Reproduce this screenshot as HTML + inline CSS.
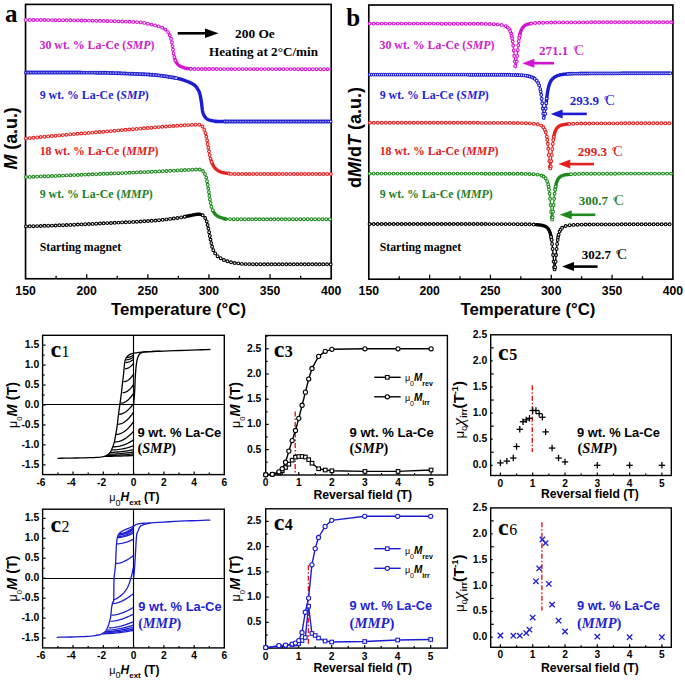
<!DOCTYPE html>
<html><head><meta charset="utf-8"><style>
html,body{margin:0;padding:0;background:#fff;}
svg{display:block;}
</style></head><body>
<svg width="685" height="681" viewBox="0 0 685 681">
<rect width="685" height="681" fill="#fff"/>
<rect x="25.55" y="4.4" width="305.65" height="274.35" fill="none" stroke="#000" stroke-width="1.65"/>
<line x1="56.11" y1="278.75" x2="56.11" y2="275.75" stroke="#000" stroke-width="1.3"/>
<line x1="86.68" y1="278.75" x2="86.68" y2="274.25" stroke="#000" stroke-width="1.3"/>
<line x1="117.24" y1="278.75" x2="117.24" y2="275.75" stroke="#000" stroke-width="1.3"/>
<line x1="147.81" y1="278.75" x2="147.81" y2="274.25" stroke="#000" stroke-width="1.3"/>
<line x1="178.38" y1="278.75" x2="178.38" y2="275.75" stroke="#000" stroke-width="1.3"/>
<line x1="208.94" y1="278.75" x2="208.94" y2="274.25" stroke="#000" stroke-width="1.3"/>
<line x1="239.5" y1="278.75" x2="239.5" y2="275.75" stroke="#000" stroke-width="1.3"/>
<line x1="270.07" y1="278.75" x2="270.07" y2="274.25" stroke="#000" stroke-width="1.3"/>
<line x1="300.63" y1="278.75" x2="300.63" y2="275.75" stroke="#000" stroke-width="1.3"/>
<text x="25.55" y="295.3" font-family="'Liberation Sans', sans-serif" font-size="12.2" font-weight="bold" font-style="normal" fill="#000" text-anchor="middle" textLength="20.4" lengthAdjust="spacingAndGlyphs">150</text>
<text x="86.68" y="295.3" font-family="'Liberation Sans', sans-serif" font-size="12.2" font-weight="bold" font-style="normal" fill="#000" text-anchor="middle" textLength="20.4" lengthAdjust="spacingAndGlyphs">200</text>
<text x="147.81" y="295.3" font-family="'Liberation Sans', sans-serif" font-size="12.2" font-weight="bold" font-style="normal" fill="#000" text-anchor="middle" textLength="20.4" lengthAdjust="spacingAndGlyphs">250</text>
<text x="208.94" y="295.3" font-family="'Liberation Sans', sans-serif" font-size="12.2" font-weight="bold" font-style="normal" fill="#000" text-anchor="middle" textLength="20.4" lengthAdjust="spacingAndGlyphs">300</text>
<text x="270.07" y="295.3" font-family="'Liberation Sans', sans-serif" font-size="12.2" font-weight="bold" font-style="normal" fill="#000" text-anchor="middle" textLength="20.4" lengthAdjust="spacingAndGlyphs">350</text>
<text x="331.2" y="295.3" font-family="'Liberation Sans', sans-serif" font-size="12.2" font-weight="bold" font-style="normal" fill="#000" text-anchor="middle" textLength="20.4" lengthAdjust="spacingAndGlyphs">400</text>
<text x="111" y="315.4" font-family="'Liberation Sans', sans-serif" font-size="16" font-weight="bold" font-style="normal" fill="#000" text-anchor="start" textLength="135" lengthAdjust="spacingAndGlyphs">Temperature (°C)</text>
<text transform="translate(17.1,169.5) rotate(-90)" font-family="'Liberation Sans', sans-serif" font-size="18" font-weight="bold" textLength="62.3" lengthAdjust="spacingAndGlyphs"><tspan font-style="italic">M</tspan> (a.u.)</text>
<text x="5" y="21.5" font-family="'Liberation Serif', serif" font-size="25" font-weight="bold" font-style="normal" fill="#000" text-anchor="start">a</text>
<path d="M26,19.9 L28.58,19.92 L31.97,19.95 L36,19.98 L40.5,20.01 L45.32,20.05 L50.28,20.1 L55.23,20.15 L60,20.2 L64.82,20.26 L69.93,20.32 L75.22,20.39 L80.56,20.47 L85.83,20.55 L90.91,20.63 L95.68,20.71 L100,20.8 L103.91,20.89 L107.54,20.99 L110.91,21.09 L114.06,21.19 L117.02,21.3 L119.8,21.4 L122.46,21.5 L125,21.6 L127.39,21.68 L129.57,21.75 L131.58,21.82 L133.44,21.88 L135.18,21.95 L136.84,22.04 L138.43,22.16 L140,22.3 L141.49,22.48 L142.85,22.67 L144.12,22.89 L145.31,23.13 L146.47,23.38 L147.62,23.65 L148.78,23.92 L150,24.2 L151.28,24.49 L152.62,24.8 L153.97,25.13 L155.31,25.46 L156.62,25.8 L157.85,26.14 L158.99,26.47 L160,26.8 L160.88,27.12 L161.65,27.43 L162.33,27.73 L162.94,28.04 L163.49,28.34 L164.01,28.66 L164.5,28.97 L165,29.3 L165.48,29.63 L165.91,29.96 L166.32,30.29 L166.69,30.63 L167.04,30.98 L167.37,31.34 L167.69,31.71 L168,32.1 L168.3,32.5 L168.58,32.91 L168.85,33.33 L169.09,33.76 L169.33,34.2 L169.56,34.68 L169.78,35.17 L170,35.7 L170.21,36.27 L170.42,36.87 L170.62,37.5 L170.81,38.15 L171,38.81 L171.17,39.48 L171.34,40.15 L171.5,40.8 L171.65,41.43 L171.78,42.05 L171.91,42.65 L172.03,43.27 L172.14,43.9 L172.25,44.56 L172.37,45.25 L172.5,46 L172.63,46.81 L172.76,47.69 L172.89,48.6 L173.02,49.54 L173.16,50.49 L173.3,51.43 L173.45,52.34 L173.6,53.2 L173.76,54.03 L173.91,54.85 L174.08,55.66 L174.24,56.44 L174.42,57.21 L174.6,57.94 L174.79,58.64 L175,59.3 L175.21,59.92 L175.43,60.5 L175.66,61.05 L175.9,61.57 L176.15,62.06 L176.42,62.53 L176.7,62.97 L177,63.4 L177.31,63.8 L177.63,64.17 L177.96,64.51 L178.31,64.83 L178.68,65.13 L179.09,65.43 L179.52,65.71 L180,66 L180.53,66.29 L181.11,66.57 L181.73,66.85 L182.38,67.12 L183.04,67.37 L183.7,67.61 L184.36,67.82 L185,68 L185.59,68.15 L186.13,68.28 L186.66,68.38 L187.19,68.46 L187.76,68.52 L188.4,68.58 L189.14,68.64 L190,68.7 L190.67,68.76 L190.98,68.81 L191.19,68.85 L191.56,68.89 L192.37,68.92 L193.87,68.95 L196.32,68.97 L200,69 L205.03,69.02 L211.23,69.04 L218.35,69.05 L226.19,69.06 L234.5,69.07 L243.05,69.08 L251.63,69.09 L260,69.1 L268.83,69.11 L278.64,69.13 L288.94,69.14 L299.25,69.16 L309.09,69.17 L317.98,69.18 L325.45,69.19 L331,69.2" fill="none" stroke="#d414d4" stroke-width="1.3" stroke-linejoin="round"/>
<path d="M175,59.3 L175.21,59.92 L175.43,60.5 L175.66,61.05 L175.9,61.57 L176.15,62.06 L176.42,62.53 L176.7,62.97 L177,63.4 L177.31,63.8 L177.63,64.17 L177.96,64.51 L178.31,64.83 L178.68,65.13 L179.09,65.43 L179.52,65.71 L180,66 L180.53,66.29 L181.11,66.57 L181.73,66.85 L182.38,67.12 L183.04,67.37 L183.7,67.61 L184.36,67.82 L185,68 L185.59,68.15 L186.13,68.28 L186.66,68.38 L187.19,68.46 L187.76,68.52 L188.4,68.58 L189.14,68.64 L190,68.7 L190.67,68.76 L190.98,68.81" fill="none" stroke="#d414d4" stroke-width="3.4" stroke-linejoin="round" stroke-linecap="round"/>
<g fill="#fff" stroke="#d414d4" stroke-width="1.1"><circle cx="26.0" cy="19.9" r="1.4"/><circle cx="29.7" cy="19.9" r="1.4"/><circle cx="33.4" cy="20.0" r="1.4"/><circle cx="37.1" cy="20.0" r="1.4"/><circle cx="40.8" cy="20.0" r="1.4"/><circle cx="44.5" cy="20.0" r="1.4"/><circle cx="48.2" cy="20.1" r="1.4"/><circle cx="51.9" cy="20.1" r="1.4"/><circle cx="55.6" cy="20.2" r="1.4"/><circle cx="59.3" cy="20.2" r="1.4"/><circle cx="63.0" cy="20.2" r="1.4"/><circle cx="66.7" cy="20.3" r="1.4"/><circle cx="70.4" cy="20.3" r="1.4"/><circle cx="74.1" cy="20.4" r="1.4"/><circle cx="77.8" cy="20.4" r="1.4"/><circle cx="81.5" cy="20.5" r="1.4"/><circle cx="85.2" cy="20.5" r="1.4"/><circle cx="88.9" cy="20.6" r="1.4"/><circle cx="92.6" cy="20.7" r="1.4"/><circle cx="96.3" cy="20.7" r="1.4"/><circle cx="100.0" cy="20.8" r="1.4"/><circle cx="103.7" cy="20.9" r="1.4"/><circle cx="107.4" cy="21.0" r="1.4"/><circle cx="111.1" cy="21.1" r="1.4"/><circle cx="114.8" cy="21.2" r="1.4"/><circle cx="118.5" cy="21.4" r="1.4"/><circle cx="122.2" cy="21.5" r="1.4"/><circle cx="125.9" cy="21.6" r="1.4"/><circle cx="129.6" cy="21.8" r="1.4"/><circle cx="133.3" cy="21.9" r="1.4"/><circle cx="137.0" cy="22.1" r="1.4"/><circle cx="140.7" cy="22.4" r="1.4"/><circle cx="144.3" cy="22.9" r="1.4"/><circle cx="147.9" cy="23.7" r="1.4"/><circle cx="151.5" cy="24.6" r="1.4"/><circle cx="155.1" cy="25.4" r="1.4"/><circle cx="158.7" cy="26.4" r="1.4"/><circle cx="162.2" cy="27.7" r="1.4"/><circle cx="165.4" cy="29.5" r="1.4"/><circle cx="168.0" cy="32.1" r="1.4"/><circle cx="169.8" cy="35.3" r="1.4"/><circle cx="171.0" cy="38.8" r="1.4"/><circle cx="171.9" cy="42.4" r="1.4"/><circle cx="172.5" cy="46.1" r="1.4"/><circle cx="173.0" cy="49.7" r="1.4"/><circle cx="173.6" cy="53.4" r="1.4"/><circle cx="174.4" cy="57.0" r="1.4"/><circle cx="175.4" cy="60.5" r="1.4"/><circle cx="190.8" cy="68.8" r="1.4"/><circle cx="194.5" cy="69.0" r="1.4"/><circle cx="198.2" cy="69.0" r="1.4"/><circle cx="201.9" cy="69.0" r="1.4"/><circle cx="205.6" cy="69.0" r="1.4"/><circle cx="209.3" cy="69.0" r="1.4"/><circle cx="213.0" cy="69.0" r="1.4"/><circle cx="216.7" cy="69.0" r="1.4"/><circle cx="220.4" cy="69.1" r="1.4"/><circle cx="224.1" cy="69.1" r="1.4"/><circle cx="227.8" cy="69.1" r="1.4"/><circle cx="231.5" cy="69.1" r="1.4"/><circle cx="235.2" cy="69.1" r="1.4"/><circle cx="238.9" cy="69.1" r="1.4"/><circle cx="242.6" cy="69.1" r="1.4"/><circle cx="246.3" cy="69.1" r="1.4"/><circle cx="250.0" cy="69.1" r="1.4"/><circle cx="253.7" cy="69.1" r="1.4"/><circle cx="257.4" cy="69.1" r="1.4"/><circle cx="261.1" cy="69.1" r="1.4"/><circle cx="264.8" cy="69.1" r="1.4"/><circle cx="268.5" cy="69.1" r="1.4"/><circle cx="272.2" cy="69.1" r="1.4"/><circle cx="275.9" cy="69.1" r="1.4"/><circle cx="279.6" cy="69.1" r="1.4"/><circle cx="283.3" cy="69.1" r="1.4"/><circle cx="287.0" cy="69.1" r="1.4"/><circle cx="290.7" cy="69.1" r="1.4"/><circle cx="294.4" cy="69.1" r="1.4"/><circle cx="298.1" cy="69.2" r="1.4"/><circle cx="301.8" cy="69.2" r="1.4"/><circle cx="305.5" cy="69.2" r="1.4"/><circle cx="309.2" cy="69.2" r="1.4"/><circle cx="312.9" cy="69.2" r="1.4"/><circle cx="316.6" cy="69.2" r="1.4"/><circle cx="320.3" cy="69.2" r="1.4"/><circle cx="324.0" cy="69.2" r="1.4"/><circle cx="327.7" cy="69.2" r="1.4"/></g>
<path d="M26,72.5 L28.58,72.5 L31.97,72.5 L36,72.49 L40.5,72.49 L45.32,72.49 L50.28,72.49 L55.23,72.49 L60,72.5 L64.82,72.51 L69.93,72.52 L75.22,72.53 L80.56,72.55 L85.83,72.57 L90.91,72.6 L95.68,72.64 L100,72.7 L103.84,72.77 L107.3,72.85 L110.47,72.94 L113.44,73.04 L116.28,73.15 L119.1,73.26 L121.98,73.38 L125,73.5 L128.19,73.62 L131.48,73.74 L134.81,73.87 L138.12,74 L141.36,74.14 L144.45,74.28 L147.35,74.44 L150,74.6 L152.35,74.77 L154.45,74.94 L156.36,75.11 L158.12,75.29 L159.81,75.49 L161.48,75.7 L163.19,75.94 L165,76.2 L166.91,76.49 L168.87,76.8 L170.84,77.13 L172.81,77.48 L174.74,77.84 L176.6,78.22 L178.36,78.6 L180,79 L181.52,79.42 L182.97,79.86 L184.34,80.32 L185.62,80.79 L186.84,81.26 L187.97,81.72 L189.02,82.17 L190,82.6 L190.88,83 L191.66,83.38 L192.34,83.74 L192.96,84.1 L193.51,84.46 L194.03,84.82 L194.52,85.2 L195,85.6 L195.45,86.02 L195.86,86.45 L196.22,86.9 L196.54,87.35 L196.85,87.81 L197.14,88.27 L197.42,88.74 L197.7,89.2 L197.98,89.65 L198.25,90.08 L198.5,90.51 L198.74,90.95 L198.97,91.41 L199.19,91.89 L199.4,92.42 L199.6,93 L199.79,93.64 L199.98,94.34 L200.15,95.08 L200.31,95.85 L200.47,96.64 L200.62,97.43 L200.76,98.23 L200.9,99 L201.03,99.77 L201.16,100.54 L201.27,101.32 L201.38,102.1 L201.49,102.88 L201.59,103.66 L201.7,104.43 L201.8,105.2 L201.9,105.97 L201.99,106.76 L202.08,107.54 L202.16,108.33 L202.25,109.09 L202.35,109.83 L202.47,110.54 L202.6,111.2 L202.75,111.82 L202.9,112.4 L203.07,112.96 L203.25,113.48 L203.44,113.98 L203.65,114.47 L203.86,114.94 L204.1,115.4 L204.35,115.85 L204.61,116.29 L204.89,116.7 L205.17,117.11 L205.48,117.49 L205.8,117.85 L206.14,118.19 L206.5,118.5 L206.87,118.78 L207.24,119.04 L207.62,119.27 L208.03,119.48 L208.46,119.68 L208.92,119.86 L209.44,120.03 L210,120.2 L210.6,120.36 L211.23,120.52 L211.89,120.66 L212.59,120.79 L213.35,120.91 L214.16,121.02 L215.04,121.11 L216,121.2 L216.41,121.27 L215.99,121.33 L215.28,121.38 L214.81,121.41 L215.12,121.44 L216.73,121.46 L220.18,121.48 L226,121.5 L235.3,121.51 L248.03,121.52 L263.03,121.52 L279.12,121.52 L295.14,121.51 L309.91,121.51 L322.25,121.5 L331,121.5" fill="none" stroke="#1c1cd0" stroke-width="1.3" stroke-linejoin="round"/>
<path d="M176.6,78.22 L178.36,78.6 L180,79 L181.52,79.42 L182.97,79.86 L184.34,80.32 L185.62,80.79 L186.84,81.26 L187.97,81.72 L189.02,82.17 L190,82.6 L190.88,83 L191.66,83.38 L192.34,83.74 L192.96,84.1 L193.51,84.46 L194.03,84.82 L194.52,85.2 L195,85.6 L195.45,86.02 L195.86,86.45 L196.22,86.9 L196.54,87.35 L196.85,87.81 L197.14,88.27 L197.42,88.74 L197.7,89.2 L197.98,89.65 L198.25,90.08 L198.5,90.51 L198.74,90.95 L198.97,91.41 L199.19,91.89 L199.4,92.42 L199.6,93 L199.79,93.64 L199.98,94.34 L200.15,95.08 L200.31,95.85 L200.47,96.64 L200.62,97.43 L200.76,98.23 L200.9,99 L201.03,99.77 L201.16,100.54 L201.27,101.32 L201.38,102.1 L201.49,102.88 L201.59,103.66 L201.7,104.43 L201.8,105.2 L201.9,105.97 L201.99,106.76 L202.08,107.54 L202.16,108.33 L202.25,109.09 L202.35,109.83 L202.47,110.54 L202.6,111.2 L202.75,111.82 L202.9,112.4 L203.07,112.96 L203.25,113.48 L203.44,113.98 L203.65,114.47 L203.86,114.94 L204.1,115.4 L204.35,115.85 L204.61,116.29 L204.89,116.7 L205.17,117.11 L205.48,117.49 L205.8,117.85 L206.14,118.19 L206.5,118.5 L206.87,118.78 L207.24,119.04 L207.62,119.27 L208.03,119.48 L208.46,119.68 L208.92,119.86 L209.44,120.03 L210,120.2 L210.6,120.36 L211.23,120.52 L211.89,120.66 L212.59,120.79 L213.35,120.91 L214.16,121.02 L215.04,121.11 L216,121.2 L216.41,121.27 L215.99,121.33 L215.28,121.38 L214.81,121.41 L215.12,121.44 L216.73,121.46 L220.18,121.48 L226,121.5" fill="none" stroke="#1c1cd0" stroke-width="3.4" stroke-linejoin="round" stroke-linecap="round"/>
<g fill="#fff" stroke="#1c1cd0" stroke-width="1.1"><circle cx="26.0" cy="72.5" r="1.4"/><circle cx="27.6" cy="72.5" r="1.4"/><circle cx="29.2" cy="72.5" r="1.4"/><circle cx="30.8" cy="72.5" r="1.4"/><circle cx="32.4" cy="72.5" r="1.4"/><circle cx="34.0" cy="72.5" r="1.4"/><circle cx="35.6" cy="72.5" r="1.4"/><circle cx="37.2" cy="72.5" r="1.4"/><circle cx="38.8" cy="72.5" r="1.4"/><circle cx="40.4" cy="72.5" r="1.4"/><circle cx="42.0" cy="72.5" r="1.4"/><circle cx="43.6" cy="72.5" r="1.4"/><circle cx="45.2" cy="72.5" r="1.4"/><circle cx="46.8" cy="72.5" r="1.4"/><circle cx="48.4" cy="72.5" r="1.4"/><circle cx="50.0" cy="72.5" r="1.4"/><circle cx="51.6" cy="72.5" r="1.4"/><circle cx="53.2" cy="72.5" r="1.4"/><circle cx="54.8" cy="72.5" r="1.4"/><circle cx="56.4" cy="72.5" r="1.4"/><circle cx="58.0" cy="72.5" r="1.4"/><circle cx="59.6" cy="72.5" r="1.4"/><circle cx="61.2" cy="72.5" r="1.4"/><circle cx="62.8" cy="72.5" r="1.4"/><circle cx="64.4" cy="72.5" r="1.4"/><circle cx="66.0" cy="72.5" r="1.4"/><circle cx="67.6" cy="72.5" r="1.4"/><circle cx="69.2" cy="72.5" r="1.4"/><circle cx="70.8" cy="72.5" r="1.4"/><circle cx="72.4" cy="72.5" r="1.4"/><circle cx="74.0" cy="72.5" r="1.4"/><circle cx="75.6" cy="72.5" r="1.4"/><circle cx="77.2" cy="72.5" r="1.4"/><circle cx="78.8" cy="72.5" r="1.4"/><circle cx="80.4" cy="72.5" r="1.4"/><circle cx="82.0" cy="72.6" r="1.4"/><circle cx="83.6" cy="72.6" r="1.4"/><circle cx="85.2" cy="72.6" r="1.4"/><circle cx="86.8" cy="72.6" r="1.4"/><circle cx="88.4" cy="72.6" r="1.4"/><circle cx="90.0" cy="72.6" r="1.4"/><circle cx="91.6" cy="72.6" r="1.4"/><circle cx="93.2" cy="72.6" r="1.4"/><circle cx="94.8" cy="72.6" r="1.4"/><circle cx="96.4" cy="72.7" r="1.4"/><circle cx="98.0" cy="72.7" r="1.4"/><circle cx="99.6" cy="72.7" r="1.4"/><circle cx="101.2" cy="72.7" r="1.4"/><circle cx="102.8" cy="72.8" r="1.4"/><circle cx="104.4" cy="72.8" r="1.4"/><circle cx="106.0" cy="72.8" r="1.4"/><circle cx="107.6" cy="72.9" r="1.4"/><circle cx="109.2" cy="72.9" r="1.4"/><circle cx="110.8" cy="73.0" r="1.4"/><circle cx="112.4" cy="73.0" r="1.4"/><circle cx="114.0" cy="73.1" r="1.4"/><circle cx="115.6" cy="73.1" r="1.4"/><circle cx="117.2" cy="73.2" r="1.4"/><circle cx="118.8" cy="73.3" r="1.4"/><circle cx="120.4" cy="73.3" r="1.4"/><circle cx="122.0" cy="73.4" r="1.4"/><circle cx="123.6" cy="73.4" r="1.4"/><circle cx="125.2" cy="73.5" r="1.4"/><circle cx="126.8" cy="73.6" r="1.4"/><circle cx="128.4" cy="73.6" r="1.4"/><circle cx="130.0" cy="73.7" r="1.4"/><circle cx="131.6" cy="73.7" r="1.4"/><circle cx="133.2" cy="73.8" r="1.4"/><circle cx="134.8" cy="73.9" r="1.4"/><circle cx="136.4" cy="73.9" r="1.4"/><circle cx="138.0" cy="74.0" r="1.4"/><circle cx="139.6" cy="74.1" r="1.4"/><circle cx="141.2" cy="74.1" r="1.4"/><circle cx="142.8" cy="74.2" r="1.4"/><circle cx="144.4" cy="74.3" r="1.4"/><circle cx="146.0" cy="74.4" r="1.4"/><circle cx="147.6" cy="74.4" r="1.4"/><circle cx="149.2" cy="74.5" r="1.4"/><circle cx="150.8" cy="74.7" r="1.4"/><circle cx="152.4" cy="74.8" r="1.4"/><circle cx="153.9" cy="74.9" r="1.4"/><circle cx="155.5" cy="75.0" r="1.4"/><circle cx="157.1" cy="75.2" r="1.4"/><circle cx="158.7" cy="75.4" r="1.4"/><circle cx="160.3" cy="75.6" r="1.4"/><circle cx="161.9" cy="75.8" r="1.4"/><circle cx="163.5" cy="76.0" r="1.4"/><circle cx="165.1" cy="76.2" r="1.4"/><circle cx="166.7" cy="76.4" r="1.4"/><circle cx="168.2" cy="76.7" r="1.4"/><circle cx="169.8" cy="77.0" r="1.4"/><circle cx="171.4" cy="77.2" r="1.4"/><circle cx="173.0" cy="77.5" r="1.4"/><circle cx="174.5" cy="77.8" r="1.4"/><circle cx="176.1" cy="78.1" r="1.4"/><circle cx="225.0" cy="121.5" r="1.4"/><circle cx="226.6" cy="121.5" r="1.4"/><circle cx="228.2" cy="121.5" r="1.4"/><circle cx="229.8" cy="121.5" r="1.4"/><circle cx="231.4" cy="121.5" r="1.4"/><circle cx="233.0" cy="121.5" r="1.4"/><circle cx="234.6" cy="121.5" r="1.4"/><circle cx="236.2" cy="121.5" r="1.4"/><circle cx="237.8" cy="121.5" r="1.4"/><circle cx="239.4" cy="121.5" r="1.4"/><circle cx="241.0" cy="121.5" r="1.4"/><circle cx="242.6" cy="121.5" r="1.4"/><circle cx="244.2" cy="121.5" r="1.4"/><circle cx="245.8" cy="121.5" r="1.4"/><circle cx="247.4" cy="121.5" r="1.4"/><circle cx="249.0" cy="121.5" r="1.4"/><circle cx="250.6" cy="121.5" r="1.4"/><circle cx="252.2" cy="121.5" r="1.4"/><circle cx="253.8" cy="121.5" r="1.4"/><circle cx="255.4" cy="121.5" r="1.4"/><circle cx="257.0" cy="121.5" r="1.4"/><circle cx="258.6" cy="121.5" r="1.4"/><circle cx="260.2" cy="121.5" r="1.4"/><circle cx="261.8" cy="121.5" r="1.4"/><circle cx="263.4" cy="121.5" r="1.4"/><circle cx="265.0" cy="121.5" r="1.4"/><circle cx="266.6" cy="121.5" r="1.4"/><circle cx="268.2" cy="121.5" r="1.4"/><circle cx="269.8" cy="121.5" r="1.4"/><circle cx="271.4" cy="121.5" r="1.4"/><circle cx="273.0" cy="121.5" r="1.4"/><circle cx="274.6" cy="121.5" r="1.4"/><circle cx="276.2" cy="121.5" r="1.4"/><circle cx="277.8" cy="121.5" r="1.4"/><circle cx="279.4" cy="121.5" r="1.4"/><circle cx="281.0" cy="121.5" r="1.4"/><circle cx="282.6" cy="121.5" r="1.4"/><circle cx="284.2" cy="121.5" r="1.4"/><circle cx="285.8" cy="121.5" r="1.4"/><circle cx="287.4" cy="121.5" r="1.4"/><circle cx="289.0" cy="121.5" r="1.4"/><circle cx="290.6" cy="121.5" r="1.4"/><circle cx="292.2" cy="121.5" r="1.4"/><circle cx="293.8" cy="121.5" r="1.4"/><circle cx="295.4" cy="121.5" r="1.4"/><circle cx="297.0" cy="121.5" r="1.4"/><circle cx="298.6" cy="121.5" r="1.4"/><circle cx="300.2" cy="121.5" r="1.4"/><circle cx="301.8" cy="121.5" r="1.4"/><circle cx="303.4" cy="121.5" r="1.4"/><circle cx="305.0" cy="121.5" r="1.4"/><circle cx="306.6" cy="121.5" r="1.4"/><circle cx="308.2" cy="121.5" r="1.4"/><circle cx="309.8" cy="121.5" r="1.4"/><circle cx="311.4" cy="121.5" r="1.4"/><circle cx="313.0" cy="121.5" r="1.4"/><circle cx="314.6" cy="121.5" r="1.4"/><circle cx="316.2" cy="121.5" r="1.4"/><circle cx="317.8" cy="121.5" r="1.4"/><circle cx="319.4" cy="121.5" r="1.4"/><circle cx="321.0" cy="121.5" r="1.4"/><circle cx="322.6" cy="121.5" r="1.4"/><circle cx="324.2" cy="121.5" r="1.4"/><circle cx="325.8" cy="121.5" r="1.4"/><circle cx="327.4" cy="121.5" r="1.4"/><circle cx="329.0" cy="121.5" r="1.4"/><circle cx="330.6" cy="121.5" r="1.4"/></g>
<path d="M26,138.4 L28.58,138.16 L31.97,137.85 L36,137.47 L40.5,137.06 L45.32,136.61 L50.28,136.16 L55.23,135.72 L60,135.3 L64.78,134.89 L69.81,134.47 L75,134.05 L80.25,133.62 L85.47,133.2 L90.56,132.78 L95.44,132.38 L100,132 L104.23,131.64 L108.2,131.3 L111.98,130.96 L115.62,130.64 L119.19,130.33 L122.73,130.02 L126.32,129.71 L130,129.4 L133.82,129.08 L137.73,128.76 L141.69,128.44 L145.62,128.13 L149.48,127.82 L153.2,127.53 L156.73,127.25 L160,127 L163.01,126.77 L165.82,126.57 L168.45,126.38 L170.94,126.21 L173.31,126.04 L175.59,125.89 L177.81,125.74 L180,125.6 L182.19,125.46 L184.35,125.32 L186.45,125.19 L188.47,125.06 L190.36,124.95 L192.11,124.85 L193.66,124.77 L195,124.7 L196.08,124.64 L196.9,124.59 L197.52,124.55 L198,124.53 L198.38,124.53 L198.73,124.55 L199.08,124.61 L199.5,124.7 L199.95,124.82 L200.37,124.95 L200.76,125.1 L201.12,125.29 L201.48,125.51 L201.82,125.78 L202.16,126.11 L202.5,126.5 L202.84,126.95 L203.17,127.44 L203.5,127.99 L203.81,128.58 L204.12,129.23 L204.42,129.93 L204.71,130.69 L205,131.5 L205.28,132.38 L205.54,133.34 L205.8,134.37 L206.04,135.44 L206.29,136.55 L206.53,137.69 L206.76,138.84 L207,140 L207.24,141.19 L207.47,142.43 L207.69,143.71 L207.92,145 L208.14,146.29 L208.36,147.57 L208.58,148.81 L208.8,150 L209.01,151.15 L209.21,152.28 L209.41,153.39 L209.61,154.47 L209.81,155.52 L210.02,156.55 L210.25,157.54 L210.5,158.5 L210.77,159.42 L211.05,160.31 L211.33,161.17 L211.64,162 L211.95,162.8 L212.29,163.56 L212.63,164.3 L213,165 L213.38,165.67 L213.76,166.31 L214.15,166.91 L214.56,167.48 L215,168.02 L215.46,168.54 L215.96,169.03 L216.5,169.5 L217.07,169.94 L217.68,170.35 L218.31,170.74 L218.97,171.1 L219.67,171.43 L220.4,171.75 L221.18,172.03 L222,172.3 L222.87,172.54 L223.78,172.75 L224.73,172.94 L225.72,173.1 L226.74,173.24 L227.8,173.37 L228.89,173.49 L230,173.6 L230.6,173.7 L230.46,173.77 L230.04,173.83 L229.81,173.88 L230.23,173.92 L231.76,173.95 L234.86,173.98 L240,174 L248.12,174.02 L259.19,174.03 L272.19,174.03 L286.12,174.03 L299.98,174.02 L312.75,174.01 L323.43,174 L331,174" fill="none" stroke="#e42222" stroke-width="1.3" stroke-linejoin="round"/>
<path d="M211.05,160.31 L211.33,161.17 L211.64,162 L211.95,162.8 L212.29,163.56 L212.63,164.3 L213,165 L213.38,165.67 L213.76,166.31 L214.15,166.91 L214.56,167.48 L215,168.02 L215.46,168.54 L215.96,169.03 L216.5,169.5 L217.07,169.94 L217.68,170.35 L218.31,170.74 L218.97,171.1 L219.67,171.43 L220.4,171.75 L221.18,172.03 L222,172.3 L222.87,172.54 L223.78,172.75 L224.73,172.94 L225.72,173.1 L226.74,173.24 L227.8,173.37" fill="none" stroke="#e42222" stroke-width="3.4" stroke-linejoin="round" stroke-linecap="round"/>
<g fill="#fff" stroke="#e42222" stroke-width="1.1"><circle cx="26.0" cy="138.4" r="1.4"/><circle cx="29.7" cy="138.1" r="1.4"/><circle cx="33.4" cy="137.7" r="1.4"/><circle cx="37.1" cy="137.4" r="1.4"/><circle cx="40.7" cy="137.0" r="1.4"/><circle cx="44.4" cy="136.7" r="1.4"/><circle cx="48.1" cy="136.4" r="1.4"/><circle cx="51.8" cy="136.0" r="1.4"/><circle cx="55.5" cy="135.7" r="1.4"/><circle cx="59.2" cy="135.4" r="1.4"/><circle cx="62.8" cy="135.1" r="1.4"/><circle cx="66.5" cy="134.7" r="1.4"/><circle cx="70.2" cy="134.4" r="1.4"/><circle cx="73.9" cy="134.1" r="1.4"/><circle cx="77.6" cy="133.8" r="1.4"/><circle cx="81.3" cy="133.5" r="1.4"/><circle cx="85.0" cy="133.2" r="1.4"/><circle cx="88.7" cy="132.9" r="1.4"/><circle cx="92.3" cy="132.6" r="1.4"/><circle cx="96.0" cy="132.3" r="1.4"/><circle cx="99.7" cy="132.0" r="1.4"/><circle cx="103.4" cy="131.7" r="1.4"/><circle cx="107.1" cy="131.4" r="1.4"/><circle cx="110.8" cy="131.1" r="1.4"/><circle cx="114.5" cy="130.7" r="1.4"/><circle cx="118.2" cy="130.4" r="1.4"/><circle cx="121.8" cy="130.1" r="1.4"/><circle cx="125.5" cy="129.8" r="1.4"/><circle cx="129.2" cy="129.5" r="1.4"/><circle cx="132.9" cy="129.2" r="1.4"/><circle cx="136.6" cy="128.9" r="1.4"/><circle cx="140.3" cy="128.6" r="1.4"/><circle cx="144.0" cy="128.3" r="1.4"/><circle cx="147.7" cy="128.0" r="1.4"/><circle cx="151.3" cy="127.7" r="1.4"/><circle cx="155.0" cy="127.4" r="1.4"/><circle cx="158.7" cy="127.1" r="1.4"/><circle cx="162.4" cy="126.8" r="1.4"/><circle cx="166.1" cy="126.5" r="1.4"/><circle cx="169.8" cy="126.3" r="1.4"/><circle cx="173.5" cy="126.0" r="1.4"/><circle cx="177.2" cy="125.8" r="1.4"/><circle cx="180.9" cy="125.5" r="1.4"/><circle cx="184.6" cy="125.3" r="1.4"/><circle cx="188.2" cy="125.1" r="1.4"/><circle cx="191.9" cy="124.9" r="1.4"/><circle cx="195.6" cy="124.7" r="1.4"/><circle cx="199.3" cy="124.7" r="1.4"/><circle cx="202.5" cy="126.5" r="1.4"/><circle cx="204.3" cy="129.7" r="1.4"/><circle cx="205.5" cy="133.2" r="1.4"/><circle cx="206.3" cy="136.8" r="1.4"/><circle cx="207.1" cy="140.4" r="1.4"/><circle cx="207.7" cy="144.0" r="1.4"/><circle cx="208.4" cy="147.7" r="1.4"/><circle cx="209.0" cy="151.3" r="1.4"/><circle cx="209.7" cy="154.9" r="1.4"/><circle cx="210.5" cy="158.6" r="1.4"/><circle cx="211.7" cy="162.1" r="1.4"/><circle cx="228.9" cy="173.5" r="1.4"/><circle cx="231.0" cy="173.9" r="1.4"/><circle cx="234.7" cy="174.0" r="1.4"/><circle cx="238.4" cy="174.0" r="1.4"/><circle cx="242.1" cy="174.0" r="1.4"/><circle cx="245.8" cy="174.0" r="1.4"/><circle cx="249.5" cy="174.0" r="1.4"/><circle cx="253.2" cy="174.0" r="1.4"/><circle cx="256.9" cy="174.0" r="1.4"/><circle cx="260.6" cy="174.0" r="1.4"/><circle cx="264.3" cy="174.0" r="1.4"/><circle cx="268.0" cy="174.0" r="1.4"/><circle cx="271.7" cy="174.0" r="1.4"/><circle cx="275.4" cy="174.0" r="1.4"/><circle cx="279.1" cy="174.0" r="1.4"/><circle cx="282.8" cy="174.0" r="1.4"/><circle cx="286.5" cy="174.0" r="1.4"/><circle cx="290.2" cy="174.0" r="1.4"/><circle cx="293.9" cy="174.0" r="1.4"/><circle cx="297.6" cy="174.0" r="1.4"/><circle cx="301.3" cy="174.0" r="1.4"/><circle cx="305.0" cy="174.0" r="1.4"/><circle cx="308.7" cy="174.0" r="1.4"/><circle cx="312.4" cy="174.0" r="1.4"/><circle cx="316.1" cy="174.0" r="1.4"/><circle cx="319.8" cy="174.0" r="1.4"/><circle cx="323.5" cy="174.0" r="1.4"/><circle cx="327.2" cy="174.0" r="1.4"/><circle cx="330.9" cy="174.0" r="1.4"/></g>
<path d="M26,177 L28.58,176.9 L31.97,176.78 L36,176.63 L40.5,176.46 L45.32,176.27 L50.28,176.08 L55.23,175.89 L60,175.7 L64.71,175.51 L69.58,175.3 L74.56,175.09 L79.62,174.88 L84.74,174.66 L89.86,174.43 L94.96,174.22 L100,174 L105.07,173.79 L110.23,173.57 L115.44,173.35 L120.62,173.14 L125.73,172.92 L130.7,172.71 L135.48,172.5 L140,172.3 L144.3,172.1 L148.44,171.9 L152.42,171.7 L156.25,171.51 L159.92,171.32 L163.44,171.14 L166.8,170.96 L170,170.8 L173.05,170.65 L175.96,170.5 L178.72,170.36 L181.31,170.23 L183.75,170.1 L186.01,169.99 L188.09,169.89 L190,169.8 L191.69,169.72 L193.15,169.65 L194.42,169.58 L195.53,169.53 L196.51,169.49 L197.39,169.47 L198.21,169.47 L199,169.5 L199.71,169.55 L200.29,169.6 L200.76,169.67 L201.16,169.76 L201.5,169.88 L201.82,170.04 L202.15,170.25 L202.5,170.5 L202.86,170.79 L203.21,171.12 L203.53,171.48 L203.84,171.88 L204.14,172.32 L204.43,172.82 L204.72,173.38 L205,174 L205.28,174.69 L205.54,175.43 L205.8,176.24 L206.05,177.09 L206.29,178 L206.53,178.96 L206.77,179.96 L207,181 L207.23,182.11 L207.45,183.29 L207.67,184.53 L207.88,185.81 L208.09,187.12 L208.3,188.43 L208.5,189.73 L208.7,191 L208.9,192.27 L209.08,193.56 L209.26,194.86 L209.44,196.16 L209.62,197.43 L209.81,198.68 L210,199.87 L210.2,201 L210.41,202.08 L210.61,203.12 L210.82,204.12 L211.04,205.08 L211.26,206 L211.49,206.88 L211.74,207.71 L212,208.5 L212.27,209.23 L212.55,209.91 L212.84,210.54 L213.14,211.13 L213.46,211.68 L213.79,212.2 L214.13,212.71 L214.5,213.2 L214.87,213.67 L215.25,214.11 L215.63,214.53 L216.03,214.92 L216.46,215.29 L216.93,215.64 L217.44,215.98 L218,216.3 L218.6,216.61 L219.21,216.9 L219.85,217.18 L220.53,217.44 L221.27,217.68 L222.09,217.9 L222.99,218.11 L224,218.3 L224.55,218.47 L224.41,218.62 L224.02,218.76 L223.88,218.88 L224.43,218.98 L226.16,219.06 L229.52,219.14 L235,219.2 L243.59,219.24 L255.27,219.26 L268.99,219.27 L283.69,219.26 L298.3,219.24 L311.76,219.22 L323.01,219.21 L331,219.2" fill="none" stroke="#1e8a1e" stroke-width="1.3" stroke-linejoin="round"/>
<path d="M213.14,211.13 L213.46,211.68 L213.79,212.2 L214.13,212.71 L214.5,213.2 L214.87,213.67 L215.25,214.11 L215.63,214.53 L216.03,214.92 L216.46,215.29 L216.93,215.64 L217.44,215.98 L218,216.3 L218.6,216.61 L219.21,216.9 L219.85,217.18 L220.53,217.44 L221.27,217.68 L222.09,217.9 L222.99,218.11 L224,218.3 L224.55,218.47 L224.41,218.62 L224.02,218.76 L223.88,218.88 L224.43,218.98 L226.16,219.06" fill="none" stroke="#1e8a1e" stroke-width="3.4" stroke-linejoin="round" stroke-linecap="round"/>
<g fill="#fff" stroke="#1e8a1e" stroke-width="1.1"><circle cx="26.0" cy="177.0" r="1.4"/><circle cx="29.7" cy="176.9" r="1.4"/><circle cx="33.4" cy="176.7" r="1.4"/><circle cx="37.1" cy="176.6" r="1.4"/><circle cx="40.8" cy="176.4" r="1.4"/><circle cx="44.5" cy="176.3" r="1.4"/><circle cx="48.2" cy="176.2" r="1.4"/><circle cx="51.9" cy="176.0" r="1.4"/><circle cx="55.6" cy="175.9" r="1.4"/><circle cx="59.3" cy="175.7" r="1.4"/><circle cx="63.0" cy="175.6" r="1.4"/><circle cx="66.7" cy="175.4" r="1.4"/><circle cx="70.4" cy="175.3" r="1.4"/><circle cx="74.1" cy="175.1" r="1.4"/><circle cx="77.8" cy="175.0" r="1.4"/><circle cx="81.5" cy="174.8" r="1.4"/><circle cx="85.2" cy="174.6" r="1.4"/><circle cx="88.8" cy="174.5" r="1.4"/><circle cx="92.5" cy="174.3" r="1.4"/><circle cx="96.2" cy="174.2" r="1.4"/><circle cx="99.9" cy="174.0" r="1.4"/><circle cx="103.6" cy="173.8" r="1.4"/><circle cx="107.3" cy="173.7" r="1.4"/><circle cx="111.0" cy="173.5" r="1.4"/><circle cx="114.7" cy="173.4" r="1.4"/><circle cx="118.4" cy="173.2" r="1.4"/><circle cx="122.1" cy="173.1" r="1.4"/><circle cx="125.8" cy="172.9" r="1.4"/><circle cx="129.5" cy="172.8" r="1.4"/><circle cx="133.2" cy="172.6" r="1.4"/><circle cx="136.9" cy="172.4" r="1.4"/><circle cx="140.6" cy="172.3" r="1.4"/><circle cx="144.3" cy="172.1" r="1.4"/><circle cx="148.0" cy="171.9" r="1.4"/><circle cx="151.7" cy="171.7" r="1.4"/><circle cx="155.4" cy="171.6" r="1.4"/><circle cx="159.1" cy="171.4" r="1.4"/><circle cx="162.8" cy="171.2" r="1.4"/><circle cx="166.5" cy="171.0" r="1.4"/><circle cx="170.2" cy="170.8" r="1.4"/><circle cx="173.9" cy="170.6" r="1.4"/><circle cx="177.6" cy="170.4" r="1.4"/><circle cx="181.3" cy="170.2" r="1.4"/><circle cx="184.9" cy="170.0" r="1.4"/><circle cx="188.6" cy="169.9" r="1.4"/><circle cx="192.3" cy="169.7" r="1.4"/><circle cx="196.0" cy="169.5" r="1.4"/><circle cx="199.7" cy="169.5" r="1.4"/><circle cx="203.0" cy="171.0" r="1.4"/><circle cx="205.0" cy="174.1" r="1.4"/><circle cx="206.2" cy="177.6" r="1.4"/><circle cx="207.0" cy="181.2" r="1.4"/><circle cx="207.7" cy="184.8" r="1.4"/><circle cx="208.3" cy="188.5" r="1.4"/><circle cx="208.9" cy="192.1" r="1.4"/><circle cx="209.4" cy="195.8" r="1.4"/><circle cx="209.9" cy="199.4" r="1.4"/><circle cx="210.6" cy="203.1" r="1.4"/><circle cx="211.4" cy="206.7" r="1.4"/><circle cx="212.7" cy="210.2" r="1.4"/><circle cx="230.0" cy="219.1" r="1.4"/><circle cx="233.7" cy="219.2" r="1.4"/><circle cx="237.4" cy="219.2" r="1.4"/><circle cx="241.1" cy="219.2" r="1.4"/><circle cx="244.8" cy="219.2" r="1.4"/><circle cx="248.5" cy="219.3" r="1.4"/><circle cx="252.2" cy="219.3" r="1.4"/><circle cx="255.9" cy="219.3" r="1.4"/><circle cx="259.6" cy="219.3" r="1.4"/><circle cx="263.3" cy="219.3" r="1.4"/><circle cx="267.0" cy="219.3" r="1.4"/><circle cx="270.7" cy="219.3" r="1.4"/><circle cx="274.4" cy="219.3" r="1.4"/><circle cx="278.1" cy="219.3" r="1.4"/><circle cx="281.8" cy="219.3" r="1.4"/><circle cx="285.5" cy="219.3" r="1.4"/><circle cx="289.2" cy="219.2" r="1.4"/><circle cx="292.9" cy="219.2" r="1.4"/><circle cx="296.6" cy="219.2" r="1.4"/><circle cx="300.3" cy="219.2" r="1.4"/><circle cx="304.0" cy="219.2" r="1.4"/><circle cx="307.7" cy="219.2" r="1.4"/><circle cx="311.4" cy="219.2" r="1.4"/><circle cx="315.1" cy="219.2" r="1.4"/><circle cx="318.8" cy="219.2" r="1.4"/><circle cx="322.5" cy="219.2" r="1.4"/><circle cx="326.2" cy="219.2" r="1.4"/><circle cx="329.9" cy="219.2" r="1.4"/></g>
<path d="M26,226.4 L28.58,226.32 L31.97,226.22 L36,226.1 L40.5,225.96 L45.32,225.81 L50.28,225.65 L55.23,225.48 L60,225.3 L64.64,225.11 L69.34,224.92 L74.12,224.71 L79,224.49 L84,224.26 L89.16,224.02 L94.48,223.77 L100,223.5 L105.94,223.21 L112.38,222.91 L119.12,222.58 L125.94,222.25 L132.64,221.91 L139.02,221.57 L144.88,221.23 L150,220.9 L154.41,220.57 L158.31,220.24 L161.78,219.9 L164.88,219.57 L167.68,219.24 L170.25,218.91 L172.67,218.6 L175,218.3 L177.15,218.01 L179.01,217.73 L180.63,217.45 L182.06,217.19 L183.36,216.93 L184.59,216.68 L185.78,216.44 L187,216.2 L188.22,215.97 L189.36,215.74 L190.45,215.51 L191.47,215.29 L192.43,215.09 L193.34,214.9 L194.19,214.74 L195,214.6 L195.74,214.48 L196.41,214.38 L197.01,214.3 L197.56,214.24 L198.08,214.19 L198.56,214.17 L199.03,214.17 L199.5,214.2 L199.95,214.24 L200.36,214.3 L200.73,214.37 L201.09,214.47 L201.44,214.6 L201.79,214.76 L202.14,214.96 L202.5,215.2 L202.88,215.48 L203.27,215.8 L203.67,216.15 L204.06,216.54 L204.45,216.96 L204.82,217.43 L205.17,217.94 L205.5,218.5 L205.8,219.1 L206.07,219.75 L206.33,220.44 L206.58,221.18 L206.81,221.95 L207.04,222.76 L207.27,223.61 L207.5,224.5 L207.74,225.44 L207.97,226.44 L208.19,227.48 L208.42,228.56 L208.64,229.67 L208.86,230.78 L209.08,231.9 L209.3,233 L209.52,234.11 L209.73,235.25 L209.93,236.4 L210.14,237.56 L210.34,238.71 L210.56,239.84 L210.77,240.94 L211,242 L211.23,243.03 L211.46,244.04 L211.68,245.03 L211.92,246 L212.16,246.94 L212.42,247.84 L212.7,248.69 L213,249.5 L213.32,250.26 L213.66,250.97 L214.01,251.63 L214.38,252.26 L214.76,252.86 L215.16,253.43 L215.57,253.97 L216,254.5 L216.43,254.99 L216.86,255.44 L217.29,255.86 L217.75,256.25 L218.24,256.63 L218.77,257.01 L219.35,257.39 L220,257.8 L220.7,258.23 L221.45,258.67 L222.23,259.12 L223.06,259.57 L223.95,260.01 L224.9,260.43 L225.91,260.83 L227,261.2 L228.14,261.54 L229.33,261.87 L230.57,262.17 L231.88,262.46 L233.26,262.73 L234.73,262.98 L236.31,263.2 L238,263.4 L239.43,263.57 L240.45,263.71 L241.34,263.83 L242.44,263.93 L244.04,264.01 L246.46,264.08 L250.01,264.14 L255,264.2 L262.2,264.25 L271.63,264.28 L282.52,264.29 L294.06,264.3 L305.47,264.3 L315.96,264.3 L324.73,264.3 L331,264.3" fill="none" stroke="#000" stroke-width="1.3" stroke-linejoin="round"/>
<path d="M184.59,216.68 L185.78,216.44 L187,216.2 L188.22,215.97 L189.36,215.74 L190.45,215.51 L191.47,215.29 L192.43,215.09 L193.34,214.9 L194.19,214.74 L195,214.6 L195.74,214.48 L196.41,214.38 L197.01,214.3 L197.56,214.24 L198.08,214.19 L198.56,214.17 L199.03,214.17 L199.5,214.2 L199.95,214.24 L200.36,214.3 L200.73,214.37" fill="none" stroke="#000" stroke-width="3.4" stroke-linejoin="round" stroke-linecap="round"/>
<g fill="#fff" stroke="#000" stroke-width="1.1"><circle cx="26.0" cy="226.4" r="1.4"/><circle cx="29.7" cy="226.3" r="1.4"/><circle cx="33.4" cy="226.2" r="1.4"/><circle cx="37.1" cy="226.1" r="1.4"/><circle cx="40.8" cy="226.0" r="1.4"/><circle cx="44.5" cy="225.8" r="1.4"/><circle cx="48.2" cy="225.7" r="1.4"/><circle cx="51.9" cy="225.6" r="1.4"/><circle cx="55.6" cy="225.5" r="1.4"/><circle cx="59.3" cy="225.3" r="1.4"/><circle cx="63.0" cy="225.2" r="1.4"/><circle cx="66.7" cy="225.0" r="1.4"/><circle cx="70.4" cy="224.9" r="1.4"/><circle cx="74.1" cy="224.7" r="1.4"/><circle cx="77.8" cy="224.5" r="1.4"/><circle cx="81.5" cy="224.4" r="1.4"/><circle cx="85.2" cy="224.2" r="1.4"/><circle cx="88.9" cy="224.0" r="1.4"/><circle cx="92.6" cy="223.9" r="1.4"/><circle cx="96.2" cy="223.7" r="1.4"/><circle cx="99.9" cy="223.5" r="1.4"/><circle cx="103.6" cy="223.3" r="1.4"/><circle cx="107.3" cy="223.1" r="1.4"/><circle cx="111.0" cy="223.0" r="1.4"/><circle cx="114.7" cy="222.8" r="1.4"/><circle cx="118.4" cy="222.6" r="1.4"/><circle cx="122.1" cy="222.4" r="1.4"/><circle cx="125.8" cy="222.3" r="1.4"/><circle cx="129.5" cy="222.1" r="1.4"/><circle cx="133.2" cy="221.9" r="1.4"/><circle cx="136.9" cy="221.7" r="1.4"/><circle cx="140.6" cy="221.5" r="1.4"/><circle cx="144.3" cy="221.3" r="1.4"/><circle cx="148.0" cy="221.0" r="1.4"/><circle cx="151.7" cy="220.8" r="1.4"/><circle cx="155.4" cy="220.5" r="1.4"/><circle cx="159.0" cy="220.2" r="1.4"/><circle cx="162.7" cy="219.8" r="1.4"/><circle cx="166.4" cy="219.4" r="1.4"/><circle cx="170.1" cy="218.9" r="1.4"/><circle cx="173.7" cy="218.5" r="1.4"/><circle cx="177.4" cy="218.0" r="1.4"/><circle cx="181.1" cy="217.4" r="1.4"/><circle cx="184.7" cy="216.7" r="1.4"/><circle cx="202.7" cy="215.3" r="1.4"/><circle cx="205.2" cy="218.0" r="1.4"/><circle cx="206.7" cy="221.4" r="1.4"/><circle cx="207.6" cy="225.0" r="1.4"/><circle cx="208.4" cy="228.6" r="1.4"/><circle cx="209.1" cy="232.2" r="1.4"/><circle cx="209.8" cy="235.9" r="1.4"/><circle cx="210.5" cy="239.5" r="1.4"/><circle cx="211.3" cy="243.1" r="1.4"/><circle cx="212.1" cy="246.7" r="1.4"/><circle cx="213.3" cy="250.2" r="1.4"/><circle cx="215.2" cy="253.4" r="1.4"/><circle cx="217.6" cy="256.2" r="1.4"/><circle cx="220.7" cy="258.2" r="1.4"/><circle cx="223.9" cy="260.0" r="1.4"/><circle cx="227.4" cy="261.3" r="1.4"/><circle cx="231.0" cy="262.3" r="1.4"/><circle cx="234.6" cy="263.0" r="1.4"/><circle cx="238.3" cy="263.4" r="1.4"/><circle cx="241.9" cy="263.9" r="1.4"/><circle cx="245.6" cy="264.1" r="1.4"/><circle cx="249.3" cy="264.1" r="1.4"/><circle cx="253.0" cy="264.2" r="1.4"/><circle cx="256.7" cy="264.2" r="1.4"/><circle cx="260.4" cy="264.2" r="1.4"/><circle cx="264.1" cy="264.3" r="1.4"/><circle cx="267.8" cy="264.3" r="1.4"/><circle cx="271.5" cy="264.3" r="1.4"/><circle cx="275.2" cy="264.3" r="1.4"/><circle cx="278.9" cy="264.3" r="1.4"/><circle cx="282.6" cy="264.3" r="1.4"/><circle cx="286.3" cy="264.3" r="1.4"/><circle cx="290.0" cy="264.3" r="1.4"/><circle cx="293.7" cy="264.3" r="1.4"/><circle cx="297.4" cy="264.3" r="1.4"/><circle cx="301.1" cy="264.3" r="1.4"/><circle cx="304.8" cy="264.3" r="1.4"/><circle cx="308.5" cy="264.3" r="1.4"/><circle cx="312.2" cy="264.3" r="1.4"/><circle cx="315.9" cy="264.3" r="1.4"/><circle cx="319.6" cy="264.3" r="1.4"/><circle cx="323.3" cy="264.3" r="1.4"/><circle cx="327.0" cy="264.3" r="1.4"/><circle cx="330.7" cy="264.3" r="1.4"/></g>
<text x="39.5" y="48.5" font-family="'Liberation Serif', serif" font-size="12" font-weight="bold" fill="#cc22cc" textLength="115" lengthAdjust="spacingAndGlyphs">30 wt. % La-Ce (<tspan font-style="italic">SMP</tspan>)</text>
<text x="39.7" y="99.3" font-family="'Liberation Serif', serif" font-size="12" font-weight="bold" fill="#2424d2" textLength="109" lengthAdjust="spacingAndGlyphs">9 wt. % La-Ce (<tspan font-style="italic">SMP</tspan>)</text>
<text x="39.7" y="154.7" font-family="'Liberation Serif', serif" font-size="12" font-weight="bold" fill="#dd2222" textLength="118.8" lengthAdjust="spacingAndGlyphs">18 wt. % La-Ce (<tspan font-style="italic">MMP</tspan>)</text>
<text x="39.7" y="198" font-family="'Liberation Serif', serif" font-size="12" font-weight="bold" fill="#1f801f" textLength="113" lengthAdjust="spacingAndGlyphs">9 wt. % La-Ce (<tspan font-style="italic">MMP</tspan>)</text>
<text x="39.7" y="250.8" font-family="'Liberation Serif', serif" font-size="12" font-weight="bold" font-style="normal" fill="#000" text-anchor="start" textLength="81.5" lengthAdjust="spacingAndGlyphs">Starting magnet</text>
<line x1="177.7" y1="33.3" x2="206" y2="33.3" stroke="#000" stroke-width="2.6"/>
<polygon points="218.5,33.3 205,28.6 205,38" fill="#000"/>
<text x="235" y="38" font-family="'Liberation Serif', serif" font-size="13.4" font-weight="bold" font-style="normal" fill="#000" text-anchor="start" textLength="39.8" lengthAdjust="spacingAndGlyphs">200 Oe</text>
<text x="209" y="55.5" font-family="'Liberation Serif', serif" font-size="13" font-weight="bold" font-style="normal" fill="#000" text-anchor="start" textLength="109" lengthAdjust="spacingAndGlyphs">Heating at 2°C/min</text>
<rect x="368.8" y="5" width="304.1" height="274.2" fill="none" stroke="#000" stroke-width="1.65"/>
<line x1="399.21" y1="279.2" x2="399.21" y2="276.2" stroke="#000" stroke-width="1.3"/>
<line x1="429.62" y1="279.2" x2="429.62" y2="274.7" stroke="#000" stroke-width="1.3"/>
<line x1="460.03" y1="279.2" x2="460.03" y2="276.2" stroke="#000" stroke-width="1.3"/>
<line x1="490.44" y1="279.2" x2="490.44" y2="274.7" stroke="#000" stroke-width="1.3"/>
<line x1="520.85" y1="279.2" x2="520.85" y2="276.2" stroke="#000" stroke-width="1.3"/>
<line x1="551.26" y1="279.2" x2="551.26" y2="274.7" stroke="#000" stroke-width="1.3"/>
<line x1="581.67" y1="279.2" x2="581.67" y2="276.2" stroke="#000" stroke-width="1.3"/>
<line x1="612.08" y1="279.2" x2="612.08" y2="274.7" stroke="#000" stroke-width="1.3"/>
<line x1="642.49" y1="279.2" x2="642.49" y2="276.2" stroke="#000" stroke-width="1.3"/>
<text x="368.8" y="295.3" font-family="'Liberation Sans', sans-serif" font-size="12.2" font-weight="bold" font-style="normal" fill="#000" text-anchor="middle" textLength="20.4" lengthAdjust="spacingAndGlyphs">150</text>
<text x="429.62" y="295.3" font-family="'Liberation Sans', sans-serif" font-size="12.2" font-weight="bold" font-style="normal" fill="#000" text-anchor="middle" textLength="20.4" lengthAdjust="spacingAndGlyphs">200</text>
<text x="490.44" y="295.3" font-family="'Liberation Sans', sans-serif" font-size="12.2" font-weight="bold" font-style="normal" fill="#000" text-anchor="middle" textLength="20.4" lengthAdjust="spacingAndGlyphs">250</text>
<text x="551.26" y="295.3" font-family="'Liberation Sans', sans-serif" font-size="12.2" font-weight="bold" font-style="normal" fill="#000" text-anchor="middle" textLength="20.4" lengthAdjust="spacingAndGlyphs">300</text>
<text x="612.08" y="295.3" font-family="'Liberation Sans', sans-serif" font-size="12.2" font-weight="bold" font-style="normal" fill="#000" text-anchor="middle" textLength="20.4" lengthAdjust="spacingAndGlyphs">350</text>
<text x="672.9" y="295.3" font-family="'Liberation Sans', sans-serif" font-size="12.2" font-weight="bold" font-style="normal" fill="#000" text-anchor="middle" textLength="20.4" lengthAdjust="spacingAndGlyphs">400</text>
<text x="460.4" y="315.4" font-family="'Liberation Sans', sans-serif" font-size="16" font-weight="bold" font-style="normal" fill="#000" text-anchor="start" textLength="135" lengthAdjust="spacingAndGlyphs">Temperature (°C)</text>
<text transform="translate(361.3,188.1) rotate(-90)" font-family="'Liberation Sans', sans-serif" font-size="18" font-weight="bold" textLength="101" lengthAdjust="spacingAndGlyphs">d<tspan font-style="italic">M</tspan>/d<tspan font-style="italic">T</tspan> (a.u.)</text>
<text x="346.3" y="25.5" font-family="'Liberation Serif', serif" font-size="25" font-weight="bold" font-style="normal" fill="#000" text-anchor="start">b</text>
<path d="M369.7,23.61 L370.2,23.61 L370.7,23.61 L371.2,23.61 L371.7,23.61 L372.2,23.61 L372.7,23.61 L373.2,23.61 L373.7,23.61 L374.2,23.61 L374.7,23.61 L375.2,23.61 L375.7,23.61 L376.2,23.61 L376.7,23.61 L377.2,23.61 L377.7,23.61 L378.2,23.61 L378.7,23.61 L379.2,23.61 L379.7,23.61 L380.2,23.62 L380.7,23.62 L381.2,23.62 L381.7,23.62 L382.2,23.62 L382.7,23.62 L383.2,23.62 L383.7,23.62 L384.2,23.62 L384.7,23.62 L385.2,23.62 L385.7,23.62 L386.2,23.62 L386.7,23.62 L387.2,23.62 L387.7,23.62 L388.2,23.62 L388.7,23.62 L389.2,23.62 L389.7,23.62 L390.2,23.62 L390.7,23.62 L391.2,23.62 L391.7,23.62 L392.2,23.62 L392.7,23.62 L393.2,23.62 L393.7,23.62 L394.2,23.62 L394.7,23.62 L395.2,23.62 L395.7,23.62 L396.2,23.62 L396.7,23.62 L397.2,23.62 L397.7,23.62 L398.2,23.62 L398.7,23.62 L399.2,23.62 L399.7,23.62 L400.2,23.62 L400.7,23.62 L401.2,23.62 L401.7,23.62 L402.2,23.62 L402.7,23.62 L403.2,23.62 L403.7,23.62 L404.2,23.62 L404.7,23.62 L405.2,23.62 L405.7,23.62 L406.2,23.62 L406.7,23.62 L407.2,23.62 L407.7,23.62 L408.2,23.62 L408.7,23.62 L409.2,23.62 L409.7,23.62 L410.2,23.62 L410.7,23.63 L411.2,23.63 L411.7,23.63 L412.2,23.63 L412.7,23.63 L413.2,23.63 L413.7,23.63 L414.2,23.63 L414.7,23.63 L415.2,23.63 L415.7,23.63 L416.2,23.63 L416.7,23.63 L417.2,23.63 L417.7,23.63 L418.2,23.63 L418.7,23.63 L419.2,23.63 L419.7,23.63 L420.2,23.63 L420.7,23.63 L421.2,23.63 L421.7,23.63 L422.2,23.63 L422.7,23.63 L423.2,23.63 L423.7,23.63 L424.2,23.63 L424.7,23.63 L425.2,23.63 L425.7,23.63 L426.2,23.63 L426.7,23.63 L427.2,23.64 L427.7,23.64 L428.2,23.64 L428.7,23.64 L429.2,23.64 L429.7,23.64 L430.2,23.64 L430.7,23.64 L431.2,23.64 L431.7,23.64 L432.2,23.64 L432.7,23.64 L433.2,23.64 L433.7,23.64 L434.2,23.64 L434.7,23.64 L435.2,23.64 L435.7,23.64 L436.2,23.64 L436.7,23.64 L437.2,23.64 L437.7,23.65 L438.2,23.65 L438.7,23.65 L439.2,23.65 L439.7,23.65 L440.2,23.65 L440.7,23.65 L441.2,23.65 L441.7,23.65 L442.2,23.65 L442.7,23.65 L443.2,23.65 L443.7,23.65 L444.2,23.65 L444.7,23.65 L445.2,23.66 L445.7,23.66 L446.2,23.66 L446.7,23.66 L447.2,23.66 L447.7,23.66 L448.2,23.66 L448.7,23.66 L449.2,23.66 L449.7,23.66 L450.2,23.66 L450.7,23.67 L451.2,23.67 L451.7,23.67 L452.2,23.67 L452.7,23.67 L453.2,23.67 L453.7,23.67 L454.2,23.67 L454.7,23.67 L455.2,23.68 L455.7,23.68 L456.2,23.68 L456.7,23.68 L457.2,23.68 L457.7,23.68 L458.2,23.68 L458.7,23.68 L459.2,23.69 L459.7,23.69 L460.2,23.69 L460.7,23.69 L461.2,23.69 L461.7,23.69 L462.2,23.7 L462.7,23.7 L463.2,23.7 L463.7,23.7 L464.2,23.7 L464.7,23.71 L465.2,23.71 L465.7,23.71 L466.2,23.71 L466.7,23.71 L467.2,23.72 L467.7,23.72 L468.2,23.72 L468.7,23.72 L469.2,23.73 L469.7,23.73 L470.2,23.73 L470.7,23.74 L471.2,23.74 L471.7,23.74 L472.2,23.75 L472.7,23.75 L473.2,23.75 L473.7,23.76 L474.2,23.76 L474.7,23.76 L475.2,23.77 L475.7,23.77 L476.2,23.78 L476.7,23.78 L477.2,23.79 L477.7,23.79 L478.2,23.8 L478.7,23.8 L479.2,23.81 L479.7,23.81 L480.2,23.82 L480.7,23.82 L481.2,23.83 L481.7,23.84 L482.2,23.84 L482.7,23.85 L483.2,23.86 L483.7,23.87 L484.2,23.88 L484.7,23.89 L485.2,23.89 L485.7,23.9 L486.2,23.91 L486.7,23.93 L487.2,23.94 L487.7,23.95 L488.2,23.96 L488.7,23.97 L489.2,23.99 L489.7,24 L490.2,24.02 L490.7,24.04 L491.2,24.05 L491.7,24.07 L492.2,24.09 L492.7,24.11 L493.2,24.13 L493.7,24.16 L494.2,24.18 L494.7,24.21 L495.2,24.24 L495.7,24.27 L496.2,24.31 L496.7,24.34 L497.2,24.38 L497.7,24.42 L498.2,24.47 L498.7,24.52 L499.2,24.57 L499.7,24.63 L500.2,24.69 L500.7,24.77 L501.2,24.84 L501.7,24.93 L502.2,25.02 L502.7,25.13 L503.2,25.25 L503.7,25.38 L504.2,25.53 L504.7,25.7 L505.2,25.89 L505.7,26.11 L506.2,26.36 L506.7,26.65 L507.2,26.99 L507.7,27.39 L508.2,27.86 L508.7,28.43 L509.2,29.11 L509.7,29.94 L510.2,30.95 L510.7,32.21 L511.2,33.78 L511.7,35.76 L512.2,38.28 L512.7,41.47 L513.2,45.47 L513.7,50.36 L514.2,55.96 L514.7,61.62 L515.2,66.08 L515.7,67.8 L516.2,66.07 L516.7,61.6 L517.2,55.9 L517.7,50.24 L518.2,45.28 L518.7,41.19 L519.2,37.92 L519.7,35.33 L520.2,33.27 L520.7,31.63 L521.2,30.31 L521.7,29.23 L522.2,28.35 L522.7,27.62 L523.2,27.01 L523.7,26.49 L524.2,26.05 L524.7,25.67 L525.2,25.35 L525.7,25.07 L526.2,24.82 L526.7,24.61 L527.2,24.42 L527.7,24.25 L528.2,24.1 L528.7,23.97 L529.2,23.85 L529.7,23.74 L530.2,23.65 L530.7,23.56 L531.2,23.48 L531.7,23.41 L532.2,23.34 L532.7,23.28 L533.2,23.23 L533.7,23.18 L534.2,23.13 L534.7,23.09 L535.2,23.05 L535.7,23.01 L536.2,22.97 L536.7,22.94 L537.2,22.91 L537.7,22.89 L538.2,22.86 L538.7,22.84 L539.2,22.81 L539.7,22.79 L540.2,22.77 L540.7,22.75 L541.2,22.74 L541.7,22.72 L542.2,22.7 L542.7,22.69 L543.2,22.67 L543.7,22.66 L544.2,22.65 L544.7,22.64 L545.2,22.63 L545.7,22.61 L546.2,22.6 L546.7,22.59 L547.2,22.59 L547.7,22.58 L548.2,22.57 L548.7,22.56 L549.2,22.55 L549.7,22.54 L550.2,22.54 L550.7,22.53 L551.2,22.52 L551.7,22.52 L552.2,22.51 L552.7,22.51 L553.2,22.5 L553.7,22.5 L554.2,22.49 L554.7,22.49 L555.2,22.48 L555.7,22.48 L556.2,22.47 L556.7,22.47 L557.2,22.46 L557.7,22.46 L558.2,22.46 L558.7,22.45 L559.2,22.45 L559.7,22.45 L560.2,22.44 L560.7,22.44 L561.2,22.44 L561.7,22.43 L562.2,22.43 L562.7,22.43 L563.2,22.43 L563.7,22.42 L564.2,22.42 L564.7,22.42 L565.2,22.42 L565.7,22.41 L566.2,22.41 L566.7,22.41 L567.2,22.41 L567.7,22.4 L568.2,22.4 L568.7,22.4 L569.2,22.4 L569.7,22.4 L570.2,22.4 L570.7,22.39 L571.2,22.39 L571.7,22.39 L572.2,22.39 L572.7,22.39 L573.2,22.39 L573.7,22.38 L574.2,22.38 L574.7,22.38 L575.2,22.38 L575.7,22.38 L576.2,22.38 L576.7,22.38 L577.2,22.38 L577.7,22.37 L578.2,22.37 L578.7,22.37 L579.2,22.37 L579.7,22.37 L580.2,22.37 L580.7,22.37 L581.2,22.37 L581.7,22.37 L582.2,22.36 L582.7,22.36 L583.2,22.36 L583.7,22.36 L584.2,22.36 L584.7,22.36 L585.2,22.36 L585.7,22.36 L586.2,22.36 L586.7,22.36 L587.2,22.36 L587.7,22.35 L588.2,22.35 L588.7,22.35 L589.2,22.35 L589.7,22.35 L590.2,22.35 L590.7,22.35 L591.2,22.35 L591.7,22.35 L592.2,22.35 L592.7,22.35 L593.2,22.35 L593.7,22.35 L594.2,22.35 L594.7,22.35 L595.2,22.34 L595.7,22.34 L596.2,22.34 L596.7,22.34 L597.2,22.34 L597.7,22.34 L598.2,22.34 L598.7,22.34 L599.2,22.34 L599.7,22.34 L600.2,22.34 L600.7,22.34 L601.2,22.34 L601.7,22.34 L602.2,22.34 L602.7,22.34 L603.2,22.34 L603.7,22.34 L604.2,22.34 L604.7,22.34 L605.2,22.34 L605.7,22.34 L606.2,22.33 L606.7,22.33 L607.2,22.33 L607.7,22.33 L608.2,22.33 L608.7,22.33 L609.2,22.33 L609.7,22.33 L610.2,22.33 L610.7,22.33 L611.2,22.33 L611.7,22.33 L612.2,22.33 L612.7,22.33 L613.2,22.33 L613.7,22.33 L614.2,22.33 L614.7,22.33 L615.2,22.33 L615.7,22.33 L616.2,22.33 L616.7,22.33 L617.2,22.33 L617.7,22.33 L618.2,22.33 L618.7,22.33 L619.2,22.33 L619.7,22.33 L620.2,22.33 L620.7,22.33 L621.2,22.33 L621.7,22.33 L622.2,22.33 L622.7,22.32 L623.2,22.32 L623.7,22.32 L624.2,22.32 L624.7,22.32 L625.2,22.32 L625.7,22.32 L626.2,22.32 L626.7,22.32 L627.2,22.32 L627.7,22.32 L628.2,22.32 L628.7,22.32 L629.2,22.32 L629.7,22.32 L630.2,22.32 L630.7,22.32 L631.2,22.32 L631.7,22.32 L632.2,22.32 L632.7,22.32 L633.2,22.32 L633.7,22.32 L634.2,22.32 L634.7,22.32 L635.2,22.32 L635.7,22.32 L636.2,22.32 L636.7,22.32 L637.2,22.32 L637.7,22.32 L638.2,22.32 L638.7,22.32 L639.2,22.32 L639.7,22.32 L640.2,22.32 L640.7,22.32 L641.2,22.32 L641.7,22.32 L642.2,22.32 L642.7,22.32 L643.2,22.32 L643.7,22.32 L644.2,22.32 L644.7,22.32 L645.2,22.32 L645.7,22.32 L646.2,22.32 L646.7,22.32 L647.2,22.32 L647.7,22.32 L648.2,22.32 L648.7,22.32 L649.2,22.32 L649.7,22.32 L650.2,22.32 L650.7,22.32 L651.2,22.32 L651.7,22.32 L652.2,22.32 L652.7,22.32 L653.2,22.32 L653.7,22.31 L654.2,22.31 L654.7,22.31 L655.2,22.31 L655.7,22.31 L656.2,22.31 L656.7,22.31 L657.2,22.31 L657.7,22.31 L658.2,22.31 L658.7,22.31 L659.2,22.31 L659.7,22.31 L660.2,22.31 L660.7,22.31 L661.2,22.31 L661.7,22.31 L662.2,22.31 L662.7,22.31 L663.2,22.31 L663.7,22.31 L664.2,22.31 L664.7,22.31 L665.2,22.31 L665.7,22.31 L666.2,22.31 L666.7,22.31 L667.2,22.31 L667.7,22.31 L668.2,22.31 L668.7,22.31 L669.2,22.31 L669.7,22.31 L670.2,22.31 L670.7,22.31 L671.2,22.31" fill="none" stroke="#d414d4" stroke-width="1.3" stroke-linejoin="round"/>
<path d="M519.2,37.92 L519.7,35.33 L520.2,33.27 L520.7,31.63 L521.2,30.31 L521.7,29.23 L522.2,28.35 L522.7,27.62 L523.2,27.01 L523.7,26.49 L524.2,26.05 L524.7,25.67 L525.2,25.35 L525.7,25.07 L526.2,24.82 L526.7,24.61 L527.2,24.42 L527.7,24.25 L528.2,24.1 L528.7,23.97 L529.2,23.85 L529.7,23.74" fill="none" stroke="#d414d4" stroke-width="3.4" stroke-linejoin="round" stroke-linecap="round"/>
<g fill="#fff" stroke="#d414d4" stroke-width="1.1"><circle cx="369.7" cy="23.6" r="1.4"/><circle cx="373.7" cy="23.6" r="1.4"/><circle cx="377.7" cy="23.6" r="1.4"/><circle cx="381.7" cy="23.6" r="1.4"/><circle cx="385.7" cy="23.6" r="1.4"/><circle cx="389.7" cy="23.6" r="1.4"/><circle cx="393.7" cy="23.6" r="1.4"/><circle cx="397.7" cy="23.6" r="1.4"/><circle cx="401.7" cy="23.6" r="1.4"/><circle cx="405.7" cy="23.6" r="1.4"/><circle cx="409.7" cy="23.6" r="1.4"/><circle cx="413.7" cy="23.6" r="1.4"/><circle cx="417.7" cy="23.6" r="1.4"/><circle cx="421.7" cy="23.6" r="1.4"/><circle cx="425.7" cy="23.6" r="1.4"/><circle cx="429.7" cy="23.6" r="1.4"/><circle cx="433.7" cy="23.6" r="1.4"/><circle cx="437.7" cy="23.6" r="1.4"/><circle cx="441.7" cy="23.7" r="1.4"/><circle cx="445.7" cy="23.7" r="1.4"/><circle cx="449.7" cy="23.7" r="1.4"/><circle cx="453.7" cy="23.7" r="1.4"/><circle cx="457.7" cy="23.7" r="1.4"/><circle cx="461.7" cy="23.7" r="1.4"/><circle cx="465.7" cy="23.7" r="1.4"/><circle cx="469.7" cy="23.7" r="1.4"/><circle cx="473.7" cy="23.8" r="1.4"/><circle cx="477.7" cy="23.8" r="1.4"/><circle cx="481.7" cy="23.8" r="1.4"/><circle cx="485.7" cy="23.9" r="1.4"/><circle cx="489.7" cy="24.0" r="1.4"/><circle cx="493.7" cy="24.2" r="1.4"/><circle cx="497.7" cy="24.4" r="1.4"/><circle cx="501.7" cy="24.9" r="1.4"/><circle cx="505.7" cy="26.1" r="1.4"/><circle cx="507.7" cy="27.4" r="1.4"/><circle cx="509.2" cy="29.1" r="1.4"/><circle cx="510.2" cy="31.0" r="1.4"/><circle cx="511.2" cy="33.8" r="1.4"/><circle cx="511.7" cy="35.8" r="1.4"/><circle cx="512.2" cy="38.3" r="1.4"/><circle cx="512.7" cy="41.5" r="1.4"/><circle cx="513.2" cy="45.5" r="1.4"/><circle cx="513.7" cy="50.4" r="1.4"/><circle cx="514.2" cy="56.0" r="1.4"/><circle cx="514.7" cy="61.6" r="1.4"/><circle cx="515.2" cy="66.1" r="1.4"/><circle cx="516.7" cy="61.6" r="1.4"/><circle cx="517.2" cy="55.9" r="1.4"/><circle cx="517.7" cy="50.2" r="1.4"/><circle cx="518.2" cy="45.3" r="1.4"/><circle cx="518.7" cy="41.2" r="1.4"/><circle cx="519.2" cy="37.9" r="1.4"/><circle cx="519.7" cy="35.3" r="1.4"/><circle cx="531.2" cy="23.5" r="1.4"/><circle cx="535.2" cy="23.0" r="1.4"/><circle cx="539.2" cy="22.8" r="1.4"/><circle cx="543.2" cy="22.7" r="1.4"/><circle cx="547.2" cy="22.6" r="1.4"/><circle cx="551.2" cy="22.5" r="1.4"/><circle cx="555.2" cy="22.5" r="1.4"/><circle cx="559.2" cy="22.4" r="1.4"/><circle cx="563.2" cy="22.4" r="1.4"/><circle cx="567.2" cy="22.4" r="1.4"/><circle cx="571.2" cy="22.4" r="1.4"/><circle cx="575.2" cy="22.4" r="1.4"/><circle cx="579.2" cy="22.4" r="1.4"/><circle cx="583.2" cy="22.4" r="1.4"/><circle cx="587.2" cy="22.4" r="1.4"/><circle cx="591.2" cy="22.3" r="1.4"/><circle cx="595.2" cy="22.3" r="1.4"/><circle cx="599.2" cy="22.3" r="1.4"/><circle cx="603.2" cy="22.3" r="1.4"/><circle cx="607.2" cy="22.3" r="1.4"/><circle cx="611.2" cy="22.3" r="1.4"/><circle cx="615.2" cy="22.3" r="1.4"/><circle cx="619.2" cy="22.3" r="1.4"/><circle cx="623.2" cy="22.3" r="1.4"/><circle cx="627.2" cy="22.3" r="1.4"/><circle cx="631.2" cy="22.3" r="1.4"/><circle cx="635.2" cy="22.3" r="1.4"/><circle cx="639.2" cy="22.3" r="1.4"/><circle cx="643.2" cy="22.3" r="1.4"/><circle cx="647.2" cy="22.3" r="1.4"/><circle cx="651.2" cy="22.3" r="1.4"/><circle cx="655.2" cy="22.3" r="1.4"/><circle cx="659.2" cy="22.3" r="1.4"/><circle cx="663.2" cy="22.3" r="1.4"/><circle cx="667.2" cy="22.3" r="1.4"/><circle cx="671.2" cy="22.3" r="1.4"/></g>
<path d="M369.7,74.61 L370.2,74.61 L370.7,74.61 L371.2,74.61 L371.7,74.61 L372.2,74.61 L372.7,74.61 L373.2,74.61 L373.7,74.61 L374.2,74.61 L374.7,74.61 L375.2,74.61 L375.7,74.61 L376.2,74.61 L376.7,74.61 L377.2,74.61 L377.7,74.61 L378.2,74.61 L378.7,74.61 L379.2,74.61 L379.7,74.61 L380.2,74.61 L380.7,74.61 L381.2,74.61 L381.7,74.61 L382.2,74.61 L382.7,74.61 L383.2,74.61 L383.7,74.61 L384.2,74.61 L384.7,74.61 L385.2,74.61 L385.7,74.61 L386.2,74.61 L386.7,74.61 L387.2,74.61 L387.7,74.61 L388.2,74.61 L388.7,74.61 L389.2,74.61 L389.7,74.61 L390.2,74.61 L390.7,74.61 L391.2,74.61 L391.7,74.61 L392.2,74.61 L392.7,74.61 L393.2,74.61 L393.7,74.61 L394.2,74.61 L394.7,74.61 L395.2,74.61 L395.7,74.61 L396.2,74.61 L396.7,74.61 L397.2,74.61 L397.7,74.61 L398.2,74.61 L398.7,74.61 L399.2,74.61 L399.7,74.61 L400.2,74.61 L400.7,74.61 L401.2,74.61 L401.7,74.61 L402.2,74.61 L402.7,74.61 L403.2,74.61 L403.7,74.61 L404.2,74.61 L404.7,74.61 L405.2,74.61 L405.7,74.61 L406.2,74.61 L406.7,74.62 L407.2,74.62 L407.7,74.62 L408.2,74.62 L408.7,74.62 L409.2,74.62 L409.7,74.62 L410.2,74.62 L410.7,74.62 L411.2,74.62 L411.7,74.62 L412.2,74.62 L412.7,74.62 L413.2,74.62 L413.7,74.62 L414.2,74.62 L414.7,74.62 L415.2,74.62 L415.7,74.62 L416.2,74.62 L416.7,74.62 L417.2,74.62 L417.7,74.62 L418.2,74.62 L418.7,74.62 L419.2,74.62 L419.7,74.62 L420.2,74.62 L420.7,74.62 L421.2,74.62 L421.7,74.62 L422.2,74.62 L422.7,74.62 L423.2,74.62 L423.7,74.62 L424.2,74.62 L424.7,74.62 L425.2,74.62 L425.7,74.62 L426.2,74.62 L426.7,74.62 L427.2,74.62 L427.7,74.62 L428.2,74.62 L428.7,74.62 L429.2,74.62 L429.7,74.62 L430.2,74.62 L430.7,74.62 L431.2,74.62 L431.7,74.62 L432.2,74.62 L432.7,74.62 L433.2,74.62 L433.7,74.62 L434.2,74.62 L434.7,74.62 L435.2,74.62 L435.7,74.62 L436.2,74.62 L436.7,74.62 L437.2,74.62 L437.7,74.63 L438.2,74.63 L438.7,74.63 L439.2,74.63 L439.7,74.63 L440.2,74.63 L440.7,74.63 L441.2,74.63 L441.7,74.63 L442.2,74.63 L442.7,74.63 L443.2,74.63 L443.7,74.63 L444.2,74.63 L444.7,74.63 L445.2,74.63 L445.7,74.63 L446.2,74.63 L446.7,74.63 L447.2,74.63 L447.7,74.63 L448.2,74.63 L448.7,74.63 L449.2,74.63 L449.7,74.63 L450.2,74.63 L450.7,74.63 L451.2,74.63 L451.7,74.63 L452.2,74.63 L452.7,74.63 L453.2,74.63 L453.7,74.63 L454.2,74.64 L454.7,74.64 L455.2,74.64 L455.7,74.64 L456.2,74.64 L456.7,74.64 L457.2,74.64 L457.7,74.64 L458.2,74.64 L458.7,74.64 L459.2,74.64 L459.7,74.64 L460.2,74.64 L460.7,74.64 L461.2,74.64 L461.7,74.64 L462.2,74.64 L462.7,74.64 L463.2,74.64 L463.7,74.64 L464.2,74.64 L464.7,74.64 L465.2,74.65 L465.7,74.65 L466.2,74.65 L466.7,74.65 L467.2,74.65 L467.7,74.65 L468.2,74.65 L468.7,74.65 L469.2,74.65 L469.7,74.65 L470.2,74.65 L470.7,74.65 L471.2,74.65 L471.7,74.65 L472.2,74.65 L472.7,74.66 L473.2,74.66 L473.7,74.66 L474.2,74.66 L474.7,74.66 L475.2,74.66 L475.7,74.66 L476.2,74.66 L476.7,74.66 L477.2,74.66 L477.7,74.66 L478.2,74.67 L478.7,74.67 L479.2,74.67 L479.7,74.67 L480.2,74.67 L480.7,74.67 L481.2,74.67 L481.7,74.67 L482.2,74.67 L482.7,74.68 L483.2,74.68 L483.7,74.68 L484.2,74.68 L484.7,74.68 L485.2,74.68 L485.7,74.68 L486.2,74.68 L486.7,74.69 L487.2,74.69 L487.7,74.69 L488.2,74.69 L488.7,74.69 L489.2,74.69 L489.7,74.7 L490.2,74.7 L490.7,74.7 L491.2,74.7 L491.7,74.7 L492.2,74.7 L492.7,74.71 L493.2,74.71 L493.7,74.71 L494.2,74.71 L494.7,74.72 L495.2,74.72 L495.7,74.72 L496.2,74.72 L496.7,74.73 L497.2,74.73 L497.7,74.73 L498.2,74.73 L498.7,74.74 L499.2,74.74 L499.7,74.74 L500.2,74.75 L500.7,74.75 L501.2,74.75 L501.7,74.76 L502.2,74.76 L502.7,74.76 L503.2,74.77 L503.7,74.77 L504.2,74.78 L504.7,74.78 L505.2,74.79 L505.7,74.79 L506.2,74.8 L506.7,74.8 L507.2,74.81 L507.7,74.81 L508.2,74.82 L508.7,74.82 L509.2,74.83 L509.7,74.84 L510.2,74.85 L510.7,74.85 L511.2,74.86 L511.7,74.87 L512.2,74.88 L512.7,74.89 L513.2,74.9 L513.7,74.91 L514.2,74.92 L514.7,74.93 L515.2,74.94 L515.7,74.96 L516.2,74.97 L516.7,74.98 L517.2,75 L517.7,75.02 L518.2,75.04 L518.7,75.06 L519.2,75.08 L519.7,75.1 L520.2,75.13 L520.7,75.16 L521.2,75.19 L521.7,75.22 L522.2,75.26 L522.7,75.3 L523.2,75.35 L523.7,75.39 L524.2,75.45 L524.7,75.5 L525.2,75.57 L525.7,75.64 L526.2,75.71 L526.7,75.79 L527.2,75.88 L527.7,75.98 L528.2,76.08 L528.7,76.2 L529.2,76.32 L529.7,76.46 L530.2,76.61 L530.7,76.77 L531.2,76.95 L531.7,77.14 L532.2,77.35 L532.7,77.58 L533.2,77.83 L533.7,78.11 L534.2,78.42 L534.7,78.77 L535.2,79.15 L535.7,79.59 L536.2,80.08 L536.7,80.65 L537.2,81.31 L537.7,82.09 L538.2,83 L538.7,84.1 L539.2,85.43 L539.7,87.07 L540.2,89.1 L540.7,91.62 L541.2,94.77 L541.7,98.65 L542.2,103.3 L542.7,108.52 L543.2,113.68 L543.7,117.67 L544.2,119.2 L544.7,117.67 L545.2,113.66 L545.7,108.46 L546.2,103.18 L546.7,98.46 L547.2,94.5 L547.7,91.28 L548.2,88.67 L548.7,86.57 L549.2,84.87 L549.7,83.47 L550.2,82.31 L550.7,81.33 L551.2,80.51 L551.7,79.8 L552.2,79.19 L552.7,78.65 L553.2,78.18 L553.7,77.76 L554.2,77.39 L554.7,77.05 L555.2,76.75 L555.7,76.47 L556.2,76.22 L556.7,76 L557.2,75.79 L557.7,75.6 L558.2,75.42 L558.7,75.27 L559.2,75.12 L559.7,74.98 L560.2,74.86 L560.7,74.75 L561.2,74.65 L561.7,74.55 L562.2,74.46 L562.7,74.39 L563.2,74.31 L563.7,74.25 L564.2,74.19 L564.7,74.13 L565.2,74.08 L565.7,74.03 L566.2,73.99 L566.7,73.95 L567.2,73.92 L567.7,73.88 L568.2,73.85 L568.7,73.82 L569.2,73.8 L569.7,73.78 L570.2,73.75 L570.7,73.73 L571.2,73.72 L571.7,73.7 L572.2,73.68 L572.7,73.67 L573.2,73.65 L573.7,73.64 L574.2,73.63 L574.7,73.62 L575.2,73.61 L575.7,73.6 L576.2,73.59 L576.7,73.58 L577.2,73.57 L577.7,73.56 L578.2,73.55 L578.7,73.55 L579.2,73.54 L579.7,73.53 L580.2,73.53 L580.7,73.52 L581.2,73.51 L581.7,73.51 L582.2,73.5 L582.7,73.5 L583.2,73.49 L583.7,73.49 L584.2,73.48 L584.7,73.48 L585.2,73.47 L585.7,73.47 L586.2,73.47 L586.7,73.46 L587.2,73.46 L587.7,73.45 L588.2,73.45 L588.7,73.45 L589.2,73.44 L589.7,73.44 L590.2,73.44 L590.7,73.44 L591.2,73.43 L591.7,73.43 L592.2,73.43 L592.7,73.42 L593.2,73.42 L593.7,73.42 L594.2,73.42 L594.7,73.41 L595.2,73.41 L595.7,73.41 L596.2,73.41 L596.7,73.41 L597.2,73.4 L597.7,73.4 L598.2,73.4 L598.7,73.4 L599.2,73.4 L599.7,73.4 L600.2,73.39 L600.7,73.39 L601.2,73.39 L601.7,73.39 L602.2,73.39 L602.7,73.39 L603.2,73.38 L603.7,73.38 L604.2,73.38 L604.7,73.38 L605.2,73.38 L605.7,73.38 L606.2,73.38 L606.7,73.37 L607.2,73.37 L607.7,73.37 L608.2,73.37 L608.7,73.37 L609.2,73.37 L609.7,73.37 L610.2,73.37 L610.7,73.37 L611.2,73.37 L611.7,73.36 L612.2,73.36 L612.7,73.36 L613.2,73.36 L613.7,73.36 L614.2,73.36 L614.7,73.36 L615.2,73.36 L615.7,73.36 L616.2,73.36 L616.7,73.36 L617.2,73.35 L617.7,73.35 L618.2,73.35 L618.7,73.35 L619.2,73.35 L619.7,73.35 L620.2,73.35 L620.7,73.35 L621.2,73.35 L621.7,73.35 L622.2,73.35 L622.7,73.35 L623.2,73.35 L623.7,73.35 L624.2,73.35 L624.7,73.35 L625.2,73.34 L625.7,73.34 L626.2,73.34 L626.7,73.34 L627.2,73.34 L627.7,73.34 L628.2,73.34 L628.7,73.34 L629.2,73.34 L629.7,73.34 L630.2,73.34 L630.7,73.34 L631.2,73.34 L631.7,73.34 L632.2,73.34 L632.7,73.34 L633.2,73.34 L633.7,73.34 L634.2,73.34 L634.7,73.34 L635.2,73.34 L635.7,73.34 L636.2,73.33 L636.7,73.33 L637.2,73.33 L637.7,73.33 L638.2,73.33 L638.7,73.33 L639.2,73.33 L639.7,73.33 L640.2,73.33 L640.7,73.33 L641.2,73.33 L641.7,73.33 L642.2,73.33 L642.7,73.33 L643.2,73.33 L643.7,73.33 L644.2,73.33 L644.7,73.33 L645.2,73.33 L645.7,73.33 L646.2,73.33 L646.7,73.33 L647.2,73.33 L647.7,73.33 L648.2,73.33 L648.7,73.33 L649.2,73.33 L649.7,73.33 L650.2,73.33 L650.7,73.33 L651.2,73.33 L651.7,73.33 L652.2,73.33 L652.7,73.32 L653.2,73.32 L653.7,73.32 L654.2,73.32 L654.7,73.32 L655.2,73.32 L655.7,73.32 L656.2,73.32 L656.7,73.32 L657.2,73.32 L657.7,73.32 L658.2,73.32 L658.7,73.32 L659.2,73.32 L659.7,73.32 L660.2,73.32 L660.7,73.32 L661.2,73.32 L661.7,73.32 L662.2,73.32 L662.7,73.32 L663.2,73.32 L663.7,73.32 L664.2,73.32 L664.7,73.32 L665.2,73.32 L665.7,73.32 L666.2,73.32 L666.7,73.32 L667.2,73.32 L667.7,73.32 L668.2,73.32 L668.7,73.32 L669.2,73.32 L669.7,73.32 L670.2,73.32 L670.7,73.32 L671.2,73.32" fill="none" stroke="#1c1cd0" stroke-width="1.3" stroke-linejoin="round"/>
<path d="M546.2,103.18 L546.7,98.46 L547.2,94.5 L547.7,91.28 L548.2,88.67 L548.7,86.57 L549.2,84.87 L549.7,83.47 L550.2,82.31 L550.7,81.33 L551.2,80.51 L551.7,79.8 L552.2,79.19 L552.7,78.65 L553.2,78.18 L553.7,77.76 L554.2,77.39 L554.7,77.05 L555.2,76.75 L555.7,76.47 L556.2,76.22 L556.7,76 L557.2,75.79 L557.7,75.6 L558.2,75.42 L558.7,75.27 L559.2,75.12 L559.7,74.98 L560.2,74.86 L560.7,74.75 L561.2,74.65 L561.7,74.55 L562.2,74.46 L562.7,74.39 L563.2,74.31 L563.7,74.25 L564.2,74.19 L564.7,74.13 L565.2,74.08 L565.7,74.03 L566.2,73.99 L566.7,73.95 L567.2,73.92 L567.7,73.88" fill="none" stroke="#1c1cd0" stroke-width="3.4" stroke-linejoin="round" stroke-linecap="round"/>
<g fill="#fff" stroke="#1c1cd0" stroke-width="1.1"><circle cx="369.7" cy="74.6" r="1.4"/><circle cx="371.7" cy="74.6" r="1.4"/><circle cx="373.7" cy="74.6" r="1.4"/><circle cx="375.7" cy="74.6" r="1.4"/><circle cx="377.7" cy="74.6" r="1.4"/><circle cx="379.7" cy="74.6" r="1.4"/><circle cx="381.7" cy="74.6" r="1.4"/><circle cx="383.7" cy="74.6" r="1.4"/><circle cx="385.7" cy="74.6" r="1.4"/><circle cx="387.7" cy="74.6" r="1.4"/><circle cx="389.7" cy="74.6" r="1.4"/><circle cx="391.7" cy="74.6" r="1.4"/><circle cx="393.7" cy="74.6" r="1.4"/><circle cx="395.7" cy="74.6" r="1.4"/><circle cx="397.7" cy="74.6" r="1.4"/><circle cx="399.7" cy="74.6" r="1.4"/><circle cx="401.7" cy="74.6" r="1.4"/><circle cx="403.7" cy="74.6" r="1.4"/><circle cx="405.7" cy="74.6" r="1.4"/><circle cx="407.7" cy="74.6" r="1.4"/><circle cx="409.7" cy="74.6" r="1.4"/><circle cx="411.7" cy="74.6" r="1.4"/><circle cx="413.7" cy="74.6" r="1.4"/><circle cx="415.7" cy="74.6" r="1.4"/><circle cx="417.7" cy="74.6" r="1.4"/><circle cx="419.7" cy="74.6" r="1.4"/><circle cx="421.7" cy="74.6" r="1.4"/><circle cx="423.7" cy="74.6" r="1.4"/><circle cx="425.7" cy="74.6" r="1.4"/><circle cx="427.7" cy="74.6" r="1.4"/><circle cx="429.7" cy="74.6" r="1.4"/><circle cx="431.7" cy="74.6" r="1.4"/><circle cx="433.7" cy="74.6" r="1.4"/><circle cx="435.7" cy="74.6" r="1.4"/><circle cx="437.7" cy="74.6" r="1.4"/><circle cx="439.7" cy="74.6" r="1.4"/><circle cx="441.7" cy="74.6" r="1.4"/><circle cx="443.7" cy="74.6" r="1.4"/><circle cx="445.7" cy="74.6" r="1.4"/><circle cx="447.7" cy="74.6" r="1.4"/><circle cx="449.7" cy="74.6" r="1.4"/><circle cx="451.7" cy="74.6" r="1.4"/><circle cx="453.7" cy="74.6" r="1.4"/><circle cx="455.7" cy="74.6" r="1.4"/><circle cx="457.7" cy="74.6" r="1.4"/><circle cx="459.7" cy="74.6" r="1.4"/><circle cx="461.7" cy="74.6" r="1.4"/><circle cx="463.7" cy="74.6" r="1.4"/><circle cx="465.7" cy="74.6" r="1.4"/><circle cx="467.7" cy="74.6" r="1.4"/><circle cx="469.7" cy="74.7" r="1.4"/><circle cx="471.7" cy="74.7" r="1.4"/><circle cx="473.7" cy="74.7" r="1.4"/><circle cx="475.7" cy="74.7" r="1.4"/><circle cx="477.7" cy="74.7" r="1.4"/><circle cx="479.7" cy="74.7" r="1.4"/><circle cx="481.7" cy="74.7" r="1.4"/><circle cx="483.7" cy="74.7" r="1.4"/><circle cx="485.7" cy="74.7" r="1.4"/><circle cx="487.7" cy="74.7" r="1.4"/><circle cx="489.7" cy="74.7" r="1.4"/><circle cx="491.7" cy="74.7" r="1.4"/><circle cx="493.7" cy="74.7" r="1.4"/><circle cx="495.7" cy="74.7" r="1.4"/><circle cx="497.7" cy="74.7" r="1.4"/><circle cx="499.7" cy="74.7" r="1.4"/><circle cx="501.7" cy="74.8" r="1.4"/><circle cx="503.7" cy="74.8" r="1.4"/><circle cx="505.7" cy="74.8" r="1.4"/><circle cx="507.7" cy="74.8" r="1.4"/><circle cx="509.7" cy="74.8" r="1.4"/><circle cx="511.7" cy="74.9" r="1.4"/><circle cx="513.7" cy="74.9" r="1.4"/><circle cx="515.7" cy="75.0" r="1.4"/><circle cx="517.7" cy="75.0" r="1.4"/><circle cx="519.7" cy="75.1" r="1.4"/><circle cx="521.7" cy="75.2" r="1.4"/><circle cx="523.7" cy="75.4" r="1.4"/><circle cx="525.7" cy="75.6" r="1.4"/><circle cx="527.7" cy="76.0" r="1.4"/><circle cx="529.7" cy="76.5" r="1.4"/><circle cx="531.7" cy="77.1" r="1.4"/><circle cx="533.2" cy="77.8" r="1.4"/><circle cx="534.7" cy="78.8" r="1.4"/><circle cx="536.7" cy="80.7" r="1.4"/><circle cx="538.2" cy="83.0" r="1.4"/><circle cx="539.2" cy="85.4" r="1.4"/><circle cx="540.2" cy="89.1" r="1.4"/><circle cx="540.7" cy="91.6" r="1.4"/><circle cx="541.2" cy="94.8" r="1.4"/><circle cx="541.7" cy="98.7" r="1.4"/><circle cx="542.2" cy="103.3" r="1.4"/><circle cx="542.7" cy="108.5" r="1.4"/><circle cx="543.2" cy="113.7" r="1.4"/><circle cx="543.7" cy="117.7" r="1.4"/><circle cx="545.2" cy="113.7" r="1.4"/><circle cx="545.7" cy="108.5" r="1.4"/><circle cx="546.2" cy="103.2" r="1.4"/><circle cx="546.7" cy="98.5" r="1.4"/><circle cx="568.2" cy="73.9" r="1.4"/><circle cx="570.2" cy="73.8" r="1.4"/><circle cx="572.2" cy="73.7" r="1.4"/><circle cx="574.2" cy="73.6" r="1.4"/><circle cx="576.2" cy="73.6" r="1.4"/><circle cx="578.2" cy="73.6" r="1.4"/><circle cx="580.2" cy="73.5" r="1.4"/><circle cx="582.2" cy="73.5" r="1.4"/><circle cx="584.2" cy="73.5" r="1.4"/><circle cx="586.2" cy="73.5" r="1.4"/><circle cx="588.2" cy="73.5" r="1.4"/><circle cx="590.2" cy="73.4" r="1.4"/><circle cx="592.2" cy="73.4" r="1.4"/><circle cx="594.2" cy="73.4" r="1.4"/><circle cx="596.2" cy="73.4" r="1.4"/><circle cx="598.2" cy="73.4" r="1.4"/><circle cx="600.2" cy="73.4" r="1.4"/><circle cx="602.2" cy="73.4" r="1.4"/><circle cx="604.2" cy="73.4" r="1.4"/><circle cx="606.2" cy="73.4" r="1.4"/><circle cx="608.2" cy="73.4" r="1.4"/><circle cx="610.2" cy="73.4" r="1.4"/><circle cx="612.2" cy="73.4" r="1.4"/><circle cx="614.2" cy="73.4" r="1.4"/><circle cx="616.2" cy="73.4" r="1.4"/><circle cx="618.2" cy="73.4" r="1.4"/><circle cx="620.2" cy="73.4" r="1.4"/><circle cx="622.2" cy="73.3" r="1.4"/><circle cx="624.2" cy="73.3" r="1.4"/><circle cx="626.2" cy="73.3" r="1.4"/><circle cx="628.2" cy="73.3" r="1.4"/><circle cx="630.2" cy="73.3" r="1.4"/><circle cx="632.2" cy="73.3" r="1.4"/><circle cx="634.2" cy="73.3" r="1.4"/><circle cx="636.2" cy="73.3" r="1.4"/><circle cx="638.2" cy="73.3" r="1.4"/><circle cx="640.2" cy="73.3" r="1.4"/><circle cx="642.2" cy="73.3" r="1.4"/><circle cx="644.2" cy="73.3" r="1.4"/><circle cx="646.2" cy="73.3" r="1.4"/><circle cx="648.2" cy="73.3" r="1.4"/><circle cx="650.2" cy="73.3" r="1.4"/><circle cx="652.2" cy="73.3" r="1.4"/><circle cx="654.2" cy="73.3" r="1.4"/><circle cx="656.2" cy="73.3" r="1.4"/><circle cx="658.2" cy="73.3" r="1.4"/><circle cx="660.2" cy="73.3" r="1.4"/><circle cx="662.2" cy="73.3" r="1.4"/><circle cx="664.2" cy="73.3" r="1.4"/><circle cx="666.2" cy="73.3" r="1.4"/><circle cx="668.2" cy="73.3" r="1.4"/><circle cx="670.2" cy="73.3" r="1.4"/></g>
<path d="M369.8,122.81 L370.3,122.81 L370.8,122.81 L371.3,122.81 L371.8,122.81 L372.3,122.81 L372.8,122.81 L373.3,122.81 L373.8,122.81 L374.3,122.81 L374.8,122.81 L375.3,122.81 L375.8,122.81 L376.3,122.81 L376.8,122.81 L377.3,122.81 L377.8,122.81 L378.3,122.81 L378.8,122.81 L379.3,122.81 L379.8,122.81 L380.3,122.81 L380.8,122.81 L381.3,122.81 L381.8,122.81 L382.3,122.81 L382.8,122.81 L383.3,122.81 L383.8,122.81 L384.3,122.81 L384.8,122.81 L385.3,122.81 L385.8,122.81 L386.3,122.81 L386.8,122.81 L387.3,122.81 L387.8,122.81 L388.3,122.81 L388.8,122.81 L389.3,122.81 L389.8,122.81 L390.3,122.81 L390.8,122.81 L391.3,122.81 L391.8,122.81 L392.3,122.81 L392.8,122.81 L393.3,122.81 L393.8,122.81 L394.3,122.81 L394.8,122.81 L395.3,122.81 L395.8,122.81 L396.3,122.81 L396.8,122.81 L397.3,122.81 L397.8,122.81 L398.3,122.81 L398.8,122.81 L399.3,122.81 L399.8,122.81 L400.3,122.81 L400.8,122.81 L401.3,122.81 L401.8,122.81 L402.3,122.81 L402.8,122.81 L403.3,122.81 L403.8,122.81 L404.3,122.81 L404.8,122.81 L405.3,122.81 L405.8,122.81 L406.3,122.81 L406.8,122.81 L407.3,122.81 L407.8,122.81 L408.3,122.81 L408.8,122.81 L409.3,122.81 L409.8,122.81 L410.3,122.81 L410.8,122.81 L411.3,122.81 L411.8,122.81 L412.3,122.81 L412.8,122.81 L413.3,122.81 L413.8,122.81 L414.3,122.81 L414.8,122.81 L415.3,122.81 L415.8,122.81 L416.3,122.81 L416.8,122.81 L417.3,122.81 L417.8,122.81 L418.3,122.81 L418.8,122.81 L419.3,122.81 L419.8,122.81 L420.3,122.81 L420.8,122.81 L421.3,122.81 L421.8,122.81 L422.3,122.81 L422.8,122.81 L423.3,122.81 L423.8,122.82 L424.3,122.82 L424.8,122.82 L425.3,122.82 L425.8,122.82 L426.3,122.82 L426.8,122.82 L427.3,122.82 L427.8,122.82 L428.3,122.82 L428.8,122.82 L429.3,122.82 L429.8,122.82 L430.3,122.82 L430.8,122.82 L431.3,122.82 L431.8,122.82 L432.3,122.82 L432.8,122.82 L433.3,122.82 L433.8,122.82 L434.3,122.82 L434.8,122.82 L435.3,122.82 L435.8,122.82 L436.3,122.82 L436.8,122.82 L437.3,122.82 L437.8,122.82 L438.3,122.82 L438.8,122.82 L439.3,122.82 L439.8,122.82 L440.3,122.82 L440.8,122.82 L441.3,122.82 L441.8,122.82 L442.3,122.82 L442.8,122.82 L443.3,122.82 L443.8,122.82 L444.3,122.82 L444.8,122.82 L445.3,122.82 L445.8,122.82 L446.3,122.82 L446.8,122.82 L447.3,122.82 L447.8,122.82 L448.3,122.82 L448.8,122.82 L449.3,122.82 L449.8,122.82 L450.3,122.82 L450.8,122.82 L451.3,122.82 L451.8,122.82 L452.3,122.83 L452.8,122.83 L453.3,122.83 L453.8,122.83 L454.3,122.83 L454.8,122.83 L455.3,122.83 L455.8,122.83 L456.3,122.83 L456.8,122.83 L457.3,122.83 L457.8,122.83 L458.3,122.83 L458.8,122.83 L459.3,122.83 L459.8,122.83 L460.3,122.83 L460.8,122.83 L461.3,122.83 L461.8,122.83 L462.3,122.83 L462.8,122.83 L463.3,122.83 L463.8,122.83 L464.3,122.83 L464.8,122.83 L465.3,122.83 L465.8,122.83 L466.3,122.83 L466.8,122.83 L467.3,122.83 L467.8,122.84 L468.3,122.84 L468.8,122.84 L469.3,122.84 L469.8,122.84 L470.3,122.84 L470.8,122.84 L471.3,122.84 L471.8,122.84 L472.3,122.84 L472.8,122.84 L473.3,122.84 L473.8,122.84 L474.3,122.84 L474.8,122.84 L475.3,122.84 L475.8,122.84 L476.3,122.84 L476.8,122.84 L477.3,122.85 L477.8,122.85 L478.3,122.85 L478.8,122.85 L479.3,122.85 L479.8,122.85 L480.3,122.85 L480.8,122.85 L481.3,122.85 L481.8,122.85 L482.3,122.85 L482.8,122.85 L483.3,122.85 L483.8,122.85 L484.3,122.86 L484.8,122.86 L485.3,122.86 L485.8,122.86 L486.3,122.86 L486.8,122.86 L487.3,122.86 L487.8,122.86 L488.3,122.86 L488.8,122.86 L489.3,122.86 L489.8,122.87 L490.3,122.87 L490.8,122.87 L491.3,122.87 L491.8,122.87 L492.3,122.87 L492.8,122.87 L493.3,122.87 L493.8,122.88 L494.3,122.88 L494.8,122.88 L495.3,122.88 L495.8,122.88 L496.3,122.88 L496.8,122.88 L497.3,122.89 L497.8,122.89 L498.3,122.89 L498.8,122.89 L499.3,122.89 L499.8,122.89 L500.3,122.9 L500.8,122.9 L501.3,122.9 L501.8,122.9 L502.3,122.9 L502.8,122.91 L503.3,122.91 L503.8,122.91 L504.3,122.91 L504.8,122.92 L505.3,122.92 L505.8,122.92 L506.3,122.92 L506.8,122.93 L507.3,122.93 L507.8,122.93 L508.3,122.94 L508.8,122.94 L509.3,122.94 L509.8,122.95 L510.3,122.95 L510.8,122.95 L511.3,122.96 L511.8,122.96 L512.3,122.97 L512.8,122.97 L513.3,122.98 L513.8,122.98 L514.3,122.99 L514.8,122.99 L515.3,123 L515.8,123 L516.3,123.01 L516.8,123.01 L517.3,123.02 L517.8,123.03 L518.3,123.03 L518.8,123.04 L519.3,123.05 L519.8,123.06 L520.3,123.07 L520.8,123.08 L521.3,123.09 L521.8,123.1 L522.3,123.11 L522.8,123.12 L523.3,123.13 L523.8,123.14 L524.3,123.15 L524.8,123.17 L525.3,123.18 L525.8,123.2 L526.3,123.22 L526.8,123.23 L527.3,123.25 L527.8,123.27 L528.3,123.3 L528.8,123.32 L529.3,123.34 L529.8,123.37 L530.3,123.4 L530.8,123.43 L531.3,123.46 L531.8,123.5 L532.3,123.54 L532.8,123.58 L533.3,123.63 L533.8,123.68 L534.3,123.73 L534.8,123.79 L535.3,123.86 L535.8,123.93 L536.3,124.01 L536.8,124.1 L537.3,124.2 L537.8,124.31 L538.3,124.44 L538.8,124.58 L539.3,124.74 L539.8,124.92 L540.3,125.13 L540.8,125.37 L541.3,125.64 L541.8,125.96 L542.3,126.34 L542.8,126.78 L543.3,127.31 L543.8,127.95 L544.3,128.72 L544.8,129.67 L545.3,130.86 L545.8,132.34 L546.3,134.23 L546.8,136.66 L547.3,139.78 L547.8,143.8 L548.3,148.85 L548.8,154.85 L549.3,161.19 L549.8,166.35 L550.3,168.4 L550.8,166.35 L551.3,161.2 L551.8,154.88 L552.3,148.9 L552.8,143.88 L553.3,139.89 L553.8,136.8 L554.3,134.41 L554.8,132.54 L555.3,131.08 L555.8,129.93 L556.3,129 L556.8,128.25 L557.3,127.63 L557.8,127.12 L558.3,126.69 L558.8,126.33 L559.3,126.02 L559.8,125.76 L560.3,125.53 L560.8,125.33 L561.3,125.16 L561.8,125.01 L562.3,124.88 L562.8,124.76 L563.3,124.65 L563.8,124.56 L564.3,124.47 L564.8,124.39 L565.3,124.32 L565.8,124.26 L566.3,124.2 L566.8,124.15 L567.3,124.1 L567.8,124.06 L568.3,124.02 L568.8,123.98 L569.3,123.95 L569.8,123.92 L570.3,123.89 L570.8,123.86 L571.3,123.83 L571.8,123.81 L572.3,123.79 L572.8,123.76 L573.3,123.74 L573.8,123.73 L574.3,123.71 L574.8,123.69 L575.3,123.68 L575.8,123.66 L576.3,123.65 L576.8,123.64 L577.3,123.62 L577.8,123.61 L578.3,123.6 L578.8,123.59 L579.3,123.58 L579.8,123.57 L580.3,123.56 L580.8,123.55 L581.3,123.55 L581.8,123.54 L582.3,123.53 L582.8,123.52 L583.3,123.52 L583.8,123.51 L584.3,123.51 L584.8,123.5 L585.3,123.49 L585.8,123.49 L586.3,123.48 L586.8,123.48 L587.3,123.47 L587.8,123.47 L588.3,123.46 L588.8,123.46 L589.3,123.46 L589.8,123.45 L590.3,123.45 L590.8,123.44 L591.3,123.44 L591.8,123.44 L592.3,123.43 L592.8,123.43 L593.3,123.43 L593.8,123.43 L594.3,123.42 L594.8,123.42 L595.3,123.42 L595.8,123.41 L596.3,123.41 L596.8,123.41 L597.3,123.41 L597.8,123.41 L598.3,123.4 L598.8,123.4 L599.3,123.4 L599.8,123.4 L600.3,123.4 L600.8,123.39 L601.3,123.39 L601.8,123.39 L602.3,123.39 L602.8,123.39 L603.3,123.38 L603.8,123.38 L604.3,123.38 L604.8,123.38 L605.3,123.38 L605.8,123.38 L606.3,123.38 L606.8,123.37 L607.3,123.37 L607.8,123.37 L608.3,123.37 L608.8,123.37 L609.3,123.37 L609.8,123.37 L610.3,123.37 L610.8,123.37 L611.3,123.36 L611.8,123.36 L612.3,123.36 L612.8,123.36 L613.3,123.36 L613.8,123.36 L614.3,123.36 L614.8,123.36 L615.3,123.36 L615.8,123.36 L616.3,123.35 L616.8,123.35 L617.3,123.35 L617.8,123.35 L618.3,123.35 L618.8,123.35 L619.3,123.35 L619.8,123.35 L620.3,123.35 L620.8,123.35 L621.3,123.35 L621.8,123.35 L622.3,123.35 L622.8,123.35 L623.3,123.34 L623.8,123.34 L624.3,123.34 L624.8,123.34 L625.3,123.34 L625.8,123.34 L626.3,123.34 L626.8,123.34 L627.3,123.34 L627.8,123.34 L628.3,123.34 L628.8,123.34 L629.3,123.34 L629.8,123.34 L630.3,123.34 L630.8,123.34 L631.3,123.34 L631.8,123.34 L632.3,123.34 L632.8,123.34 L633.3,123.33 L633.8,123.33 L634.3,123.33 L634.8,123.33 L635.3,123.33 L635.8,123.33 L636.3,123.33 L636.8,123.33 L637.3,123.33 L637.8,123.33 L638.3,123.33 L638.8,123.33 L639.3,123.33 L639.8,123.33 L640.3,123.33 L640.8,123.33 L641.3,123.33 L641.8,123.33 L642.3,123.33 L642.8,123.33 L643.3,123.33 L643.8,123.33 L644.3,123.33 L644.8,123.33 L645.3,123.33 L645.8,123.33 L646.3,123.33 L646.8,123.33 L647.3,123.33 L647.8,123.33 L648.3,123.32 L648.8,123.32 L649.3,123.32 L649.8,123.32 L650.3,123.32 L650.8,123.32 L651.3,123.32 L651.8,123.32 L652.3,123.32 L652.8,123.32 L653.3,123.32 L653.8,123.32 L654.3,123.32 L654.8,123.32 L655.3,123.32 L655.8,123.32 L656.3,123.32 L656.8,123.32 L657.3,123.32 L657.8,123.32 L658.3,123.32 L658.8,123.32 L659.3,123.32 L659.8,123.32 L660.3,123.32 L660.8,123.32 L661.3,123.32 L661.8,123.32 L662.3,123.32 L662.8,123.32 L663.3,123.32 L663.8,123.32 L664.3,123.32 L664.8,123.32 L665.3,123.32 L665.8,123.32 L666.3,123.32 L666.8,123.32 L667.3,123.32 L667.8,123.32 L668.3,123.32 L668.8,123.32 L669.3,123.32 L669.8,123.32 L670.3,123.32 L670.8,123.32 L671.3,123.32" fill="none" stroke="#e42222" stroke-width="1.3" stroke-linejoin="round"/>
<path d="M553.3,139.89 L553.8,136.8 L554.3,134.41 L554.8,132.54 L555.3,131.08 L555.8,129.93 L556.3,129 L556.8,128.25 L557.3,127.63 L557.8,127.12 L558.3,126.69 L558.8,126.33 L559.3,126.02 L559.8,125.76 L560.3,125.53 L560.8,125.33 L561.3,125.16 L561.8,125.01 L562.3,124.88 L562.8,124.76 L563.3,124.65 L563.8,124.56 L564.3,124.47 L564.8,124.39 L565.3,124.32 L565.8,124.26 L566.3,124.2 L566.8,124.15 L567.3,124.1 L567.8,124.06" fill="none" stroke="#e42222" stroke-width="3.4" stroke-linejoin="round" stroke-linecap="round"/>
<g fill="#fff" stroke="#e42222" stroke-width="1.1"><circle cx="369.8" cy="122.8" r="1.4"/><circle cx="373.8" cy="122.8" r="1.4"/><circle cx="377.8" cy="122.8" r="1.4"/><circle cx="381.8" cy="122.8" r="1.4"/><circle cx="385.8" cy="122.8" r="1.4"/><circle cx="389.8" cy="122.8" r="1.4"/><circle cx="393.8" cy="122.8" r="1.4"/><circle cx="397.8" cy="122.8" r="1.4"/><circle cx="401.8" cy="122.8" r="1.4"/><circle cx="405.8" cy="122.8" r="1.4"/><circle cx="409.8" cy="122.8" r="1.4"/><circle cx="413.8" cy="122.8" r="1.4"/><circle cx="417.8" cy="122.8" r="1.4"/><circle cx="421.8" cy="122.8" r="1.4"/><circle cx="425.8" cy="122.8" r="1.4"/><circle cx="429.8" cy="122.8" r="1.4"/><circle cx="433.8" cy="122.8" r="1.4"/><circle cx="437.8" cy="122.8" r="1.4"/><circle cx="441.8" cy="122.8" r="1.4"/><circle cx="445.8" cy="122.8" r="1.4"/><circle cx="449.8" cy="122.8" r="1.4"/><circle cx="453.8" cy="122.8" r="1.4"/><circle cx="457.8" cy="122.8" r="1.4"/><circle cx="461.8" cy="122.8" r="1.4"/><circle cx="465.8" cy="122.8" r="1.4"/><circle cx="469.8" cy="122.8" r="1.4"/><circle cx="473.8" cy="122.8" r="1.4"/><circle cx="477.8" cy="122.8" r="1.4"/><circle cx="481.8" cy="122.9" r="1.4"/><circle cx="485.8" cy="122.9" r="1.4"/><circle cx="489.8" cy="122.9" r="1.4"/><circle cx="493.8" cy="122.9" r="1.4"/><circle cx="497.8" cy="122.9" r="1.4"/><circle cx="501.8" cy="122.9" r="1.4"/><circle cx="505.8" cy="122.9" r="1.4"/><circle cx="509.8" cy="122.9" r="1.4"/><circle cx="513.8" cy="123.0" r="1.4"/><circle cx="517.8" cy="123.0" r="1.4"/><circle cx="521.8" cy="123.1" r="1.4"/><circle cx="525.8" cy="123.2" r="1.4"/><circle cx="529.8" cy="123.4" r="1.4"/><circle cx="533.8" cy="123.7" r="1.4"/><circle cx="537.8" cy="124.3" r="1.4"/><circle cx="541.3" cy="125.6" r="1.4"/><circle cx="543.3" cy="127.3" r="1.4"/><circle cx="544.8" cy="129.7" r="1.4"/><circle cx="545.8" cy="132.3" r="1.4"/><circle cx="546.8" cy="136.7" r="1.4"/><circle cx="547.3" cy="139.8" r="1.4"/><circle cx="547.8" cy="143.8" r="1.4"/><circle cx="548.3" cy="148.8" r="1.4"/><circle cx="548.8" cy="154.9" r="1.4"/><circle cx="549.3" cy="161.2" r="1.4"/><circle cx="549.8" cy="166.4" r="1.4"/><circle cx="550.3" cy="168.4" r="1.4"/><circle cx="550.8" cy="166.4" r="1.4"/><circle cx="551.3" cy="161.2" r="1.4"/><circle cx="551.8" cy="154.9" r="1.4"/><circle cx="552.3" cy="148.9" r="1.4"/><circle cx="552.8" cy="143.9" r="1.4"/><circle cx="553.3" cy="139.9" r="1.4"/><circle cx="553.8" cy="136.8" r="1.4"/><circle cx="569.3" cy="123.9" r="1.4"/><circle cx="573.3" cy="123.7" r="1.4"/><circle cx="577.3" cy="123.6" r="1.4"/><circle cx="581.3" cy="123.5" r="1.4"/><circle cx="585.3" cy="123.5" r="1.4"/><circle cx="589.3" cy="123.5" r="1.4"/><circle cx="593.3" cy="123.4" r="1.4"/><circle cx="597.3" cy="123.4" r="1.4"/><circle cx="601.3" cy="123.4" r="1.4"/><circle cx="605.3" cy="123.4" r="1.4"/><circle cx="609.3" cy="123.4" r="1.4"/><circle cx="613.3" cy="123.4" r="1.4"/><circle cx="617.3" cy="123.4" r="1.4"/><circle cx="621.3" cy="123.3" r="1.4"/><circle cx="625.3" cy="123.3" r="1.4"/><circle cx="629.3" cy="123.3" r="1.4"/><circle cx="633.3" cy="123.3" r="1.4"/><circle cx="637.3" cy="123.3" r="1.4"/><circle cx="641.3" cy="123.3" r="1.4"/><circle cx="645.3" cy="123.3" r="1.4"/><circle cx="649.3" cy="123.3" r="1.4"/><circle cx="653.3" cy="123.3" r="1.4"/><circle cx="657.3" cy="123.3" r="1.4"/><circle cx="661.3" cy="123.3" r="1.4"/><circle cx="665.3" cy="123.3" r="1.4"/><circle cx="669.3" cy="123.3" r="1.4"/></g>
<path d="M369.6,173.61 L370.1,173.61 L370.6,173.61 L371.1,173.61 L371.6,173.61 L372.1,173.61 L372.6,173.61 L373.1,173.61 L373.6,173.61 L374.1,173.61 L374.6,173.61 L375.1,173.61 L375.6,173.61 L376.1,173.61 L376.6,173.61 L377.1,173.61 L377.6,173.61 L378.1,173.61 L378.6,173.61 L379.1,173.61 L379.6,173.61 L380.1,173.61 L380.6,173.61 L381.1,173.61 L381.6,173.61 L382.1,173.61 L382.6,173.61 L383.1,173.61 L383.6,173.61 L384.1,173.61 L384.6,173.61 L385.1,173.61 L385.6,173.61 L386.1,173.61 L386.6,173.61 L387.1,173.61 L387.6,173.61 L388.1,173.61 L388.6,173.61 L389.1,173.61 L389.6,173.61 L390.1,173.61 L390.6,173.61 L391.1,173.61 L391.6,173.61 L392.1,173.61 L392.6,173.61 L393.1,173.61 L393.6,173.61 L394.1,173.61 L394.6,173.61 L395.1,173.61 L395.6,173.61 L396.1,173.61 L396.6,173.61 L397.1,173.61 L397.6,173.61 L398.1,173.61 L398.6,173.61 L399.1,173.61 L399.6,173.61 L400.1,173.61 L400.6,173.61 L401.1,173.61 L401.6,173.61 L402.1,173.61 L402.6,173.61 L403.1,173.61 L403.6,173.61 L404.1,173.61 L404.6,173.61 L405.1,173.61 L405.6,173.61 L406.1,173.61 L406.6,173.61 L407.1,173.61 L407.6,173.61 L408.1,173.61 L408.6,173.61 L409.1,173.61 L409.6,173.61 L410.1,173.61 L410.6,173.61 L411.1,173.61 L411.6,173.61 L412.1,173.61 L412.6,173.61 L413.1,173.61 L413.6,173.61 L414.1,173.61 L414.6,173.61 L415.1,173.61 L415.6,173.61 L416.1,173.61 L416.6,173.61 L417.1,173.61 L417.6,173.61 L418.1,173.61 L418.6,173.61 L419.1,173.61 L419.6,173.61 L420.1,173.61 L420.6,173.61 L421.1,173.61 L421.6,173.61 L422.1,173.61 L422.6,173.61 L423.1,173.61 L423.6,173.61 L424.1,173.61 L424.6,173.61 L425.1,173.61 L425.6,173.61 L426.1,173.61 L426.6,173.61 L427.1,173.61 L427.6,173.61 L428.1,173.61 L428.6,173.61 L429.1,173.61 L429.6,173.61 L430.1,173.61 L430.6,173.62 L431.1,173.62 L431.6,173.62 L432.1,173.62 L432.6,173.62 L433.1,173.62 L433.6,173.62 L434.1,173.62 L434.6,173.62 L435.1,173.62 L435.6,173.62 L436.1,173.62 L436.6,173.62 L437.1,173.62 L437.6,173.62 L438.1,173.62 L438.6,173.62 L439.1,173.62 L439.6,173.62 L440.1,173.62 L440.6,173.62 L441.1,173.62 L441.6,173.62 L442.1,173.62 L442.6,173.62 L443.1,173.62 L443.6,173.62 L444.1,173.62 L444.6,173.62 L445.1,173.62 L445.6,173.62 L446.1,173.62 L446.6,173.62 L447.1,173.62 L447.6,173.62 L448.1,173.62 L448.6,173.62 L449.1,173.62 L449.6,173.62 L450.1,173.62 L450.6,173.62 L451.1,173.62 L451.6,173.62 L452.1,173.62 L452.6,173.62 L453.1,173.62 L453.6,173.62 L454.1,173.62 L454.6,173.62 L455.1,173.62 L455.6,173.62 L456.1,173.62 L456.6,173.62 L457.1,173.62 L457.6,173.62 L458.1,173.63 L458.6,173.63 L459.1,173.63 L459.6,173.63 L460.1,173.63 L460.6,173.63 L461.1,173.63 L461.6,173.63 L462.1,173.63 L462.6,173.63 L463.1,173.63 L463.6,173.63 L464.1,173.63 L464.6,173.63 L465.1,173.63 L465.6,173.63 L466.1,173.63 L466.6,173.63 L467.1,173.63 L467.6,173.63 L468.1,173.63 L468.6,173.63 L469.1,173.63 L469.6,173.63 L470.1,173.63 L470.6,173.63 L471.1,173.63 L471.6,173.63 L472.1,173.63 L472.6,173.64 L473.1,173.64 L473.6,173.64 L474.1,173.64 L474.6,173.64 L475.1,173.64 L475.6,173.64 L476.1,173.64 L476.6,173.64 L477.1,173.64 L477.6,173.64 L478.1,173.64 L478.6,173.64 L479.1,173.64 L479.6,173.64 L480.1,173.64 L480.6,173.64 L481.1,173.64 L481.6,173.64 L482.1,173.65 L482.6,173.65 L483.1,173.65 L483.6,173.65 L484.1,173.65 L484.6,173.65 L485.1,173.65 L485.6,173.65 L486.1,173.65 L486.6,173.65 L487.1,173.65 L487.6,173.65 L488.1,173.65 L488.6,173.66 L489.1,173.66 L489.6,173.66 L490.1,173.66 L490.6,173.66 L491.1,173.66 L491.6,173.66 L492.1,173.66 L492.6,173.66 L493.1,173.66 L493.6,173.66 L494.1,173.67 L494.6,173.67 L495.1,173.67 L495.6,173.67 L496.1,173.67 L496.6,173.67 L497.1,173.67 L497.6,173.67 L498.1,173.68 L498.6,173.68 L499.1,173.68 L499.6,173.68 L500.1,173.68 L500.6,173.68 L501.1,173.69 L501.6,173.69 L502.1,173.69 L502.6,173.69 L503.1,173.69 L503.6,173.69 L504.1,173.7 L504.6,173.7 L505.1,173.7 L505.6,173.7 L506.1,173.7 L506.6,173.71 L507.1,173.71 L507.6,173.71 L508.1,173.71 L508.6,173.72 L509.1,173.72 L509.6,173.72 L510.1,173.73 L510.6,173.73 L511.1,173.73 L511.6,173.74 L512.1,173.74 L512.6,173.74 L513.1,173.75 L513.6,173.75 L514.1,173.75 L514.6,173.76 L515.1,173.76 L515.6,173.77 L516.1,173.77 L516.6,173.78 L517.1,173.78 L517.6,173.79 L518.1,173.79 L518.6,173.8 L519.1,173.8 L519.6,173.81 L520.1,173.82 L520.6,173.82 L521.1,173.83 L521.6,173.84 L522.1,173.85 L522.6,173.85 L523.1,173.86 L523.6,173.87 L524.1,173.88 L524.6,173.89 L525.1,173.9 L525.6,173.91 L526.1,173.93 L526.6,173.94 L527.1,173.95 L527.6,173.97 L528.1,173.98 L528.6,174 L529.1,174.02 L529.6,174.04 L530.1,174.06 L530.6,174.08 L531.1,174.1 L531.6,174.12 L532.1,174.15 L532.6,174.18 L533.1,174.21 L533.6,174.24 L534.1,174.28 L534.6,174.32 L535.1,174.36 L535.6,174.4 L536.1,174.45 L536.6,174.51 L537.1,174.57 L537.6,174.64 L538.1,174.71 L538.6,174.79 L539.1,174.88 L539.6,174.98 L540.1,175.1 L540.6,175.22 L541.1,175.37 L541.6,175.53 L542.1,175.72 L542.6,175.94 L543.1,176.19 L543.6,176.49 L544.1,176.83 L544.6,177.24 L545.1,177.74 L545.6,178.33 L546.1,179.05 L546.6,179.94 L547.1,181.06 L547.6,182.47 L548.1,184.28 L548.6,186.63 L549.1,189.69 L549.6,193.68 L550.1,198.79 L550.6,205 L551.1,211.72 L551.6,217.34 L552.1,219.6 L552.6,217.34 L553.1,211.72 L553.6,205 L554.1,198.79 L554.6,193.68 L555.1,189.69 L555.6,186.63 L556.1,184.28 L556.6,182.47 L557.1,181.06 L557.6,179.94 L558.1,179.05 L558.6,178.33 L559.1,177.74 L559.6,177.24 L560.1,176.83 L560.6,176.49 L561.1,176.19 L561.6,175.94 L562.1,175.72 L562.6,175.53 L563.1,175.37 L563.6,175.22 L564.1,175.1 L564.6,174.98 L565.1,174.88 L565.6,174.79 L566.1,174.71 L566.6,174.64 L567.1,174.57 L567.6,174.51 L568.1,174.45 L568.6,174.4 L569.1,174.36 L569.6,174.32 L570.1,174.28 L570.6,174.24 L571.1,174.21 L571.6,174.18 L572.1,174.15 L572.6,174.12 L573.1,174.1 L573.6,174.08 L574.1,174.06 L574.6,174.04 L575.1,174.02 L575.6,174 L576.1,173.98 L576.6,173.97 L577.1,173.95 L577.6,173.94 L578.1,173.93 L578.6,173.91 L579.1,173.9 L579.6,173.89 L580.1,173.88 L580.6,173.87 L581.1,173.86 L581.6,173.85 L582.1,173.85 L582.6,173.84 L583.1,173.83 L583.6,173.82 L584.1,173.82 L584.6,173.81 L585.1,173.8 L585.6,173.8 L586.1,173.79 L586.6,173.79 L587.1,173.78 L587.6,173.78 L588.1,173.77 L588.6,173.77 L589.1,173.76 L589.6,173.76 L590.1,173.75 L590.6,173.75 L591.1,173.75 L591.6,173.74 L592.1,173.74 L592.6,173.74 L593.1,173.73 L593.6,173.73 L594.1,173.73 L594.6,173.72 L595.1,173.72 L595.6,173.72 L596.1,173.71 L596.6,173.71 L597.1,173.71 L597.6,173.71 L598.1,173.7 L598.6,173.7 L599.1,173.7 L599.6,173.7 L600.1,173.7 L600.6,173.69 L601.1,173.69 L601.6,173.69 L602.1,173.69 L602.6,173.69 L603.1,173.69 L603.6,173.68 L604.1,173.68 L604.6,173.68 L605.1,173.68 L605.6,173.68 L606.1,173.68 L606.6,173.67 L607.1,173.67 L607.6,173.67 L608.1,173.67 L608.6,173.67 L609.1,173.67 L609.6,173.67 L610.1,173.67 L610.6,173.66 L611.1,173.66 L611.6,173.66 L612.1,173.66 L612.6,173.66 L613.1,173.66 L613.6,173.66 L614.1,173.66 L614.6,173.66 L615.1,173.66 L615.6,173.66 L616.1,173.65 L616.6,173.65 L617.1,173.65 L617.6,173.65 L618.1,173.65 L618.6,173.65 L619.1,173.65 L619.6,173.65 L620.1,173.65 L620.6,173.65 L621.1,173.65 L621.6,173.65 L622.1,173.65 L622.6,173.64 L623.1,173.64 L623.6,173.64 L624.1,173.64 L624.6,173.64 L625.1,173.64 L625.6,173.64 L626.1,173.64 L626.6,173.64 L627.1,173.64 L627.6,173.64 L628.1,173.64 L628.6,173.64 L629.1,173.64 L629.6,173.64 L630.1,173.64 L630.6,173.64 L631.1,173.64 L631.6,173.64 L632.1,173.63 L632.6,173.63 L633.1,173.63 L633.6,173.63 L634.1,173.63 L634.6,173.63 L635.1,173.63 L635.6,173.63 L636.1,173.63 L636.6,173.63 L637.1,173.63 L637.6,173.63 L638.1,173.63 L638.6,173.63 L639.1,173.63 L639.6,173.63 L640.1,173.63 L640.6,173.63 L641.1,173.63 L641.6,173.63 L642.1,173.63 L642.6,173.63 L643.1,173.63 L643.6,173.63 L644.1,173.63 L644.6,173.63 L645.1,173.63 L645.6,173.63 L646.1,173.63 L646.6,173.62 L647.1,173.62 L647.6,173.62 L648.1,173.62 L648.6,173.62 L649.1,173.62 L649.6,173.62 L650.1,173.62 L650.6,173.62 L651.1,173.62 L651.6,173.62 L652.1,173.62 L652.6,173.62 L653.1,173.62 L653.6,173.62 L654.1,173.62 L654.6,173.62 L655.1,173.62 L655.6,173.62 L656.1,173.62 L656.6,173.62 L657.1,173.62 L657.6,173.62 L658.1,173.62 L658.6,173.62 L659.1,173.62 L659.6,173.62 L660.1,173.62 L660.6,173.62 L661.1,173.62 L661.6,173.62 L662.1,173.62 L662.6,173.62 L663.1,173.62 L663.6,173.62 L664.1,173.62 L664.6,173.62 L665.1,173.62 L665.6,173.62 L666.1,173.62 L666.6,173.62 L667.1,173.62 L667.6,173.62 L668.1,173.62 L668.6,173.62 L669.1,173.62 L669.6,173.62 L670.1,173.62 L670.6,173.62 L671.1,173.62" fill="none" stroke="#1e8a1e" stroke-width="1.3" stroke-linejoin="round"/>
<path d="M555.1,189.69 L555.6,186.63 L556.1,184.28 L556.6,182.47 L557.1,181.06 L557.6,179.94 L558.1,179.05 L558.6,178.33 L559.1,177.74 L559.6,177.24 L560.1,176.83 L560.6,176.49 L561.1,176.19 L561.6,175.94 L562.1,175.72 L562.6,175.53 L563.1,175.37 L563.6,175.22 L564.1,175.1 L564.6,174.98 L565.1,174.88 L565.6,174.79 L566.1,174.71 L566.6,174.64 L567.1,174.57 L567.6,174.51 L568.1,174.45 L568.6,174.4 L569.1,174.36 L569.6,174.32" fill="none" stroke="#1e8a1e" stroke-width="3.4" stroke-linejoin="round" stroke-linecap="round"/>
<g fill="#fff" stroke="#1e8a1e" stroke-width="1.1"><circle cx="369.6" cy="173.6" r="1.4"/><circle cx="373.6" cy="173.6" r="1.4"/><circle cx="377.6" cy="173.6" r="1.4"/><circle cx="381.6" cy="173.6" r="1.4"/><circle cx="385.6" cy="173.6" r="1.4"/><circle cx="389.6" cy="173.6" r="1.4"/><circle cx="393.6" cy="173.6" r="1.4"/><circle cx="397.6" cy="173.6" r="1.4"/><circle cx="401.6" cy="173.6" r="1.4"/><circle cx="405.6" cy="173.6" r="1.4"/><circle cx="409.6" cy="173.6" r="1.4"/><circle cx="413.6" cy="173.6" r="1.4"/><circle cx="417.6" cy="173.6" r="1.4"/><circle cx="421.6" cy="173.6" r="1.4"/><circle cx="425.6" cy="173.6" r="1.4"/><circle cx="429.6" cy="173.6" r="1.4"/><circle cx="433.6" cy="173.6" r="1.4"/><circle cx="437.6" cy="173.6" r="1.4"/><circle cx="441.6" cy="173.6" r="1.4"/><circle cx="445.6" cy="173.6" r="1.4"/><circle cx="449.6" cy="173.6" r="1.4"/><circle cx="453.6" cy="173.6" r="1.4"/><circle cx="457.6" cy="173.6" r="1.4"/><circle cx="461.6" cy="173.6" r="1.4"/><circle cx="465.6" cy="173.6" r="1.4"/><circle cx="469.6" cy="173.6" r="1.4"/><circle cx="473.6" cy="173.6" r="1.4"/><circle cx="477.6" cy="173.6" r="1.4"/><circle cx="481.6" cy="173.6" r="1.4"/><circle cx="485.6" cy="173.7" r="1.4"/><circle cx="489.6" cy="173.7" r="1.4"/><circle cx="493.6" cy="173.7" r="1.4"/><circle cx="497.6" cy="173.7" r="1.4"/><circle cx="501.6" cy="173.7" r="1.4"/><circle cx="505.6" cy="173.7" r="1.4"/><circle cx="509.6" cy="173.7" r="1.4"/><circle cx="513.6" cy="173.7" r="1.4"/><circle cx="517.6" cy="173.8" r="1.4"/><circle cx="521.6" cy="173.8" r="1.4"/><circle cx="525.6" cy="173.9" r="1.4"/><circle cx="529.6" cy="174.0" r="1.4"/><circle cx="533.6" cy="174.2" r="1.4"/><circle cx="537.6" cy="174.6" r="1.4"/><circle cx="541.6" cy="175.5" r="1.4"/><circle cx="543.6" cy="176.5" r="1.4"/><circle cx="545.6" cy="178.3" r="1.4"/><circle cx="547.1" cy="181.1" r="1.4"/><circle cx="548.1" cy="184.3" r="1.4"/><circle cx="548.6" cy="186.6" r="1.4"/><circle cx="549.1" cy="189.7" r="1.4"/><circle cx="549.6" cy="193.7" r="1.4"/><circle cx="550.1" cy="198.8" r="1.4"/><circle cx="550.6" cy="205.0" r="1.4"/><circle cx="551.1" cy="211.7" r="1.4"/><circle cx="551.6" cy="217.3" r="1.4"/><circle cx="552.1" cy="219.6" r="1.4"/><circle cx="552.6" cy="217.3" r="1.4"/><circle cx="553.1" cy="211.7" r="1.4"/><circle cx="553.6" cy="205.0" r="1.4"/><circle cx="554.1" cy="198.8" r="1.4"/><circle cx="554.6" cy="193.7" r="1.4"/><circle cx="555.1" cy="189.7" r="1.4"/><circle cx="555.6" cy="186.6" r="1.4"/><circle cx="571.1" cy="174.2" r="1.4"/><circle cx="575.1" cy="174.0" r="1.4"/><circle cx="579.1" cy="173.9" r="1.4"/><circle cx="583.1" cy="173.8" r="1.4"/><circle cx="587.1" cy="173.8" r="1.4"/><circle cx="591.1" cy="173.7" r="1.4"/><circle cx="595.1" cy="173.7" r="1.4"/><circle cx="599.1" cy="173.7" r="1.4"/><circle cx="603.1" cy="173.7" r="1.4"/><circle cx="607.1" cy="173.7" r="1.4"/><circle cx="611.1" cy="173.7" r="1.4"/><circle cx="615.1" cy="173.7" r="1.4"/><circle cx="619.1" cy="173.6" r="1.4"/><circle cx="623.1" cy="173.6" r="1.4"/><circle cx="627.1" cy="173.6" r="1.4"/><circle cx="631.1" cy="173.6" r="1.4"/><circle cx="635.1" cy="173.6" r="1.4"/><circle cx="639.1" cy="173.6" r="1.4"/><circle cx="643.1" cy="173.6" r="1.4"/><circle cx="647.1" cy="173.6" r="1.4"/><circle cx="651.1" cy="173.6" r="1.4"/><circle cx="655.1" cy="173.6" r="1.4"/><circle cx="659.1" cy="173.6" r="1.4"/><circle cx="663.1" cy="173.6" r="1.4"/><circle cx="667.1" cy="173.6" r="1.4"/><circle cx="671.1" cy="173.6" r="1.4"/></g>
<path d="M369.6,224.01 L370.1,224.01 L370.6,224.01 L371.1,224.01 L371.6,224.01 L372.1,224.01 L372.6,224.01 L373.1,224.01 L373.6,224.01 L374.1,224.01 L374.6,224.01 L375.1,224.01 L375.6,224.01 L376.1,224.01 L376.6,224.01 L377.1,224.01 L377.6,224.01 L378.1,224.01 L378.6,224.01 L379.1,224.01 L379.6,224.01 L380.1,224.01 L380.6,224.01 L381.1,224.01 L381.6,224.01 L382.1,224.01 L382.6,224.01 L383.1,224.01 L383.6,224.01 L384.1,224.01 L384.6,224.01 L385.1,224.01 L385.6,224.01 L386.1,224.01 L386.6,224.01 L387.1,224.01 L387.6,224.01 L388.1,224.01 L388.6,224.01 L389.1,224.01 L389.6,224.01 L390.1,224.01 L390.6,224.01 L391.1,224.01 L391.6,224.01 L392.1,224.01 L392.6,224.01 L393.1,224.01 L393.6,224.01 L394.1,224.01 L394.6,224.01 L395.1,224.01 L395.6,224.01 L396.1,224.01 L396.6,224.01 L397.1,224.01 L397.6,224.01 L398.1,224.01 L398.6,224.01 L399.1,224.01 L399.6,224.01 L400.1,224.01 L400.6,224.01 L401.1,224.01 L401.6,224.01 L402.1,224.01 L402.6,224.01 L403.1,224.01 L403.6,224.01 L404.1,224.01 L404.6,224.01 L405.1,224.01 L405.6,224.01 L406.1,224.01 L406.6,224.01 L407.1,224.01 L407.6,224.01 L408.1,224.01 L408.6,224.01 L409.1,224.01 L409.6,224.01 L410.1,224.01 L410.6,224.01 L411.1,224.01 L411.6,224.01 L412.1,224.01 L412.6,224.01 L413.1,224.01 L413.6,224.01 L414.1,224.01 L414.6,224.01 L415.1,224.01 L415.6,224.01 L416.1,224.01 L416.6,224.01 L417.1,224.01 L417.6,224.01 L418.1,224.01 L418.6,224.01 L419.1,224.01 L419.6,224.01 L420.1,224.01 L420.6,224.01 L421.1,224.01 L421.6,224.01 L422.1,224.01 L422.6,224.01 L423.1,224.01 L423.6,224.01 L424.1,224.01 L424.6,224.01 L425.1,224.01 L425.6,224.01 L426.1,224.01 L426.6,224.01 L427.1,224.01 L427.6,224.01 L428.1,224.01 L428.6,224.01 L429.1,224.01 L429.6,224.01 L430.1,224.01 L430.6,224.01 L431.1,224.01 L431.6,224.01 L432.1,224.01 L432.6,224.01 L433.1,224.01 L433.6,224.02 L434.1,224.02 L434.6,224.02 L435.1,224.02 L435.6,224.02 L436.1,224.02 L436.6,224.02 L437.1,224.02 L437.6,224.02 L438.1,224.02 L438.6,224.02 L439.1,224.02 L439.6,224.02 L440.1,224.02 L440.6,224.02 L441.1,224.02 L441.6,224.02 L442.1,224.02 L442.6,224.02 L443.1,224.02 L443.6,224.02 L444.1,224.02 L444.6,224.02 L445.1,224.02 L445.6,224.02 L446.1,224.02 L446.6,224.02 L447.1,224.02 L447.6,224.02 L448.1,224.02 L448.6,224.02 L449.1,224.02 L449.6,224.02 L450.1,224.02 L450.6,224.02 L451.1,224.02 L451.6,224.02 L452.1,224.02 L452.6,224.02 L453.1,224.02 L453.6,224.02 L454.1,224.02 L454.6,224.02 L455.1,224.02 L455.6,224.02 L456.1,224.02 L456.6,224.02 L457.1,224.02 L457.6,224.02 L458.1,224.02 L458.6,224.02 L459.1,224.02 L459.6,224.02 L460.1,224.02 L460.6,224.02 L461.1,224.03 L461.6,224.03 L462.1,224.03 L462.6,224.03 L463.1,224.03 L463.6,224.03 L464.1,224.03 L464.6,224.03 L465.1,224.03 L465.6,224.03 L466.1,224.03 L466.6,224.03 L467.1,224.03 L467.6,224.03 L468.1,224.03 L468.6,224.03 L469.1,224.03 L469.6,224.03 L470.1,224.03 L470.6,224.03 L471.1,224.03 L471.6,224.03 L472.1,224.03 L472.6,224.03 L473.1,224.03 L473.6,224.03 L474.1,224.03 L474.6,224.03 L475.1,224.03 L475.6,224.04 L476.1,224.04 L476.6,224.04 L477.1,224.04 L477.6,224.04 L478.1,224.04 L478.6,224.04 L479.1,224.04 L479.6,224.04 L480.1,224.04 L480.6,224.04 L481.1,224.04 L481.6,224.04 L482.1,224.04 L482.6,224.04 L483.1,224.04 L483.6,224.04 L484.1,224.04 L484.6,224.04 L485.1,224.05 L485.6,224.05 L486.1,224.05 L486.6,224.05 L487.1,224.05 L487.6,224.05 L488.1,224.05 L488.6,224.05 L489.1,224.05 L489.6,224.05 L490.1,224.05 L490.6,224.05 L491.1,224.05 L491.6,224.06 L492.1,224.06 L492.6,224.06 L493.1,224.06 L493.6,224.06 L494.1,224.06 L494.6,224.06 L495.1,224.06 L495.6,224.06 L496.1,224.06 L496.6,224.07 L497.1,224.07 L497.6,224.07 L498.1,224.07 L498.6,224.07 L499.1,224.07 L499.6,224.07 L500.1,224.07 L500.6,224.08 L501.1,224.08 L501.6,224.08 L502.1,224.08 L502.6,224.08 L503.1,224.08 L503.6,224.08 L504.1,224.09 L504.6,224.09 L505.1,224.09 L505.6,224.09 L506.1,224.09 L506.6,224.1 L507.1,224.1 L507.6,224.1 L508.1,224.1 L508.6,224.1 L509.1,224.11 L509.6,224.11 L510.1,224.11 L510.6,224.11 L511.1,224.12 L511.6,224.12 L512.1,224.12 L512.6,224.12 L513.1,224.13 L513.6,224.13 L514.1,224.13 L514.6,224.14 L515.1,224.14 L515.6,224.14 L516.1,224.15 L516.6,224.15 L517.1,224.16 L517.6,224.16 L518.1,224.16 L518.6,224.17 L519.1,224.17 L519.6,224.18 L520.1,224.18 L520.6,224.19 L521.1,224.2 L521.6,224.2 L522.1,224.21 L522.6,224.21 L523.1,224.22 L523.6,224.23 L524.1,224.24 L524.6,224.24 L525.1,224.25 L525.6,224.26 L526.1,224.27 L526.6,224.28 L527.1,224.29 L527.6,224.3 L528.1,224.31 L528.6,224.32 L529.1,224.34 L529.6,224.35 L530.1,224.36 L530.6,224.38 L531.1,224.4 L531.6,224.41 L532.1,224.43 L532.6,224.45 L533.1,224.47 L533.6,224.49 L534.1,224.52 L534.6,224.54 L535.1,224.57 L535.6,224.6 L536.1,224.64 L536.6,224.67 L537.1,224.71 L537.6,224.75 L538.1,224.8 L538.6,224.85 L539.1,224.9 L539.6,224.96 L540.1,225.03 L540.6,225.1 L541.1,225.18 L541.6,225.27 L542.1,225.38 L542.6,225.49 L543.1,225.62 L543.6,225.76 L544.1,225.93 L544.6,226.12 L545.1,226.34 L545.6,226.59 L546.1,226.88 L546.6,227.23 L547.1,227.63 L547.6,228.12 L548.1,228.71 L548.6,229.43 L549.1,230.31 L549.6,231.42 L550.1,232.82 L550.6,234.61 L551.1,236.92 L551.6,239.94 L552.1,243.87 L552.6,248.91 L553.1,255.03 L553.6,261.65 L554.1,267.18 L554.6,269.4 L555.1,267.18 L555.6,261.65 L556.1,255.05 L556.6,248.94 L557.1,243.92 L557.6,240.01 L558.1,237.01 L558.6,234.71 L559.1,232.94 L559.6,231.56 L560.1,230.47 L560.6,229.6 L561.1,228.89 L561.6,228.31 L562.1,227.84 L562.6,227.44 L563.1,227.1 L563.6,226.82 L564.1,226.57 L564.6,226.36 L565.1,226.18 L565.6,226.02 L566.1,225.88 L566.6,225.75 L567.1,225.64 L567.6,225.54 L568.1,225.46 L568.6,225.38 L569.1,225.31 L569.6,225.24 L570.1,225.18 L570.6,225.13 L571.1,225.08 L571.6,225.04 L572.1,225 L572.6,224.96 L573.1,224.93 L573.6,224.89 L574.1,224.86 L574.6,224.84 L575.1,224.81 L575.6,224.79 L576.1,224.77 L576.6,224.75 L577.1,224.73 L577.6,224.71 L578.1,224.69 L578.6,224.68 L579.1,224.66 L579.6,224.65 L580.1,224.63 L580.6,224.62 L581.1,224.61 L581.6,224.6 L582.1,224.59 L582.6,224.58 L583.1,224.57 L583.6,224.56 L584.1,224.55 L584.6,224.54 L585.1,224.53 L585.6,224.53 L586.1,224.52 L586.6,224.51 L587.1,224.51 L587.6,224.5 L588.1,224.49 L588.6,224.49 L589.1,224.48 L589.6,224.48 L590.1,224.47 L590.6,224.47 L591.1,224.46 L591.6,224.46 L592.1,224.45 L592.6,224.45 L593.1,224.45 L593.6,224.44 L594.1,224.44 L594.6,224.44 L595.1,224.43 L595.6,224.43 L596.1,224.43 L596.6,224.42 L597.1,224.42 L597.6,224.42 L598.1,224.42 L598.6,224.41 L599.1,224.41 L599.6,224.41 L600.1,224.41 L600.6,224.4 L601.1,224.4 L601.6,224.4 L602.1,224.4 L602.6,224.39 L603.1,224.39 L603.6,224.39 L604.1,224.39 L604.6,224.39 L605.1,224.39 L605.6,224.38 L606.1,224.38 L606.6,224.38 L607.1,224.38 L607.6,224.38 L608.1,224.38 L608.6,224.37 L609.1,224.37 L609.6,224.37 L610.1,224.37 L610.6,224.37 L611.1,224.37 L611.6,224.37 L612.1,224.37 L612.6,224.36 L613.1,224.36 L613.6,224.36 L614.1,224.36 L614.6,224.36 L615.1,224.36 L615.6,224.36 L616.1,224.36 L616.6,224.36 L617.1,224.36 L617.6,224.35 L618.1,224.35 L618.6,224.35 L619.1,224.35 L619.6,224.35 L620.1,224.35 L620.6,224.35 L621.1,224.35 L621.6,224.35 L622.1,224.35 L622.6,224.35 L623.1,224.35 L623.6,224.35 L624.1,224.35 L624.6,224.34 L625.1,224.34 L625.6,224.34 L626.1,224.34 L626.6,224.34 L627.1,224.34 L627.6,224.34 L628.1,224.34 L628.6,224.34 L629.1,224.34 L629.6,224.34 L630.1,224.34 L630.6,224.34 L631.1,224.34 L631.6,224.34 L632.1,224.34 L632.6,224.34 L633.1,224.34 L633.6,224.33 L634.1,224.33 L634.6,224.33 L635.1,224.33 L635.6,224.33 L636.1,224.33 L636.6,224.33 L637.1,224.33 L637.6,224.33 L638.1,224.33 L638.6,224.33 L639.1,224.33 L639.6,224.33 L640.1,224.33 L640.6,224.33 L641.1,224.33 L641.6,224.33 L642.1,224.33 L642.6,224.33 L643.1,224.33 L643.6,224.33 L644.1,224.33 L644.6,224.33 L645.1,224.33 L645.6,224.33 L646.1,224.33 L646.6,224.33 L647.1,224.33 L647.6,224.33 L648.1,224.32 L648.6,224.32 L649.1,224.32 L649.6,224.32 L650.1,224.32 L650.6,224.32 L651.1,224.32 L651.6,224.32 L652.1,224.32 L652.6,224.32 L653.1,224.32 L653.6,224.32 L654.1,224.32 L654.6,224.32 L655.1,224.32 L655.6,224.32 L656.1,224.32 L656.6,224.32 L657.1,224.32 L657.6,224.32 L658.1,224.32 L658.6,224.32 L659.1,224.32 L659.6,224.32 L660.1,224.32 L660.6,224.32 L661.1,224.32 L661.6,224.32 L662.1,224.32 L662.6,224.32 L663.1,224.32 L663.6,224.32 L664.1,224.32 L664.6,224.32 L665.1,224.32 L665.6,224.32 L666.1,224.32 L666.6,224.32 L667.1,224.32 L667.6,224.32 L668.1,224.32 L668.6,224.32 L669.1,224.32 L669.6,224.32 L670.1,224.32 L670.6,224.32 L671.1,224.32" fill="none" stroke="#000" stroke-width="1.3" stroke-linejoin="round"/>
<path d="M536.1,224.64 L536.6,224.67 L537.1,224.71 L537.6,224.75 L538.1,224.8 L538.6,224.85 L539.1,224.9 L539.6,224.96 L540.1,225.03 L540.6,225.1 L541.1,225.18 L541.6,225.27 L542.1,225.38 L542.6,225.49 L543.1,225.62 L543.6,225.76 L544.1,225.93 L544.6,226.12 L545.1,226.34 L545.6,226.59 L546.1,226.88 L546.6,227.23 L547.1,227.63 L547.6,228.12 L548.1,228.71 L548.6,229.43 L549.1,230.31 L549.6,231.42 L550.1,232.82 L550.6,234.61 L551.1,236.92 L551.6,239.94" fill="none" stroke="#000" stroke-width="3.4" stroke-linejoin="round" stroke-linecap="round"/>
<g fill="#fff" stroke="#000" stroke-width="1.1"><circle cx="369.6" cy="224.0" r="1.4"/><circle cx="373.6" cy="224.0" r="1.4"/><circle cx="377.6" cy="224.0" r="1.4"/><circle cx="381.6" cy="224.0" r="1.4"/><circle cx="385.6" cy="224.0" r="1.4"/><circle cx="389.6" cy="224.0" r="1.4"/><circle cx="393.6" cy="224.0" r="1.4"/><circle cx="397.6" cy="224.0" r="1.4"/><circle cx="401.6" cy="224.0" r="1.4"/><circle cx="405.6" cy="224.0" r="1.4"/><circle cx="409.6" cy="224.0" r="1.4"/><circle cx="413.6" cy="224.0" r="1.4"/><circle cx="417.6" cy="224.0" r="1.4"/><circle cx="421.6" cy="224.0" r="1.4"/><circle cx="425.6" cy="224.0" r="1.4"/><circle cx="429.6" cy="224.0" r="1.4"/><circle cx="433.6" cy="224.0" r="1.4"/><circle cx="437.6" cy="224.0" r="1.4"/><circle cx="441.6" cy="224.0" r="1.4"/><circle cx="445.6" cy="224.0" r="1.4"/><circle cx="449.6" cy="224.0" r="1.4"/><circle cx="453.6" cy="224.0" r="1.4"/><circle cx="457.6" cy="224.0" r="1.4"/><circle cx="461.6" cy="224.0" r="1.4"/><circle cx="465.6" cy="224.0" r="1.4"/><circle cx="469.6" cy="224.0" r="1.4"/><circle cx="473.6" cy="224.0" r="1.4"/><circle cx="477.6" cy="224.0" r="1.4"/><circle cx="481.6" cy="224.0" r="1.4"/><circle cx="485.6" cy="224.0" r="1.4"/><circle cx="489.6" cy="224.1" r="1.4"/><circle cx="493.6" cy="224.1" r="1.4"/><circle cx="497.6" cy="224.1" r="1.4"/><circle cx="501.6" cy="224.1" r="1.4"/><circle cx="505.6" cy="224.1" r="1.4"/><circle cx="509.6" cy="224.1" r="1.4"/><circle cx="513.6" cy="224.1" r="1.4"/><circle cx="517.6" cy="224.2" r="1.4"/><circle cx="521.6" cy="224.2" r="1.4"/><circle cx="525.6" cy="224.3" r="1.4"/><circle cx="529.6" cy="224.3" r="1.4"/><circle cx="533.6" cy="224.5" r="1.4"/><circle cx="551.1" cy="236.9" r="1.4"/><circle cx="551.6" cy="239.9" r="1.4"/><circle cx="552.1" cy="243.9" r="1.4"/><circle cx="552.6" cy="248.9" r="1.4"/><circle cx="553.1" cy="255.0" r="1.4"/><circle cx="553.6" cy="261.6" r="1.4"/><circle cx="554.1" cy="267.2" r="1.4"/><circle cx="554.6" cy="269.4" r="1.4"/><circle cx="555.1" cy="267.2" r="1.4"/><circle cx="555.6" cy="261.7" r="1.4"/><circle cx="556.1" cy="255.0" r="1.4"/><circle cx="556.6" cy="248.9" r="1.4"/><circle cx="557.1" cy="243.9" r="1.4"/><circle cx="557.6" cy="240.0" r="1.4"/><circle cx="558.1" cy="237.0" r="1.4"/><circle cx="558.6" cy="234.7" r="1.4"/><circle cx="559.6" cy="231.6" r="1.4"/><circle cx="560.6" cy="229.6" r="1.4"/><circle cx="562.1" cy="227.8" r="1.4"/><circle cx="565.6" cy="226.0" r="1.4"/><circle cx="569.6" cy="225.2" r="1.4"/><circle cx="573.6" cy="224.9" r="1.4"/><circle cx="577.6" cy="224.7" r="1.4"/><circle cx="581.6" cy="224.6" r="1.4"/><circle cx="585.6" cy="224.5" r="1.4"/><circle cx="589.6" cy="224.5" r="1.4"/><circle cx="593.6" cy="224.4" r="1.4"/><circle cx="597.6" cy="224.4" r="1.4"/><circle cx="601.6" cy="224.4" r="1.4"/><circle cx="605.6" cy="224.4" r="1.4"/><circle cx="609.6" cy="224.4" r="1.4"/><circle cx="613.6" cy="224.4" r="1.4"/><circle cx="617.6" cy="224.4" r="1.4"/><circle cx="621.6" cy="224.3" r="1.4"/><circle cx="625.6" cy="224.3" r="1.4"/><circle cx="629.6" cy="224.3" r="1.4"/><circle cx="633.6" cy="224.3" r="1.4"/><circle cx="637.6" cy="224.3" r="1.4"/><circle cx="641.6" cy="224.3" r="1.4"/><circle cx="645.6" cy="224.3" r="1.4"/><circle cx="649.6" cy="224.3" r="1.4"/><circle cx="653.6" cy="224.3" r="1.4"/><circle cx="657.6" cy="224.3" r="1.4"/><circle cx="661.6" cy="224.3" r="1.4"/><circle cx="665.6" cy="224.3" r="1.4"/><circle cx="669.6" cy="224.3" r="1.4"/></g>
<text x="379.5" y="48.5" font-family="'Liberation Serif', serif" font-size="12" font-weight="bold" fill="#cc22cc" textLength="115" lengthAdjust="spacingAndGlyphs">30 wt. % La-Ce (<tspan font-style="italic">SMP</tspan>)</text>
<text x="379.7" y="99.3" font-family="'Liberation Serif', serif" font-size="12" font-weight="bold" fill="#2424d2" textLength="109" lengthAdjust="spacingAndGlyphs">9 wt. % La-Ce (<tspan font-style="italic">SMP</tspan>)</text>
<text x="379.7" y="154.7" font-family="'Liberation Serif', serif" font-size="12" font-weight="bold" fill="#dd2222" textLength="118.8" lengthAdjust="spacingAndGlyphs">18 wt. % La-Ce (<tspan font-style="italic">MMP</tspan>)</text>
<text x="379.7" y="198" font-family="'Liberation Serif', serif" font-size="12" font-weight="bold" fill="#1f801f" textLength="113" lengthAdjust="spacingAndGlyphs">9 wt. % La-Ce (<tspan font-style="italic">MMP</tspan>)</text>
<text x="379.7" y="250.8" font-family="'Liberation Serif', serif" font-size="12" font-weight="bold" font-style="normal" fill="#000" text-anchor="start" textLength="81.5" lengthAdjust="spacingAndGlyphs">Starting magnet</text>
<line x1="532.3" y1="63.2" x2="554" y2="63.2" stroke="#d414d4" stroke-width="2.6"/>
<polygon points="522.3,63.2 534.3,58.7 534.3,67.7" fill="#d414d4"/>
<text x="539" y="54.7" font-family="'Liberation Serif', serif" font-size="13" fill="#cc22cc"><tspan font-weight="bold">271.1</tspan><tspan dx="4.8" font-size="12" dy="-0.6">°</tspan><tspan dx="-3.3" dy="0.6" font-size="14.3">C</tspan></text>
<line x1="560.6" y1="113.9" x2="586.8" y2="113.9" stroke="#1c1cd0" stroke-width="2.6"/>
<polygon points="550.6,113.9 562.6,109.4 562.6,118.4" fill="#1c1cd0"/>
<text x="569.7" y="104.8" font-family="'Liberation Serif', serif" font-size="13" fill="#2424d2"><tspan font-weight="bold">293.9</tspan><tspan dx="4.8" font-size="12" dy="-0.6">°</tspan><tspan dx="-3.3" dy="0.6" font-size="14.3">C</tspan></text>
<line x1="568.3" y1="164.1" x2="594" y2="164.1" stroke="#e42222" stroke-width="2.6"/>
<polygon points="558.3,164.1 570.3,159.6 570.3,168.6" fill="#e42222"/>
<text x="577.7" y="155.5" font-family="'Liberation Serif', serif" font-size="13" fill="#dd2222"><tspan font-weight="bold">299.3</tspan><tspan dx="4.8" font-size="12" dy="-0.6">°</tspan><tspan dx="-3.3" dy="0.6" font-size="14.3">C</tspan></text>
<line x1="569.7" y1="214.8" x2="595.3" y2="214.8" stroke="#1e8a1e" stroke-width="2.6"/>
<polygon points="559.7,214.8 571.7,210.3 571.7,219.3" fill="#1e8a1e"/>
<text x="578.8" y="205.4" font-family="'Liberation Serif', serif" font-size="13" fill="#1f801f"><tspan font-weight="bold">300.7</tspan><tspan dx="4.8" font-size="12" dy="-0.6">°</tspan><tspan dx="-3.3" dy="0.6" font-size="14.3">C</tspan></text>
<line x1="572" y1="266.6" x2="597.6" y2="266.6" stroke="#000" stroke-width="2.6"/>
<polygon points="562,266.6 574,262.1 574,271.1" fill="#000"/>
<text x="581.7" y="258.6" font-family="'Liberation Serif', serif" font-size="13" fill="#000"><tspan font-weight="bold">302.7</tspan><tspan dx="4.8" font-size="12" dy="-0.6">°</tspan><tspan dx="-3.3" dy="0.6" font-size="14.3">C</tspan></text>
<rect x="42.6" y="335.3" width="181.7" height="139.3" fill="none" stroke="#000" stroke-width="1.4"/>
<line x1="42.6" y1="404.5" x2="224.3" y2="404.5" stroke="#000" stroke-width="1.15"/>
<line x1="133.5" y1="335.3" x2="133.5" y2="474.6" stroke="#000" stroke-width="1.15"/>
<line x1="57.9" y1="474.6" x2="57.9" y2="472.6" stroke="#000" stroke-width="1.2"/>
<line x1="73.04" y1="474.6" x2="73.04" y2="471.6" stroke="#000" stroke-width="1.2"/>
<line x1="88.18" y1="474.6" x2="88.18" y2="472.6" stroke="#000" stroke-width="1.2"/>
<line x1="103.32" y1="474.6" x2="103.32" y2="471.6" stroke="#000" stroke-width="1.2"/>
<line x1="118.46" y1="474.6" x2="118.46" y2="472.6" stroke="#000" stroke-width="1.2"/>
<line x1="133.6" y1="474.6" x2="133.6" y2="471.6" stroke="#000" stroke-width="1.2"/>
<line x1="148.74" y1="474.6" x2="148.74" y2="472.6" stroke="#000" stroke-width="1.2"/>
<line x1="163.88" y1="474.6" x2="163.88" y2="471.6" stroke="#000" stroke-width="1.2"/>
<line x1="179.02" y1="474.6" x2="179.02" y2="472.6" stroke="#000" stroke-width="1.2"/>
<line x1="194.16" y1="474.6" x2="194.16" y2="471.6" stroke="#000" stroke-width="1.2"/>
<line x1="209.3" y1="474.6" x2="209.3" y2="472.6" stroke="#000" stroke-width="1.2"/>
<text x="40.96" y="485.8" font-family="'Liberation Sans', sans-serif" font-size="10.2" font-weight="bold" font-style="normal" fill="#000" text-anchor="middle">-6</text>
<text x="71.24" y="485.8" font-family="'Liberation Sans', sans-serif" font-size="10.2" font-weight="bold" font-style="normal" fill="#000" text-anchor="middle">-4</text>
<text x="101.52" y="485.8" font-family="'Liberation Sans', sans-serif" font-size="10.2" font-weight="bold" font-style="normal" fill="#000" text-anchor="middle">-2</text>
<text x="133.6" y="485.8" font-family="'Liberation Sans', sans-serif" font-size="10.2" font-weight="bold" font-style="normal" fill="#000" text-anchor="middle">0</text>
<text x="163.88" y="485.8" font-family="'Liberation Sans', sans-serif" font-size="10.2" font-weight="bold" font-style="normal" fill="#000" text-anchor="middle">2</text>
<text x="194.16" y="485.8" font-family="'Liberation Sans', sans-serif" font-size="10.2" font-weight="bold" font-style="normal" fill="#000" text-anchor="middle">4</text>
<text x="224.44" y="485.8" font-family="'Liberation Sans', sans-serif" font-size="10.2" font-weight="bold" font-style="normal" fill="#000" text-anchor="middle">6</text>
<line x1="42.6" y1="464.85" x2="45.6" y2="464.85" stroke="#000" stroke-width="1.2"/>
<line x1="42.6" y1="454.88" x2="44.6" y2="454.88" stroke="#000" stroke-width="1.2"/>
<line x1="42.6" y1="444.9" x2="45.6" y2="444.9" stroke="#000" stroke-width="1.2"/>
<line x1="42.6" y1="434.93" x2="44.6" y2="434.93" stroke="#000" stroke-width="1.2"/>
<line x1="42.6" y1="424.95" x2="45.6" y2="424.95" stroke="#000" stroke-width="1.2"/>
<line x1="42.6" y1="414.98" x2="44.6" y2="414.98" stroke="#000" stroke-width="1.2"/>
<line x1="42.6" y1="405" x2="45.6" y2="405" stroke="#000" stroke-width="1.2"/>
<line x1="42.6" y1="395.02" x2="44.6" y2="395.02" stroke="#000" stroke-width="1.2"/>
<line x1="42.6" y1="385.05" x2="45.6" y2="385.05" stroke="#000" stroke-width="1.2"/>
<line x1="42.6" y1="375.07" x2="44.6" y2="375.07" stroke="#000" stroke-width="1.2"/>
<line x1="42.6" y1="365.1" x2="45.6" y2="365.1" stroke="#000" stroke-width="1.2"/>
<line x1="42.6" y1="355.12" x2="44.6" y2="355.12" stroke="#000" stroke-width="1.2"/>
<line x1="42.6" y1="345.15" x2="45.6" y2="345.15" stroke="#000" stroke-width="1.2"/>
<text x="39.3" y="348.15" font-family="'Liberation Sans', sans-serif" font-size="10.4" font-weight="bold" font-style="normal" fill="#000" text-anchor="end">1.5</text>
<text x="39.3" y="368.1" font-family="'Liberation Sans', sans-serif" font-size="10.4" font-weight="bold" font-style="normal" fill="#000" text-anchor="end">1.0</text>
<text x="39.3" y="388.05" font-family="'Liberation Sans', sans-serif" font-size="10.4" font-weight="bold" font-style="normal" fill="#000" text-anchor="end">0.5</text>
<text x="39.3" y="408" font-family="'Liberation Sans', sans-serif" font-size="10.4" font-weight="bold" font-style="normal" fill="#000" text-anchor="end">0.0</text>
<text x="39.3" y="427.95" font-family="'Liberation Sans', sans-serif" font-size="10.4" font-weight="bold" font-style="normal" fill="#000" text-anchor="end">-0.5</text>
<text x="39.3" y="447.9" font-family="'Liberation Sans', sans-serif" font-size="10.4" font-weight="bold" font-style="normal" fill="#000" text-anchor="end">-1.0</text>
<text x="39.3" y="467.85" font-family="'Liberation Sans', sans-serif" font-size="10.4" font-weight="bold" font-style="normal" fill="#000" text-anchor="end">-1.5</text>
<path d="M209.9,349.5 L206.65,349.61 L202.15,349.76 L196.83,349.93 L191.08,350.12 L185.34,350.32 L180,350.5 L174.77,350.68 L169.27,350.87 L163.76,351.07 L158.52,351.26 L153.84,351.44 L150,351.6 L147.13,351.74 L145.05,351.85 L143.53,351.96 L142.33,352.06 L141.23,352.17 L140,352.3 L138.69,352.45 L137.5,352.61 L136.4,352.78 L135.39,352.95 L134.46,353.12 L133.6,353.3 L132.82,353.47 L132.15,353.63 L131.55,353.8 L131.01,353.98 L130.5,354.18 L130,354.4 L129.53,354.64 L129.1,354.9 L128.71,355.18 L128.33,355.48 L127.97,355.82 L127.6,356.2 L127.22,356.62 L126.84,357.07 L126.46,357.56 L126.11,358.09 L125.78,358.67 L125.5,359.3 L125.27,359.95 L125.08,360.6 L124.92,361.3 L124.79,362.09 L124.65,363.01 L124.5,364.1 L124.35,365.41 L124.2,366.92 L124.06,368.56 L123.91,370.26 L123.76,371.96 L123.6,373.6 L123.43,375.16 L123.26,376.69 L123.07,378.23 L122.89,379.79 L122.7,381.4 L122.5,383.1 L122.29,384.92 L122.08,386.85 L121.86,388.84 L121.64,390.83 L121.42,392.76 L121.2,394.6 L120.98,396.32 L120.77,397.96 L120.56,399.54 L120.34,401.11 L120.12,402.69 L119.9,404.3 L119.67,405.94 L119.43,407.59 L119.19,409.25 L118.96,410.92 L118.72,412.6 L118.5,414.3 L118.29,416.03 L118.1,417.8 L117.91,419.58 L117.71,421.35 L117.52,423.1 L117.3,424.8 L117.07,426.48 L116.82,428.14 L116.57,429.78 L116.31,431.38 L116.05,432.93 L115.8,434.4 L115.55,435.8 L115.31,437.15 L115.07,438.44 L114.83,439.68 L114.57,440.87 L114.3,442 L114.01,443.07 L113.71,444.07 L113.41,445.02 L113.09,445.94 L112.75,446.82 L112.4,447.7 L112.04,448.57 L111.67,449.44 L111.29,450.27 L110.89,451.07 L110.46,451.82 L110,452.5 L109.54,453.11 L109.09,453.65 L108.62,454.14 L108.09,454.59 L107.46,455.01 L106.7,455.4 L105.88,455.76 L105.03,456.09 L104.08,456.39 L102.97,456.65 L101.64,456.89 L100,457.1 L98.12,457.28 L96.06,457.41 L93.78,457.53 L91.2,457.62 L88.3,457.71 L85,457.8 L80.87,457.9 L75.86,458 L70.51,458.09 L65.37,458.18 L60.99,458.25 L57.9,458.3" fill="none" stroke="#000" stroke-width="1.3" stroke-linejoin="round" stroke-linecap="round"/>
<path d="M133.6,405 L133.71,403.74 L133.86,402.06 L134.04,400.04 L134.24,397.76 L134.43,395.29 L134.6,392.7 L134.75,389.84 L134.89,386.62 L135.02,383.21 L135.16,379.79 L135.32,376.53 L135.5,373.6 L135.71,370.96 L135.93,368.46 L136.16,366.12 L136.42,363.96 L136.7,362.02 L137,360.3 L137.33,358.85 L137.69,357.67 L138.07,356.69 L138.47,355.87 L138.88,355.15 L139.3,354.5 L139.71,353.94 L140.12,353.54 L140.54,353.24 L140.99,353.01 L141.47,352.81 L142,352.6 L142.48,352.4 L142.87,352.24 L143.29,352.11 L143.88,352 L144.74,351.9 L146,351.8 L147.92,351.69 L150.44,351.59 L153.25,351.5 L156,351.42 L158.36,351.35 L160,351.3" fill="none" stroke="#000" stroke-width="1.3" stroke-linejoin="round" stroke-linecap="round"/>
<path d="M126.8,357.5 L127.34,357.48 L127.88,357.44 L128.43,357.36 L128.97,357.24 L129.51,357.1 L130.05,356.93 L130.59,356.72 L131.13,356.48 L131.68,356.21 L132.22,355.9 L132.76,355.57 L133.3,355.2" fill="none" stroke="#000" stroke-width="1.3" stroke-linejoin="round"/>
<path d="M126.2,359.8 L126.79,359.78 L127.38,359.72 L127.98,359.62 L128.57,359.49 L129.16,359.31 L129.75,359.1 L130.34,358.85 L130.93,358.56 L131.53,358.23 L132.12,357.86 L132.71,357.45 L133.3,357" fill="none" stroke="#000" stroke-width="1.3" stroke-linejoin="round"/>
<path d="M125.6,362.5 L126.24,362.48 L126.88,362.42 L127.53,362.31 L128.17,362.17 L128.81,361.98 L129.45,361.75 L130.09,361.48 L130.73,361.17 L131.38,360.81 L132.02,360.42 L132.66,359.98 L133.3,359.5" fill="none" stroke="#000" stroke-width="1.3" stroke-linejoin="round"/>
<path d="M125,368.8 L125.69,368.76 L126.38,368.66 L127.08,368.48 L127.77,368.22 L128.46,367.9 L129.15,367.5 L129.84,367.03 L130.53,366.49 L131.23,365.88 L131.92,365.19 L132.61,364.43 L133.3,363.6" fill="none" stroke="#000" stroke-width="1.3" stroke-linejoin="round"/>
<path d="M123.6,381.7 L124.41,381.65 L125.22,381.5 L126.03,381.26 L126.83,380.91 L127.64,380.47 L128.45,379.93 L129.26,379.28 L130.07,378.54 L130.88,377.71 L131.68,376.77 L132.49,375.73 L133.3,374.6" fill="none" stroke="#000" stroke-width="1.3" stroke-linejoin="round"/>
<path d="M122.6,392.7 L123.49,392.65 L124.38,392.49 L125.28,392.22 L126.17,391.84 L127.06,391.36 L127.95,390.77 L128.84,390.08 L129.73,389.28 L130.62,388.37 L131.52,387.35 L132.41,386.23 L133.3,385" fill="none" stroke="#000" stroke-width="1.3" stroke-linejoin="round"/>
<path d="M120.7,403.2 L121.75,403.13 L122.8,402.93 L123.85,402.6 L124.9,402.13 L125.95,401.53 L127,400.8 L128.05,399.93 L129.1,398.93 L130.15,397.8 L131.2,396.53 L132.25,395.13 L133.3,393.6" fill="none" stroke="#000" stroke-width="1.3" stroke-linejoin="round"/>
<path d="M118.6,414.3 L119.82,414.23 L121.05,414.01 L122.28,413.64 L123.5,413.13 L124.72,412.48 L125.95,411.68 L127.18,410.73 L128.4,409.63 L129.62,408.39 L130.85,407.01 L132.08,405.48 L133.3,403.8" fill="none" stroke="#000" stroke-width="1.3" stroke-linejoin="round"/>
<path d="M117.5,424.3 L118.82,424.22 L120.13,423.97 L121.45,423.56 L122.77,422.98 L124.08,422.23 L125.4,421.32 L126.72,420.25 L128.03,419.01 L129.35,417.61 L130.67,416.04 L131.98,414.3 L133.3,412.4" fill="none" stroke="#000" stroke-width="1.3" stroke-linejoin="round"/>
<path d="M116,434.4 L117.44,434.31 L118.88,434.06 L120.33,433.62 L121.77,433.02 L123.21,432.25 L124.65,431.3 L126.09,430.18 L127.53,428.89 L128.98,427.43 L130.42,425.79 L131.86,423.98 L133.3,422" fill="none" stroke="#000" stroke-width="1.3" stroke-linejoin="round"/>
<path d="M114.6,442 L116.16,441.93 L117.72,441.71 L119.28,441.34 L120.83,440.83 L122.39,440.18 L123.95,439.38 L125.51,438.43 L127.07,437.33 L128.62,436.09 L130.18,434.71 L131.74,433.18 L133.3,431.5" fill="none" stroke="#000" stroke-width="1.3" stroke-linejoin="round"/>
<path d="M113,446.8 L114.69,446.75 L116.38,446.61 L118.08,446.38 L119.77,446.06 L121.46,445.64 L123.15,445.12 L124.84,444.52 L126.53,443.82 L128.23,443.03 L129.92,442.15 L131.61,441.17 L133.3,440.1" fill="none" stroke="#000" stroke-width="1.3" stroke-linejoin="round"/>
<path d="M111.5,449.9 L113.32,449.87 L115.13,449.79 L116.95,449.64 L118.77,449.44 L120.58,449.19 L122.4,448.88 L124.22,448.5 L126.03,448.08 L127.85,447.59 L129.67,447.05 L131.48,446.45 L133.3,445.8" fill="none" stroke="#000" stroke-width="1.3" stroke-linejoin="round"/>
<path d="M110,452.3 L111.94,452.28 L113.88,452.23 L115.83,452.13 L117.77,452 L119.71,451.83 L121.65,451.62 L123.59,451.38 L125.53,451.1 L127.48,450.78 L129.42,450.43 L131.36,450.03 L133.3,449.6" fill="none" stroke="#000" stroke-width="1.3" stroke-linejoin="round"/>
<path d="M108.3,454.2 L110.38,454.18 L112.47,454.14 L114.55,454.06 L116.63,453.96 L118.72,453.82 L120.8,453.65 L122.88,453.45 L124.97,453.22 L127.05,452.96 L129.13,452.67 L131.22,452.35 L133.3,452" fill="none" stroke="#000" stroke-width="1.3" stroke-linejoin="round"/>
<path d="M106.5,455.4 L108.73,455.39 L110.97,455.36 L113.2,455.31 L115.43,455.24 L117.67,455.16 L119.9,455.05 L122.13,454.92 L124.37,454.78 L126.6,454.61 L128.83,454.43 L131.07,454.22 L133.3,454" fill="none" stroke="#000" stroke-width="1.3" stroke-linejoin="round"/>
<path d="M104.5,456.3 L106.9,456.29 L109.3,456.28 L111.7,456.25 L114.1,456.21 L116.5,456.16 L118.9,456.1 L121.3,456.03 L123.7,455.94 L126.1,455.85 L128.5,455.74 L130.9,455.63 L133.3,455.5" fill="none" stroke="#000" stroke-width="1.3" stroke-linejoin="round"/>
<text x="50.4" y="356.9" font-family="'Liberation Serif', serif" font-weight="bold" fill="#000"><tspan font-size="24">c</tspan><tspan font-size="16" font-weight="normal" dx="0.4">1</tspan></text>
<text x="137.5" y="436.6" font-family="'Liberation Sans', sans-serif" font-size="12.2" font-weight="bold" font-style="normal" fill="#000" text-anchor="start" textLength="83.8" lengthAdjust="spacingAndGlyphs">9 wt. % La-Ce</text>
<text x="137.5" y="453.3" font-family="'Liberation Serif', serif" font-size="14.5" font-weight="bold" textLength="38.5" lengthAdjust="spacingAndGlyphs">(<tspan font-style="italic">SMP</tspan>)</text>
<text x="109.3" y="500.7" font-family="'Liberation Sans', sans-serif" font-size="12" fill="#000"><tspan font-weight="normal" font-size="10.8">μ</tspan><tspan font-weight="normal" font-size="9" dy="4.8">0</tspan><tspan font-weight="bold" font-style="italic" dy="-4.8">H</tspan><tspan font-weight="bold" font-size="8" dy="4.6">ext</tspan><tspan font-weight="bold" dy="-4.6"> (T)</tspan></text>
<g transform="translate(16.6,428) rotate(-90)">
<text x="0" y="0" font-family="'Liberation Sans', sans-serif" font-size="14.5" fill="#000"><tspan font-weight="normal" font-size="12.5">μ</tspan><tspan font-weight="normal" font-size="7.8" dy="5.1">0</tspan><tspan font-weight="bold" font-style="italic" dy="-5.1">M</tspan><tspan font-weight="bold"> (T)</tspan></text>
</g>
<rect x="42.6" y="509.2" width="181.7" height="138.7" fill="none" stroke="#000" stroke-width="1.4"/>
<line x1="42.6" y1="578.5" x2="224.3" y2="578.5" stroke="#000" stroke-width="1.15"/>
<line x1="133.5" y1="509.2" x2="133.5" y2="647.9" stroke="#000" stroke-width="1.15"/>
<line x1="57.9" y1="647.9" x2="57.9" y2="645.9" stroke="#000" stroke-width="1.2"/>
<line x1="73.04" y1="647.9" x2="73.04" y2="644.9" stroke="#000" stroke-width="1.2"/>
<line x1="88.18" y1="647.9" x2="88.18" y2="645.9" stroke="#000" stroke-width="1.2"/>
<line x1="103.32" y1="647.9" x2="103.32" y2="644.9" stroke="#000" stroke-width="1.2"/>
<line x1="118.46" y1="647.9" x2="118.46" y2="645.9" stroke="#000" stroke-width="1.2"/>
<line x1="133.6" y1="647.9" x2="133.6" y2="644.9" stroke="#000" stroke-width="1.2"/>
<line x1="148.74" y1="647.9" x2="148.74" y2="645.9" stroke="#000" stroke-width="1.2"/>
<line x1="163.88" y1="647.9" x2="163.88" y2="644.9" stroke="#000" stroke-width="1.2"/>
<line x1="179.02" y1="647.9" x2="179.02" y2="645.9" stroke="#000" stroke-width="1.2"/>
<line x1="194.16" y1="647.9" x2="194.16" y2="644.9" stroke="#000" stroke-width="1.2"/>
<line x1="209.3" y1="647.9" x2="209.3" y2="645.9" stroke="#000" stroke-width="1.2"/>
<text x="40.96" y="659.1" font-family="'Liberation Sans', sans-serif" font-size="10.2" font-weight="bold" font-style="normal" fill="#000" text-anchor="middle">-6</text>
<text x="71.24" y="659.1" font-family="'Liberation Sans', sans-serif" font-size="10.2" font-weight="bold" font-style="normal" fill="#000" text-anchor="middle">-4</text>
<text x="101.52" y="659.1" font-family="'Liberation Sans', sans-serif" font-size="10.2" font-weight="bold" font-style="normal" fill="#000" text-anchor="middle">-2</text>
<text x="133.6" y="659.1" font-family="'Liberation Sans', sans-serif" font-size="10.2" font-weight="bold" font-style="normal" fill="#000" text-anchor="middle">0</text>
<text x="163.88" y="659.1" font-family="'Liberation Sans', sans-serif" font-size="10.2" font-weight="bold" font-style="normal" fill="#000" text-anchor="middle">2</text>
<text x="194.16" y="659.1" font-family="'Liberation Sans', sans-serif" font-size="10.2" font-weight="bold" font-style="normal" fill="#000" text-anchor="middle">4</text>
<text x="224.44" y="659.1" font-family="'Liberation Sans', sans-serif" font-size="10.2" font-weight="bold" font-style="normal" fill="#000" text-anchor="middle">6</text>
<line x1="42.6" y1="638.05" x2="45.6" y2="638.05" stroke="#000" stroke-width="1.2"/>
<line x1="42.6" y1="628.08" x2="44.6" y2="628.08" stroke="#000" stroke-width="1.2"/>
<line x1="42.6" y1="618.1" x2="45.6" y2="618.1" stroke="#000" stroke-width="1.2"/>
<line x1="42.6" y1="608.12" x2="44.6" y2="608.12" stroke="#000" stroke-width="1.2"/>
<line x1="42.6" y1="598.15" x2="45.6" y2="598.15" stroke="#000" stroke-width="1.2"/>
<line x1="42.6" y1="588.18" x2="44.6" y2="588.18" stroke="#000" stroke-width="1.2"/>
<line x1="42.6" y1="578.2" x2="45.6" y2="578.2" stroke="#000" stroke-width="1.2"/>
<line x1="42.6" y1="568.23" x2="44.6" y2="568.23" stroke="#000" stroke-width="1.2"/>
<line x1="42.6" y1="558.25" x2="45.6" y2="558.25" stroke="#000" stroke-width="1.2"/>
<line x1="42.6" y1="548.28" x2="44.6" y2="548.28" stroke="#000" stroke-width="1.2"/>
<line x1="42.6" y1="538.3" x2="45.6" y2="538.3" stroke="#000" stroke-width="1.2"/>
<line x1="42.6" y1="528.33" x2="44.6" y2="528.33" stroke="#000" stroke-width="1.2"/>
<line x1="42.6" y1="518.35" x2="45.6" y2="518.35" stroke="#000" stroke-width="1.2"/>
<text x="39.3" y="521.35" font-family="'Liberation Sans', sans-serif" font-size="10.4" font-weight="bold" font-style="normal" fill="#000" text-anchor="end">1.5</text>
<text x="39.3" y="541.3" font-family="'Liberation Sans', sans-serif" font-size="10.4" font-weight="bold" font-style="normal" fill="#000" text-anchor="end">1.0</text>
<text x="39.3" y="561.25" font-family="'Liberation Sans', sans-serif" font-size="10.4" font-weight="bold" font-style="normal" fill="#000" text-anchor="end">0.5</text>
<text x="39.3" y="581.2" font-family="'Liberation Sans', sans-serif" font-size="10.4" font-weight="bold" font-style="normal" fill="#000" text-anchor="end">0.0</text>
<text x="39.3" y="601.15" font-family="'Liberation Sans', sans-serif" font-size="10.4" font-weight="bold" font-style="normal" fill="#000" text-anchor="end">-0.5</text>
<text x="39.3" y="621.1" font-family="'Liberation Sans', sans-serif" font-size="10.4" font-weight="bold" font-style="normal" fill="#000" text-anchor="end">-1.0</text>
<text x="39.3" y="641.05" font-family="'Liberation Sans', sans-serif" font-size="10.4" font-weight="bold" font-style="normal" fill="#000" text-anchor="end">-1.5</text>
<path d="M209.9,520.1 L206.65,520.21 L202.15,520.36 L196.83,520.54 L191.08,520.75 L185.34,520.97 L180,521.2 L174.76,521.46 L169.22,521.77 L163.68,522.09 L158.43,522.4 L153.77,522.68 L150,522.9 L147.28,523.05 L145.39,523.13 L144.1,523.19 L143.15,523.23 L142.3,523.3 L141.3,523.4 L140.2,523.54 L139.21,523.7 L138.31,523.88 L137.5,524.07 L136.77,524.27 L136.1,524.5 L135.59,524.73 L135.26,524.97 L135.01,525.22 L134.73,525.5 L134.29,525.82 L133.6,526.2 L132.58,526.65 L131.29,527.17 L129.86,527.74 L128.4,528.31 L127.01,528.88 L125.8,529.4 L124.76,529.87 L123.81,530.32 L122.92,530.76 L122.11,531.19 L121.37,531.63 L120.7,532.1 L120.1,532.59 L119.59,533.09 L119.14,533.59 L118.76,534.11 L118.41,534.65 L118.1,535.2 L117.83,535.77 L117.63,536.34 L117.47,536.94 L117.34,537.54 L117.22,538.17 L117.1,538.8 L116.99,539.41 L116.9,539.98 L116.82,540.56 L116.75,541.21 L116.68,541.97 L116.6,542.9 L116.52,543.98 L116.43,545.17 L116.35,546.48 L116.27,547.9 L116.18,549.44 L116.1,551.1 L116.02,552.97 L115.94,555.08 L115.87,557.3 L115.79,559.52 L115.7,561.63 L115.6,563.5 L115.48,565.11 L115.36,566.54 L115.22,567.86 L115.08,569.11 L114.94,570.38 L114.8,571.7 L114.66,572.94 L114.51,574.03 L114.37,575.12 L114.23,576.38 L114.1,577.95 L114,580 L113.93,582.83 L113.89,586.38 L113.87,590.25 L113.84,594.04 L113.79,597.36 L113.7,599.8 L113.56,601.2 L113.39,601.84 L113.2,602.01 L113,601.98 L112.79,602.05 L112.6,602.5 L112.41,603.31 L112.21,604.26 L112.02,605.31 L111.83,606.4 L111.65,607.52 L111.5,608.6 L111.38,609.68 L111.28,610.8 L111.2,611.94 L111.12,613.06 L111.02,614.16 L110.9,615.2 L110.75,616.18 L110.59,617.11 L110.42,618.02 L110.23,618.91 L110.02,619.8 L109.8,620.7 L109.56,621.63 L109.3,622.57 L109.02,623.52 L108.73,624.45 L108.42,625.35 L108.1,626.2 L107.77,627.02 L107.44,627.81 L107.1,628.57 L106.73,629.29 L106.34,629.97 L105.9,630.6 L105.43,631.17 L104.92,631.7 L104.39,632.17 L103.82,632.61 L103.23,633.02 L102.6,633.4 L102.03,633.74 L101.54,634.03 L101.02,634.28 L100.36,634.52 L99.46,634.75 L98.2,635 L96.68,635.26 L94.99,635.53 L93.06,635.8 L90.81,636.06 L88.15,636.29 L85,636.5 L80.89,636.68 L75.79,636.85 L70.28,636.99 L64.95,637.12 L60.39,637.22 L57.2,637.3" fill="none" stroke="#1c1cd0" stroke-width="1.3" stroke-linejoin="round" stroke-linecap="round"/>
<path d="M133.6,578.2 L133.71,577.12 L133.86,575.67 L134.04,573.93 L134.23,571.96 L134.42,569.83 L134.6,567.6 L134.77,565.18 L134.93,562.5 L135.1,559.65 L135.27,556.74 L135.43,553.85 L135.6,551.1 L135.76,548.35 L135.91,545.5 L136.06,542.69 L136.22,540.03 L136.4,537.66 L136.6,535.7 L136.81,534.25 L137.03,533.23 L137.27,532.5 L137.53,531.91 L137.84,531.33 L138.2,530.6 L138.57,529.73 L138.91,528.83 L139.31,527.94 L139.8,527.08 L140.44,526.29 L141.3,525.6 L142.53,525.01 L144.11,524.49 L145.84,524.04 L147.54,523.66 L148.99,523.34 L150,523.1" fill="none" stroke="#1c1cd0" stroke-width="1.3" stroke-linejoin="round" stroke-linecap="round"/>
<path d="M119.6,533.6 L120.74,533.51 L121.88,533.31 L123.03,533.03 L124.17,532.67 L125.31,532.25 L126.45,531.75 L127.59,531.2 L128.73,530.59 L129.88,529.92 L131.02,529.2 L132.16,528.42 L133.3,527.6" fill="none" stroke="#1c1cd0" stroke-width="1.3" stroke-linejoin="round"/>
<path d="M119,534.4 L120.19,534.32 L121.38,534.12 L122.58,533.85 L123.77,533.5 L124.96,533.09 L126.15,532.61 L127.34,532.08 L128.53,531.49 L129.73,530.84 L130.92,530.15 L132.11,529.4 L133.3,528.6" fill="none" stroke="#1c1cd0" stroke-width="1.3" stroke-linejoin="round"/>
<path d="M118.6,535.2 L119.82,535.12 L121.05,534.94 L122.28,534.69 L123.5,534.37 L124.72,533.98 L125.95,533.54 L127.18,533.04 L128.4,532.49 L129.62,531.89 L130.85,531.24 L132.08,530.54 L133.3,529.8" fill="none" stroke="#1c1cd0" stroke-width="1.3" stroke-linejoin="round"/>
<path d="M118.1,536.7 L119.37,536.62 L120.63,536.45 L121.9,536.21 L123.17,535.9 L124.43,535.53 L125.7,535.1 L126.97,534.62 L128.23,534.09 L129.5,533.51 L130.77,532.89 L132.03,532.21 L133.3,531.5" fill="none" stroke="#1c1cd0" stroke-width="1.3" stroke-linejoin="round"/>
<path d="M117.8,537.6 L119.09,537.53 L120.38,537.39 L121.67,537.17 L122.97,536.9 L124.26,536.58 L125.55,536.21 L126.84,535.8 L128.13,535.34 L129.43,534.84 L130.72,534.3 L132.01,533.72 L133.3,533.1" fill="none" stroke="#1c1cd0" stroke-width="1.3" stroke-linejoin="round"/>
<path d="M117.1,543.9 L118.45,543.83 L119.8,543.68 L121.15,543.46 L122.5,543.19 L123.85,542.86 L125.2,542.48 L126.55,542.06 L127.9,541.59 L129.25,541.08 L130.6,540.53 L131.95,539.93 L133.3,539.3" fill="none" stroke="#1c1cd0" stroke-width="1.3" stroke-linejoin="round"/>
<path d="M116.1,563.5 L117.53,563.39 L118.97,563.13 L120.4,562.76 L121.83,562.29 L123.27,561.74 L124.7,561.1 L126.13,560.38 L127.57,559.58 L129,558.72 L130.43,557.78 L131.87,556.77 L133.3,555.7" fill="none" stroke="#1c1cd0" stroke-width="1.3" stroke-linejoin="round"/>
<path d="M112.6,603.6 L114.32,603.46 L116.05,603.13 L117.78,602.66 L119.5,602.07 L121.22,601.37 L122.95,600.55 L124.68,599.64 L126.4,598.63 L128.12,597.53 L129.85,596.34 L131.58,595.06 L133.3,593.7" fill="none" stroke="#1c1cd0" stroke-width="1.3" stroke-linejoin="round"/>
<path d="M111.5,615.2 L113.32,615.09 L115.13,614.83 L116.95,614.47 L118.77,614.01 L120.58,613.46 L122.4,612.83 L124.22,612.12 L126.03,611.34 L127.85,610.48 L129.67,609.55 L131.48,608.56 L133.3,607.5" fill="none" stroke="#1c1cd0" stroke-width="1.3" stroke-linejoin="round"/>
<path d="M110.6,621.3 L112.49,621.19 L114.38,620.96 L116.28,620.62 L118.17,620.19 L120.06,619.67 L121.95,619.08 L123.84,618.42 L125.73,617.69 L127.62,616.88 L129.52,616.02 L131.41,615.09 L133.3,614.1" fill="none" stroke="#1c1cd0" stroke-width="1.3" stroke-linejoin="round"/>
<path d="M108.7,627.9 L110.75,627.81 L112.8,627.61 L114.85,627.32 L116.9,626.96 L118.95,626.52 L121,626.02 L123.05,625.46 L125.1,624.84 L127.15,624.16 L129.2,623.43 L131.25,622.64 L133.3,621.8" fill="none" stroke="#1c1cd0" stroke-width="1.3" stroke-linejoin="round"/>
<path d="M107,630.1 L109.19,630.03 L111.38,629.86 L113.58,629.63 L115.77,629.33 L117.96,628.97 L120.15,628.56 L122.34,628.1 L124.53,627.59 L126.73,627.03 L128.92,626.43 L131.11,625.79 L133.3,625.1" fill="none" stroke="#1c1cd0" stroke-width="1.3" stroke-linejoin="round"/>
<path d="M105.4,631.7 L107.73,631.64 L110.05,631.49 L112.38,631.28 L114.7,631.02 L117.03,630.71 L119.35,630.35 L121.68,629.94 L124,629.49 L126.33,629 L128.65,628.47 L130.98,627.9 L133.3,627.3" fill="none" stroke="#1c1cd0" stroke-width="1.3" stroke-linejoin="round"/>
<path d="M103.7,632.8 L106.17,632.74 L108.63,632.62 L111.1,632.44 L113.57,632.21 L116.03,631.94 L118.5,631.63 L120.97,631.28 L123.43,630.89 L125.9,630.47 L128.37,630.01 L130.83,629.52 L133.3,629" fill="none" stroke="#1c1cd0" stroke-width="1.3" stroke-linejoin="round"/>
<path d="M101.5,633.8 L104.15,633.75 L106.8,633.64 L109.45,633.49 L112.1,633.29 L114.75,633.06 L117.4,632.78 L120.05,632.48 L122.7,632.14 L125.35,631.78 L128,631.38 L130.65,630.95 L133.3,630.5" fill="none" stroke="#1c1cd0" stroke-width="1.3" stroke-linejoin="round"/>
<path d="M113.7,599.8 L114.17,599.59 L114.8,599.31 L115.56,598.98 L116.39,598.59 L117.25,598.13 L118.1,597.6 L118.97,597.01 L119.89,596.35 L120.85,595.63 L121.81,594.84 L122.73,594 L123.6,593.1 L124.41,592.16 L125.19,591.18 L125.94,590.14 L126.66,589.02 L127.34,587.82 L128,586.5 L128.63,585.03 L129.23,583.4 L129.8,581.68 L130.34,579.93 L130.84,578.21 L131.3,576.6 L131.73,574.99 L132.14,573.32 L132.51,571.68 L132.83,570.18 L133.1,568.92 L133.3,568" fill="none" stroke="#1c1cd0" stroke-width="1.3" stroke-linejoin="round" stroke-linecap="round"/>
<text x="50.4" y="531.6" font-family="'Liberation Serif', serif" font-weight="bold" fill="#000"><tspan font-size="24">c</tspan><tspan font-size="16" font-weight="normal" dx="0.4">2</tspan></text>
<text x="138.3" y="610.8" font-family="'Liberation Sans', sans-serif" font-size="12.2" font-weight="bold" font-style="normal" fill="#2424d2" text-anchor="start" textLength="83.3" lengthAdjust="spacingAndGlyphs">9 wt. % La-Ce</text>
<text x="138.3" y="627.6" font-family="'Liberation Serif', serif" font-size="14.5" font-weight="bold" fill="#2424d2" textLength="43" lengthAdjust="spacingAndGlyphs">(<tspan font-style="italic">MMP</tspan>)</text>
<text x="109.3" y="673.6" font-family="'Liberation Sans', sans-serif" font-size="12" fill="#000"><tspan font-weight="normal" font-size="10.8">μ</tspan><tspan font-weight="normal" font-size="9" dy="4.8">0</tspan><tspan font-weight="bold" font-style="italic" dy="-4.8">H</tspan><tspan font-weight="bold" font-size="8" dy="4.6">ext</tspan><tspan font-weight="bold" dy="-4.6"> (T)</tspan></text>
<g transform="translate(16.6,601.5) rotate(-90)">
<text x="0" y="0" font-family="'Liberation Sans', sans-serif" font-size="14.5" fill="#000"><tspan font-weight="normal" font-size="12.5">μ</tspan><tspan font-weight="normal" font-size="7.8" dy="5.1">0</tspan><tspan font-weight="bold" font-style="italic" dy="-5.1">M</tspan><tspan font-weight="bold"> (T)</tspan></text>
</g>
<rect x="265.7" y="335.5" width="181.7" height="139.5" fill="none" stroke="#000" stroke-width="1.4"/>
<line x1="282.24" y1="475" x2="282.24" y2="473" stroke="#000" stroke-width="1.2"/>
<line x1="298.78" y1="475" x2="298.78" y2="472" stroke="#000" stroke-width="1.2"/>
<line x1="315.32" y1="475" x2="315.32" y2="473" stroke="#000" stroke-width="1.2"/>
<line x1="331.86" y1="475" x2="331.86" y2="472" stroke="#000" stroke-width="1.2"/>
<line x1="348.4" y1="475" x2="348.4" y2="473" stroke="#000" stroke-width="1.2"/>
<line x1="364.94" y1="475" x2="364.94" y2="472" stroke="#000" stroke-width="1.2"/>
<line x1="381.48" y1="475" x2="381.48" y2="473" stroke="#000" stroke-width="1.2"/>
<line x1="398.02" y1="475" x2="398.02" y2="472" stroke="#000" stroke-width="1.2"/>
<line x1="414.56" y1="475" x2="414.56" y2="473" stroke="#000" stroke-width="1.2"/>
<line x1="431.1" y1="475" x2="431.1" y2="472" stroke="#000" stroke-width="1.2"/>
<text x="265.7" y="486.4" font-family="'Liberation Sans', sans-serif" font-size="10.2" font-weight="bold" font-style="normal" fill="#000" text-anchor="middle">0</text>
<text x="298.78" y="486.4" font-family="'Liberation Sans', sans-serif" font-size="10.2" font-weight="bold" font-style="normal" fill="#000" text-anchor="middle">1</text>
<text x="331.86" y="486.4" font-family="'Liberation Sans', sans-serif" font-size="10.2" font-weight="bold" font-style="normal" fill="#000" text-anchor="middle">2</text>
<text x="364.94" y="486.4" font-family="'Liberation Sans', sans-serif" font-size="10.2" font-weight="bold" font-style="normal" fill="#000" text-anchor="middle">3</text>
<text x="398.02" y="486.4" font-family="'Liberation Sans', sans-serif" font-size="10.2" font-weight="bold" font-style="normal" fill="#000" text-anchor="middle">4</text>
<text x="431.1" y="486.4" font-family="'Liberation Sans', sans-serif" font-size="10.2" font-weight="bold" font-style="normal" fill="#000" text-anchor="middle">5</text>
<line x1="265.7" y1="462.2" x2="267.7" y2="462.2" stroke="#000" stroke-width="1.2"/>
<line x1="265.7" y1="449.6" x2="268.7" y2="449.6" stroke="#000" stroke-width="1.2"/>
<line x1="265.7" y1="437" x2="267.7" y2="437" stroke="#000" stroke-width="1.2"/>
<line x1="265.7" y1="424.4" x2="268.7" y2="424.4" stroke="#000" stroke-width="1.2"/>
<line x1="265.7" y1="411.8" x2="267.7" y2="411.8" stroke="#000" stroke-width="1.2"/>
<line x1="265.7" y1="399.2" x2="268.7" y2="399.2" stroke="#000" stroke-width="1.2"/>
<line x1="265.7" y1="386.6" x2="267.7" y2="386.6" stroke="#000" stroke-width="1.2"/>
<line x1="265.7" y1="374" x2="268.7" y2="374" stroke="#000" stroke-width="1.2"/>
<line x1="265.7" y1="361.4" x2="267.7" y2="361.4" stroke="#000" stroke-width="1.2"/>
<line x1="265.7" y1="348.8" x2="268.7" y2="348.8" stroke="#000" stroke-width="1.2"/>
<line x1="265.7" y1="336.2" x2="267.7" y2="336.2" stroke="#000" stroke-width="1.2"/>
<text x="261.4" y="452.6" font-family="'Liberation Sans', sans-serif" font-size="10.4" font-weight="bold" font-style="normal" fill="#000" text-anchor="end">0.5</text>
<text x="261.4" y="427.4" font-family="'Liberation Sans', sans-serif" font-size="10.4" font-weight="bold" font-style="normal" fill="#000" text-anchor="end">1.0</text>
<text x="261.4" y="402.2" font-family="'Liberation Sans', sans-serif" font-size="10.4" font-weight="bold" font-style="normal" fill="#000" text-anchor="end">1.5</text>
<text x="261.4" y="377" font-family="'Liberation Sans', sans-serif" font-size="10.4" font-weight="bold" font-style="normal" fill="#000" text-anchor="end">2.0</text>
<text x="261.4" y="351.8" font-family="'Liberation Sans', sans-serif" font-size="10.4" font-weight="bold" font-style="normal" fill="#000" text-anchor="end">2.5</text>
<line x1="295.2" y1="411.4" x2="295.2" y2="474" stroke="#e01818" stroke-width="1.4" stroke-dasharray="5 2 1.5 2"/>
<path d="M265.7,474.8 L272.32,474.3 L278.93,472.99 L282.24,470.77 L285.55,467.49 L288.86,464.22 L292.16,460.18 L295.47,457.16 L298.78,456.5 L302.09,456.5 L305.4,457.01 L308.7,459.68 L312.01,463.21 L318.63,468.75 L325.24,470.01 L331.86,470.77 L364.94,471.42 L398.02,471.42 L431.1,470.01" fill="none" stroke="#000" stroke-width="1.4" stroke-linejoin="round"/>
<rect x="263.9" y="473" width="3.6" height="3.6" fill="#fff" stroke="#000" stroke-width="1.1"/>
<rect x="270.52" y="472.5" width="3.6" height="3.6" fill="#fff" stroke="#000" stroke-width="1.1"/>
<rect x="277.13" y="471.19" width="3.6" height="3.6" fill="#fff" stroke="#000" stroke-width="1.1"/>
<rect x="280.44" y="468.97" width="3.6" height="3.6" fill="#fff" stroke="#000" stroke-width="1.1"/>
<rect x="283.75" y="465.69" width="3.6" height="3.6" fill="#fff" stroke="#000" stroke-width="1.1"/>
<rect x="287.06" y="462.42" width="3.6" height="3.6" fill="#fff" stroke="#000" stroke-width="1.1"/>
<rect x="290.36" y="458.38" width="3.6" height="3.6" fill="#fff" stroke="#000" stroke-width="1.1"/>
<rect x="293.67" y="455.36" width="3.6" height="3.6" fill="#fff" stroke="#000" stroke-width="1.1"/>
<rect x="296.98" y="454.7" width="3.6" height="3.6" fill="#fff" stroke="#000" stroke-width="1.1"/>
<rect x="300.29" y="454.7" width="3.6" height="3.6" fill="#fff" stroke="#000" stroke-width="1.1"/>
<rect x="303.6" y="455.21" width="3.6" height="3.6" fill="#fff" stroke="#000" stroke-width="1.1"/>
<rect x="306.9" y="457.88" width="3.6" height="3.6" fill="#fff" stroke="#000" stroke-width="1.1"/>
<rect x="310.21" y="461.41" width="3.6" height="3.6" fill="#fff" stroke="#000" stroke-width="1.1"/>
<rect x="316.83" y="466.95" width="3.6" height="3.6" fill="#fff" stroke="#000" stroke-width="1.1"/>
<rect x="323.44" y="468.21" width="3.6" height="3.6" fill="#fff" stroke="#000" stroke-width="1.1"/>
<rect x="330.06" y="468.97" width="3.6" height="3.6" fill="#fff" stroke="#000" stroke-width="1.1"/>
<rect x="363.14" y="469.62" width="3.6" height="3.6" fill="#fff" stroke="#000" stroke-width="1.1"/>
<rect x="396.22" y="469.62" width="3.6" height="3.6" fill="#fff" stroke="#000" stroke-width="1.1"/>
<rect x="429.3" y="468.21" width="3.6" height="3.6" fill="#fff" stroke="#000" stroke-width="1.1"/>
<path d="M265.7,474.8 L272.32,474.3 L278.93,471.78 L282.24,468.75 L285.55,462.2 L288.86,451.11 L292.16,440.53 L295.47,430.45 L298.78,418.35 L302.09,405.25 L305.4,392.14 L308.7,379.04 L312.01,368.46 L318.63,356.36 L325.24,351.32 L331.86,349.3 L364.94,348.8 L398.02,348.8 L431.1,348.8" fill="none" stroke="#000" stroke-width="1.4" stroke-linejoin="round"/>
<circle cx="265.7" cy="474.8" r="2.1" fill="#fff" stroke="#000" stroke-width="1.1"/>
<circle cx="272.32" cy="474.3" r="2.1" fill="#fff" stroke="#000" stroke-width="1.1"/>
<circle cx="278.93" cy="471.78" r="2.1" fill="#fff" stroke="#000" stroke-width="1.1"/>
<circle cx="282.24" cy="468.75" r="2.1" fill="#fff" stroke="#000" stroke-width="1.1"/>
<circle cx="285.55" cy="462.2" r="2.1" fill="#fff" stroke="#000" stroke-width="1.1"/>
<circle cx="288.86" cy="451.11" r="2.1" fill="#fff" stroke="#000" stroke-width="1.1"/>
<circle cx="292.16" cy="440.53" r="2.1" fill="#fff" stroke="#000" stroke-width="1.1"/>
<circle cx="295.47" cy="430.45" r="2.1" fill="#fff" stroke="#000" stroke-width="1.1"/>
<circle cx="298.78" cy="418.35" r="2.1" fill="#fff" stroke="#000" stroke-width="1.1"/>
<circle cx="302.09" cy="405.25" r="2.1" fill="#fff" stroke="#000" stroke-width="1.1"/>
<circle cx="305.4" cy="392.14" r="2.1" fill="#fff" stroke="#000" stroke-width="1.1"/>
<circle cx="308.7" cy="379.04" r="2.1" fill="#fff" stroke="#000" stroke-width="1.1"/>
<circle cx="312.01" cy="368.46" r="2.1" fill="#fff" stroke="#000" stroke-width="1.1"/>
<circle cx="318.63" cy="356.36" r="2.1" fill="#fff" stroke="#000" stroke-width="1.1"/>
<circle cx="325.24" cy="351.32" r="2.1" fill="#fff" stroke="#000" stroke-width="1.1"/>
<circle cx="331.86" cy="349.3" r="2.1" fill="#fff" stroke="#000" stroke-width="1.1"/>
<circle cx="364.94" cy="348.8" r="2.1" fill="#fff" stroke="#000" stroke-width="1.1"/>
<circle cx="398.02" cy="348.8" r="2.1" fill="#fff" stroke="#000" stroke-width="1.1"/>
<circle cx="431.1" cy="348.8" r="2.1" fill="#fff" stroke="#000" stroke-width="1.1"/>
<line x1="374.2" y1="377.3" x2="400.7" y2="377.3" stroke="#000" stroke-width="1.4"/>
<rect x="385.5" y="375.5" width="3.6" height="3.6" fill="#fff" stroke="#000" stroke-width="1.1"/>
<line x1="374.2" y1="396.8" x2="400.7" y2="396.8" stroke="#000" stroke-width="1.4"/>
<circle cx="387.3" cy="396.8" r="2.1" fill="#fff" stroke="#000" stroke-width="1.1"/>
<text x="404.9" y="381" font-family="'Liberation Sans', sans-serif" font-size="10" fill="#000"><tspan font-weight="normal" font-size="9">μ</tspan><tspan font-weight="normal" font-size="7" dy="5">0</tspan><tspan font-weight="bold" font-style="italic" dy="-5">M</tspan><tspan font-weight="bold" font-size="7" dy="5">rev</tspan></text>
<text x="404.9" y="400.7" font-family="'Liberation Sans', sans-serif" font-size="10" fill="#000"><tspan font-weight="normal" font-size="9">μ</tspan><tspan font-weight="normal" font-size="7" dy="5">0</tspan><tspan font-weight="bold" font-style="italic" dy="-5">M</tspan><tspan font-weight="bold" font-size="7" dy="4.4">irr</tspan></text>
<text x="273.8" y="356.9" font-family="'Liberation Serif', serif" font-weight="bold" fill="#000"><tspan font-size="24">c</tspan><tspan font-size="16" font-weight="bold" dx="0.4">3</tspan></text>
<text x="349.6" y="436.7" font-family="'Liberation Sans', sans-serif" font-size="12.2" font-weight="bold" font-style="normal" fill="#000" text-anchor="start" textLength="84.1" lengthAdjust="spacingAndGlyphs">9 wt. % La-Ce</text>
<text x="349.6" y="453.2" font-family="'Liberation Serif', serif" font-size="14.5" font-weight="bold" textLength="38.6" lengthAdjust="spacingAndGlyphs">(<tspan font-style="italic">SMP</tspan>)</text>
<text x="313.4" y="498.8" font-family="'Liberation Sans', sans-serif" font-size="13.3" font-weight="bold" font-style="normal" fill="#000" text-anchor="start" textLength="98.7" lengthAdjust="spacingAndGlyphs">Reversal field (T)</text>
<g transform="translate(240.1,428) rotate(-90)">
<text x="0" y="0" font-family="'Liberation Sans', sans-serif" font-size="14.5" fill="#000"><tspan font-weight="normal" font-size="12.5">μ</tspan><tspan font-weight="normal" font-size="7.8" dy="5.1">0</tspan><tspan font-weight="bold" font-style="italic" dy="-5.1">M</tspan><tspan font-weight="bold"> (T)</tspan></text>
</g>
<rect x="265.7" y="508.8" width="181.7" height="139.3" fill="none" stroke="#000" stroke-width="1.4"/>
<line x1="282.2" y1="648.1" x2="282.2" y2="646.1" stroke="#000" stroke-width="1.2"/>
<line x1="298.7" y1="648.1" x2="298.7" y2="645.1" stroke="#000" stroke-width="1.2"/>
<line x1="315.2" y1="648.1" x2="315.2" y2="646.1" stroke="#000" stroke-width="1.2"/>
<line x1="331.7" y1="648.1" x2="331.7" y2="645.1" stroke="#000" stroke-width="1.2"/>
<line x1="348.2" y1="648.1" x2="348.2" y2="646.1" stroke="#000" stroke-width="1.2"/>
<line x1="364.7" y1="648.1" x2="364.7" y2="645.1" stroke="#000" stroke-width="1.2"/>
<line x1="381.2" y1="648.1" x2="381.2" y2="646.1" stroke="#000" stroke-width="1.2"/>
<line x1="397.7" y1="648.1" x2="397.7" y2="645.1" stroke="#000" stroke-width="1.2"/>
<line x1="414.2" y1="648.1" x2="414.2" y2="646.1" stroke="#000" stroke-width="1.2"/>
<line x1="430.7" y1="648.1" x2="430.7" y2="645.1" stroke="#000" stroke-width="1.2"/>
<text x="265.7" y="659.7" font-family="'Liberation Sans', sans-serif" font-size="10.2" font-weight="bold" font-style="normal" fill="#000" text-anchor="middle">0</text>
<text x="298.7" y="659.7" font-family="'Liberation Sans', sans-serif" font-size="10.2" font-weight="bold" font-style="normal" fill="#000" text-anchor="middle">1</text>
<text x="331.7" y="659.7" font-family="'Liberation Sans', sans-serif" font-size="10.2" font-weight="bold" font-style="normal" fill="#000" text-anchor="middle">2</text>
<text x="364.7" y="659.7" font-family="'Liberation Sans', sans-serif" font-size="10.2" font-weight="bold" font-style="normal" fill="#000" text-anchor="middle">3</text>
<text x="397.7" y="659.7" font-family="'Liberation Sans', sans-serif" font-size="10.2" font-weight="bold" font-style="normal" fill="#000" text-anchor="middle">4</text>
<text x="430.7" y="659.7" font-family="'Liberation Sans', sans-serif" font-size="10.2" font-weight="bold" font-style="normal" fill="#000" text-anchor="middle">5</text>
<line x1="265.7" y1="634.98" x2="267.7" y2="634.98" stroke="#000" stroke-width="1.2"/>
<line x1="265.7" y1="622.35" x2="268.7" y2="622.35" stroke="#000" stroke-width="1.2"/>
<line x1="265.7" y1="609.73" x2="267.7" y2="609.73" stroke="#000" stroke-width="1.2"/>
<line x1="265.7" y1="597.1" x2="268.7" y2="597.1" stroke="#000" stroke-width="1.2"/>
<line x1="265.7" y1="584.48" x2="267.7" y2="584.48" stroke="#000" stroke-width="1.2"/>
<line x1="265.7" y1="571.85" x2="268.7" y2="571.85" stroke="#000" stroke-width="1.2"/>
<line x1="265.7" y1="559.23" x2="267.7" y2="559.23" stroke="#000" stroke-width="1.2"/>
<line x1="265.7" y1="546.6" x2="268.7" y2="546.6" stroke="#000" stroke-width="1.2"/>
<line x1="265.7" y1="533.98" x2="267.7" y2="533.98" stroke="#000" stroke-width="1.2"/>
<line x1="265.7" y1="521.35" x2="268.7" y2="521.35" stroke="#000" stroke-width="1.2"/>
<text x="261.4" y="625.35" font-family="'Liberation Sans', sans-serif" font-size="10.4" font-weight="bold" font-style="normal" fill="#000" text-anchor="end">0.5</text>
<text x="261.4" y="600.1" font-family="'Liberation Sans', sans-serif" font-size="10.4" font-weight="bold" font-style="normal" fill="#000" text-anchor="end">1.0</text>
<text x="261.4" y="574.85" font-family="'Liberation Sans', sans-serif" font-size="10.4" font-weight="bold" font-style="normal" fill="#000" text-anchor="end">1.5</text>
<text x="261.4" y="549.6" font-family="'Liberation Sans', sans-serif" font-size="10.4" font-weight="bold" font-style="normal" fill="#000" text-anchor="end">2.0</text>
<text x="261.4" y="524.35" font-family="'Liberation Sans', sans-serif" font-size="10.4" font-weight="bold" font-style="normal" fill="#000" text-anchor="end">2.5</text>
<line x1="308.4" y1="565.3" x2="308.4" y2="644" stroke="#e01818" stroke-width="1.4" stroke-dasharray="5 2 1.5 2"/>
<path d="M265.7,647.6 L278.9,646.09 L285.5,645.58 L292.1,644.57 L295.4,644.07 L298.7,643.56 L302,640.53 L305.3,637.5 L308.6,606.19 L311.9,633.46 L315.2,635.48 L318.5,638 L325.1,641.03 L331.7,642.05 L364.7,641.54 L397.7,640.02 L430.7,639.52" fill="none" stroke="#1c1cd0" stroke-width="1.4" stroke-linejoin="round"/>
<rect x="263.9" y="645.8" width="3.6" height="3.6" fill="#fff" stroke="#1c1cd0" stroke-width="1.1"/>
<rect x="277.1" y="644.29" width="3.6" height="3.6" fill="#fff" stroke="#1c1cd0" stroke-width="1.1"/>
<rect x="283.7" y="643.78" width="3.6" height="3.6" fill="#fff" stroke="#1c1cd0" stroke-width="1.1"/>
<rect x="290.3" y="642.77" width="3.6" height="3.6" fill="#fff" stroke="#1c1cd0" stroke-width="1.1"/>
<rect x="293.6" y="642.27" width="3.6" height="3.6" fill="#fff" stroke="#1c1cd0" stroke-width="1.1"/>
<rect x="296.9" y="641.76" width="3.6" height="3.6" fill="#fff" stroke="#1c1cd0" stroke-width="1.1"/>
<rect x="300.2" y="638.73" width="3.6" height="3.6" fill="#fff" stroke="#1c1cd0" stroke-width="1.1"/>
<rect x="303.5" y="635.7" width="3.6" height="3.6" fill="#fff" stroke="#1c1cd0" stroke-width="1.1"/>
<rect x="306.8" y="604.39" width="3.6" height="3.6" fill="#fff" stroke="#1c1cd0" stroke-width="1.1"/>
<rect x="310.1" y="631.66" width="3.6" height="3.6" fill="#fff" stroke="#1c1cd0" stroke-width="1.1"/>
<rect x="313.4" y="633.68" width="3.6" height="3.6" fill="#fff" stroke="#1c1cd0" stroke-width="1.1"/>
<rect x="316.7" y="636.21" width="3.6" height="3.6" fill="#fff" stroke="#1c1cd0" stroke-width="1.1"/>
<rect x="323.3" y="639.24" width="3.6" height="3.6" fill="#fff" stroke="#1c1cd0" stroke-width="1.1"/>
<rect x="329.9" y="640.25" width="3.6" height="3.6" fill="#fff" stroke="#1c1cd0" stroke-width="1.1"/>
<rect x="362.9" y="639.74" width="3.6" height="3.6" fill="#fff" stroke="#1c1cd0" stroke-width="1.1"/>
<rect x="395.9" y="638.23" width="3.6" height="3.6" fill="#fff" stroke="#1c1cd0" stroke-width="1.1"/>
<rect x="428.9" y="637.72" width="3.6" height="3.6" fill="#fff" stroke="#1c1cd0" stroke-width="1.1"/>
<path d="M265.7,647.6 L278.9,645.58 L285.5,645.08 L292.1,644.07 L295.4,643.06 L298.7,640.53 L302,632.45 L305.3,612.25 L308.6,598.11 L311.9,564.78 L315.2,548.62 L318.5,537.51 L325.1,526.4 L331.7,520.34 L364.7,516.3 L397.7,516.3 L430.7,516.3" fill="none" stroke="#1c1cd0" stroke-width="1.4" stroke-linejoin="round"/>
<circle cx="265.7" cy="647.6" r="2.1" fill="#fff" stroke="#1c1cd0" stroke-width="1.1"/>
<circle cx="278.9" cy="645.58" r="2.1" fill="#fff" stroke="#1c1cd0" stroke-width="1.1"/>
<circle cx="285.5" cy="645.08" r="2.1" fill="#fff" stroke="#1c1cd0" stroke-width="1.1"/>
<circle cx="292.1" cy="644.07" r="2.1" fill="#fff" stroke="#1c1cd0" stroke-width="1.1"/>
<circle cx="295.4" cy="643.06" r="2.1" fill="#fff" stroke="#1c1cd0" stroke-width="1.1"/>
<circle cx="298.7" cy="640.53" r="2.1" fill="#fff" stroke="#1c1cd0" stroke-width="1.1"/>
<circle cx="302" cy="632.45" r="2.1" fill="#fff" stroke="#1c1cd0" stroke-width="1.1"/>
<circle cx="305.3" cy="612.25" r="2.1" fill="#fff" stroke="#1c1cd0" stroke-width="1.1"/>
<circle cx="308.6" cy="598.11" r="2.1" fill="#fff" stroke="#1c1cd0" stroke-width="1.1"/>
<circle cx="311.9" cy="564.78" r="2.1" fill="#fff" stroke="#1c1cd0" stroke-width="1.1"/>
<circle cx="315.2" cy="548.62" r="2.1" fill="#fff" stroke="#1c1cd0" stroke-width="1.1"/>
<circle cx="318.5" cy="537.51" r="2.1" fill="#fff" stroke="#1c1cd0" stroke-width="1.1"/>
<circle cx="325.1" cy="526.4" r="2.1" fill="#fff" stroke="#1c1cd0" stroke-width="1.1"/>
<circle cx="331.7" cy="520.34" r="2.1" fill="#fff" stroke="#1c1cd0" stroke-width="1.1"/>
<circle cx="364.7" cy="516.3" r="2.1" fill="#fff" stroke="#1c1cd0" stroke-width="1.1"/>
<circle cx="397.7" cy="516.3" r="2.1" fill="#fff" stroke="#1c1cd0" stroke-width="1.1"/>
<circle cx="430.7" cy="516.3" r="2.1" fill="#fff" stroke="#1c1cd0" stroke-width="1.1"/>
<line x1="374.2" y1="548.7" x2="400.7" y2="548.7" stroke="#1c1cd0" stroke-width="1.4"/>
<rect x="385.5" y="546.9" width="3.6" height="3.6" fill="#fff" stroke="#1c1cd0" stroke-width="1.1"/>
<line x1="374.2" y1="568.3" x2="400.7" y2="568.3" stroke="#1c1cd0" stroke-width="1.4"/>
<circle cx="387.3" cy="568.3" r="2.1" fill="#fff" stroke="#1c1cd0" stroke-width="1.1"/>
<text x="404.9" y="553.8" font-family="'Liberation Sans', sans-serif" font-size="10" fill="#000"><tspan font-weight="normal" font-size="9">μ</tspan><tspan font-weight="normal" font-size="7" dy="5">0</tspan><tspan font-weight="bold" font-style="italic" dy="-5">M</tspan><tspan font-weight="bold" font-size="7" dy="5">rev</tspan></text>
<text x="404.9" y="573.3" font-family="'Liberation Sans', sans-serif" font-size="10" fill="#000"><tspan font-weight="normal" font-size="9">μ</tspan><tspan font-weight="normal" font-size="7" dy="5">0</tspan><tspan font-weight="bold" font-style="italic" dy="-5">M</tspan><tspan font-weight="bold" font-size="7" dy="4.4">irr</tspan></text>
<text x="273.8" y="530.4" font-family="'Liberation Serif', serif" font-weight="bold" fill="#000"><tspan font-size="24">c</tspan><tspan font-size="16" font-weight="bold" dx="0.4">4</tspan></text>
<text x="349.6" y="610.4" font-family="'Liberation Sans', sans-serif" font-size="12.2" font-weight="bold" font-style="normal" fill="#2424d2" text-anchor="start" textLength="82.4" lengthAdjust="spacingAndGlyphs">9 wt. % La-Ce</text>
<text x="349.6" y="627.9" font-family="'Liberation Serif', serif" font-size="14.5" font-weight="bold" fill="#2424d2" textLength="44.9" lengthAdjust="spacingAndGlyphs">(<tspan font-style="italic">MMP</tspan>)</text>
<text x="313.4" y="672.3" font-family="'Liberation Sans', sans-serif" font-size="13.3" font-weight="bold" font-style="normal" fill="#000" text-anchor="start" textLength="98.7" lengthAdjust="spacingAndGlyphs">Reversal field (T)</text>
<g transform="translate(240.1,601.5) rotate(-90)">
<text x="0" y="0" font-family="'Liberation Sans', sans-serif" font-size="14.5" fill="#000"><tspan font-weight="normal" font-size="12.5">μ</tspan><tspan font-weight="normal" font-size="7.8" dy="5.1">0</tspan><tspan font-weight="bold" font-style="italic" dy="-5.1">M</tspan><tspan font-weight="bold"> (T)</tspan></text>
</g>
<rect x="490.7" y="334.8" width="180.6" height="140.7" fill="none" stroke="#000" stroke-width="1.4"/>
<line x1="500.4" y1="475.5" x2="500.4" y2="472.5" stroke="#000" stroke-width="1.2"/>
<line x1="516.55" y1="475.5" x2="516.55" y2="473.5" stroke="#000" stroke-width="1.2"/>
<line x1="532.7" y1="475.5" x2="532.7" y2="472.5" stroke="#000" stroke-width="1.2"/>
<line x1="548.85" y1="475.5" x2="548.85" y2="473.5" stroke="#000" stroke-width="1.2"/>
<line x1="565" y1="475.5" x2="565" y2="472.5" stroke="#000" stroke-width="1.2"/>
<line x1="581.15" y1="475.5" x2="581.15" y2="473.5" stroke="#000" stroke-width="1.2"/>
<line x1="597.3" y1="475.5" x2="597.3" y2="472.5" stroke="#000" stroke-width="1.2"/>
<line x1="613.45" y1="475.5" x2="613.45" y2="473.5" stroke="#000" stroke-width="1.2"/>
<line x1="629.6" y1="475.5" x2="629.6" y2="472.5" stroke="#000" stroke-width="1.2"/>
<line x1="645.75" y1="475.5" x2="645.75" y2="473.5" stroke="#000" stroke-width="1.2"/>
<line x1="661.9" y1="475.5" x2="661.9" y2="472.5" stroke="#000" stroke-width="1.2"/>
<text x="500.4" y="486.8" font-family="'Liberation Sans', sans-serif" font-size="10.2" font-weight="bold" font-style="normal" fill="#000" text-anchor="middle">0</text>
<text x="532.7" y="486.8" font-family="'Liberation Sans', sans-serif" font-size="10.2" font-weight="bold" font-style="normal" fill="#000" text-anchor="middle">1</text>
<text x="565" y="486.8" font-family="'Liberation Sans', sans-serif" font-size="10.2" font-weight="bold" font-style="normal" fill="#000" text-anchor="middle">2</text>
<text x="597.3" y="486.8" font-family="'Liberation Sans', sans-serif" font-size="10.2" font-weight="bold" font-style="normal" fill="#000" text-anchor="middle">3</text>
<text x="629.6" y="486.8" font-family="'Liberation Sans', sans-serif" font-size="10.2" font-weight="bold" font-style="normal" fill="#000" text-anchor="middle">4</text>
<text x="661.9" y="486.8" font-family="'Liberation Sans', sans-serif" font-size="10.2" font-weight="bold" font-style="normal" fill="#000" text-anchor="middle">5</text>
<line x1="490.7" y1="465.3" x2="492.7" y2="465.3" stroke="#000" stroke-width="1.2"/>
<line x1="490.7" y1="452.25" x2="493.7" y2="452.25" stroke="#000" stroke-width="1.2"/>
<line x1="490.7" y1="439.2" x2="492.7" y2="439.2" stroke="#000" stroke-width="1.2"/>
<line x1="490.7" y1="426.15" x2="493.7" y2="426.15" stroke="#000" stroke-width="1.2"/>
<line x1="490.7" y1="413.1" x2="492.7" y2="413.1" stroke="#000" stroke-width="1.2"/>
<line x1="490.7" y1="400.05" x2="493.7" y2="400.05" stroke="#000" stroke-width="1.2"/>
<line x1="490.7" y1="387" x2="492.7" y2="387" stroke="#000" stroke-width="1.2"/>
<line x1="490.7" y1="373.95" x2="493.7" y2="373.95" stroke="#000" stroke-width="1.2"/>
<line x1="490.7" y1="360.9" x2="492.7" y2="360.9" stroke="#000" stroke-width="1.2"/>
<line x1="490.7" y1="347.85" x2="493.7" y2="347.85" stroke="#000" stroke-width="1.2"/>
<text x="487.2" y="468.3" font-family="'Liberation Sans', sans-serif" font-size="10.4" font-weight="bold" font-style="normal" fill="#000" text-anchor="end">0.0</text>
<text x="487.2" y="442.2" font-family="'Liberation Sans', sans-serif" font-size="10.4" font-weight="bold" font-style="normal" fill="#000" text-anchor="end">0.5</text>
<text x="487.2" y="416.1" font-family="'Liberation Sans', sans-serif" font-size="10.4" font-weight="bold" font-style="normal" fill="#000" text-anchor="end">1.0</text>
<text x="487.2" y="390" font-family="'Liberation Sans', sans-serif" font-size="10.4" font-weight="bold" font-style="normal" fill="#000" text-anchor="end">1.5</text>
<text x="487.2" y="363.9" font-family="'Liberation Sans', sans-serif" font-size="10.4" font-weight="bold" font-style="normal" fill="#000" text-anchor="end">2.0</text>
<text x="487.2" y="337.8" font-family="'Liberation Sans', sans-serif" font-size="10.4" font-weight="bold" font-style="normal" fill="#000" text-anchor="end">2.5</text>
<line x1="532.3" y1="385.2" x2="532.3" y2="452" stroke="#e01818" stroke-width="1.4" stroke-dasharray="5 2 1.5 2"/>
<line x1="497.2" y1="462.9" x2="503.6" y2="462.9" stroke="#000" stroke-width="1.3"/>
<line x1="500.4" y1="459.7" x2="500.4" y2="466.1" stroke="#000" stroke-width="1.3"/>
<line x1="503.66" y1="461.12" x2="510.06" y2="461.12" stroke="#000" stroke-width="1.3"/>
<line x1="506.86" y1="457.92" x2="506.86" y2="464.32" stroke="#000" stroke-width="1.3"/>
<line x1="510.12" y1="457.99" x2="516.52" y2="457.99" stroke="#000" stroke-width="1.3"/>
<line x1="513.32" y1="454.79" x2="513.32" y2="461.19" stroke="#000" stroke-width="1.3"/>
<line x1="513.35" y1="446.51" x2="519.75" y2="446.51" stroke="#000" stroke-width="1.3"/>
<line x1="516.55" y1="443.31" x2="516.55" y2="449.71" stroke="#000" stroke-width="1.3"/>
<line x1="516.58" y1="429.28" x2="522.98" y2="429.28" stroke="#000" stroke-width="1.3"/>
<line x1="519.78" y1="426.08" x2="519.78" y2="432.48" stroke="#000" stroke-width="1.3"/>
<line x1="519.81" y1="421.71" x2="526.21" y2="421.71" stroke="#000" stroke-width="1.3"/>
<line x1="523.01" y1="418.51" x2="523.01" y2="424.91" stroke="#000" stroke-width="1.3"/>
<line x1="523.04" y1="419.89" x2="529.44" y2="419.89" stroke="#000" stroke-width="1.3"/>
<line x1="526.24" y1="416.69" x2="526.24" y2="423.09" stroke="#000" stroke-width="1.3"/>
<line x1="526.27" y1="418.32" x2="532.67" y2="418.32" stroke="#000" stroke-width="1.3"/>
<line x1="529.47" y1="415.12" x2="529.47" y2="421.52" stroke="#000" stroke-width="1.3"/>
<line x1="529.5" y1="410.49" x2="535.9" y2="410.49" stroke="#000" stroke-width="1.3"/>
<line x1="532.7" y1="407.29" x2="532.7" y2="413.69" stroke="#000" stroke-width="1.3"/>
<line x1="532.73" y1="410.49" x2="539.13" y2="410.49" stroke="#000" stroke-width="1.3"/>
<line x1="535.93" y1="407.29" x2="535.93" y2="413.69" stroke="#000" stroke-width="1.3"/>
<line x1="535.96" y1="413.62" x2="542.36" y2="413.62" stroke="#000" stroke-width="1.3"/>
<line x1="539.16" y1="410.42" x2="539.16" y2="416.82" stroke="#000" stroke-width="1.3"/>
<line x1="539.19" y1="417.28" x2="545.59" y2="417.28" stroke="#000" stroke-width="1.3"/>
<line x1="542.39" y1="414.08" x2="542.39" y2="420.48" stroke="#000" stroke-width="1.3"/>
<line x1="542.42" y1="431.89" x2="548.82" y2="431.89" stroke="#000" stroke-width="1.3"/>
<line x1="545.62" y1="428.69" x2="545.62" y2="435.09" stroke="#000" stroke-width="1.3"/>
<line x1="548.88" y1="448.07" x2="555.28" y2="448.07" stroke="#000" stroke-width="1.3"/>
<line x1="552.08" y1="444.87" x2="552.08" y2="451.27" stroke="#000" stroke-width="1.3"/>
<line x1="555.34" y1="457.99" x2="561.74" y2="457.99" stroke="#000" stroke-width="1.3"/>
<line x1="558.54" y1="454.79" x2="558.54" y2="461.19" stroke="#000" stroke-width="1.3"/>
<line x1="561.8" y1="461.91" x2="568.2" y2="461.91" stroke="#000" stroke-width="1.3"/>
<line x1="565" y1="458.71" x2="565" y2="465.11" stroke="#000" stroke-width="1.3"/>
<line x1="594.1" y1="465.3" x2="600.5" y2="465.3" stroke="#000" stroke-width="1.3"/>
<line x1="597.3" y1="462.1" x2="597.3" y2="468.5" stroke="#000" stroke-width="1.3"/>
<line x1="626.4" y1="465.3" x2="632.8" y2="465.3" stroke="#000" stroke-width="1.3"/>
<line x1="629.6" y1="462.1" x2="629.6" y2="468.5" stroke="#000" stroke-width="1.3"/>
<line x1="658.7" y1="465.3" x2="665.1" y2="465.3" stroke="#000" stroke-width="1.3"/>
<line x1="661.9" y1="462.1" x2="661.9" y2="468.5" stroke="#000" stroke-width="1.3"/>
<text x="498.1" y="359.5" font-family="'Liberation Serif', serif" font-weight="bold" fill="#000"><tspan font-size="24">c</tspan><tspan font-size="16" font-weight="bold" dx="0.4">5</tspan></text>
<text x="577" y="437" font-family="'Liberation Sans', sans-serif" font-size="12.2" font-weight="bold" font-style="normal" fill="#000" text-anchor="start" textLength="83" lengthAdjust="spacingAndGlyphs">9 wt. % La-Ce</text>
<text x="577.5" y="453.0" font-family="'Liberation Serif', serif" font-size="14.5" font-weight="bold" textLength="39.5" lengthAdjust="spacingAndGlyphs">(<tspan font-style="italic">SMP</tspan>)</text>
<text x="540.9" y="497.6" font-family="'Liberation Sans', sans-serif" font-size="13.3" font-weight="bold" font-style="normal" fill="#000" text-anchor="start" textLength="97.8" lengthAdjust="spacingAndGlyphs">Reversal field (T)</text>
<g transform="translate(464,438.6) rotate(-90) scale(1.075,1)"><text x="0" y="0" font-family="'Liberation Sans', sans-serif" font-size="14" fill="#000"><tspan font-weight="normal" font-size="12.5">μ</tspan><tspan font-size="8" dy="3">0</tspan><tspan font-family="'Liberation Serif', serif" font-style="italic" font-size="17" dy="-3">χ</tspan><tspan font-weight="bold" font-size="8.5" dy="2.5">irr</tspan><tspan font-weight="bold" dy="-2.5">(T</tspan><tspan font-weight="bold" font-size="8.5" dy="-6">-1</tspan><tspan font-weight="bold" dy="6">)</tspan></text></g>
<rect x="490.7" y="507.9" width="180.6" height="139.4" fill="none" stroke="#000" stroke-width="1.4"/>
<line x1="500.4" y1="647.3" x2="500.4" y2="644.3" stroke="#000" stroke-width="1.2"/>
<line x1="516.55" y1="647.3" x2="516.55" y2="645.3" stroke="#000" stroke-width="1.2"/>
<line x1="532.7" y1="647.3" x2="532.7" y2="644.3" stroke="#000" stroke-width="1.2"/>
<line x1="548.85" y1="647.3" x2="548.85" y2="645.3" stroke="#000" stroke-width="1.2"/>
<line x1="565" y1="647.3" x2="565" y2="644.3" stroke="#000" stroke-width="1.2"/>
<line x1="581.15" y1="647.3" x2="581.15" y2="645.3" stroke="#000" stroke-width="1.2"/>
<line x1="597.3" y1="647.3" x2="597.3" y2="644.3" stroke="#000" stroke-width="1.2"/>
<line x1="613.45" y1="647.3" x2="613.45" y2="645.3" stroke="#000" stroke-width="1.2"/>
<line x1="629.6" y1="647.3" x2="629.6" y2="644.3" stroke="#000" stroke-width="1.2"/>
<line x1="645.75" y1="647.3" x2="645.75" y2="645.3" stroke="#000" stroke-width="1.2"/>
<line x1="661.9" y1="647.3" x2="661.9" y2="644.3" stroke="#000" stroke-width="1.2"/>
<text x="500.4" y="657.9" font-family="'Liberation Sans', sans-serif" font-size="10.2" font-weight="bold" font-style="normal" fill="#000" text-anchor="middle">0</text>
<text x="532.7" y="657.9" font-family="'Liberation Sans', sans-serif" font-size="10.2" font-weight="bold" font-style="normal" fill="#000" text-anchor="middle">1</text>
<text x="565" y="657.9" font-family="'Liberation Sans', sans-serif" font-size="10.2" font-weight="bold" font-style="normal" fill="#000" text-anchor="middle">2</text>
<text x="597.3" y="657.9" font-family="'Liberation Sans', sans-serif" font-size="10.2" font-weight="bold" font-style="normal" fill="#000" text-anchor="middle">3</text>
<text x="629.6" y="657.9" font-family="'Liberation Sans', sans-serif" font-size="10.2" font-weight="bold" font-style="normal" fill="#000" text-anchor="middle">4</text>
<text x="661.9" y="657.9" font-family="'Liberation Sans', sans-serif" font-size="10.2" font-weight="bold" font-style="normal" fill="#000" text-anchor="middle">5</text>
<line x1="490.7" y1="637.2" x2="492.7" y2="637.2" stroke="#000" stroke-width="1.2"/>
<line x1="490.7" y1="624.28" x2="493.7" y2="624.28" stroke="#000" stroke-width="1.2"/>
<line x1="490.7" y1="611.35" x2="492.7" y2="611.35" stroke="#000" stroke-width="1.2"/>
<line x1="490.7" y1="598.43" x2="493.7" y2="598.43" stroke="#000" stroke-width="1.2"/>
<line x1="490.7" y1="585.5" x2="492.7" y2="585.5" stroke="#000" stroke-width="1.2"/>
<line x1="490.7" y1="572.58" x2="493.7" y2="572.58" stroke="#000" stroke-width="1.2"/>
<line x1="490.7" y1="559.65" x2="492.7" y2="559.65" stroke="#000" stroke-width="1.2"/>
<line x1="490.7" y1="546.73" x2="493.7" y2="546.73" stroke="#000" stroke-width="1.2"/>
<line x1="490.7" y1="533.8" x2="492.7" y2="533.8" stroke="#000" stroke-width="1.2"/>
<line x1="490.7" y1="520.88" x2="493.7" y2="520.88" stroke="#000" stroke-width="1.2"/>
<text x="487.2" y="640.2" font-family="'Liberation Sans', sans-serif" font-size="10.4" font-weight="bold" font-style="normal" fill="#000" text-anchor="end">0.0</text>
<text x="487.2" y="614.35" font-family="'Liberation Sans', sans-serif" font-size="10.4" font-weight="bold" font-style="normal" fill="#000" text-anchor="end">0.5</text>
<text x="487.2" y="588.5" font-family="'Liberation Sans', sans-serif" font-size="10.4" font-weight="bold" font-style="normal" fill="#000" text-anchor="end">1.0</text>
<text x="487.2" y="562.65" font-family="'Liberation Sans', sans-serif" font-size="10.4" font-weight="bold" font-style="normal" fill="#000" text-anchor="end">1.5</text>
<text x="487.2" y="536.8" font-family="'Liberation Sans', sans-serif" font-size="10.4" font-weight="bold" font-style="normal" fill="#000" text-anchor="end">2.0</text>
<text x="487.2" y="510.95" font-family="'Liberation Sans', sans-serif" font-size="10.4" font-weight="bold" font-style="normal" fill="#000" text-anchor="end">2.5</text>
<line x1="541.9" y1="522.3" x2="541.9" y2="610.5" stroke="#e01818" stroke-width="1.4" stroke-dasharray="5 2 1.5 2"/>
<line x1="497.7" y1="632.79" x2="503.1" y2="638.19" stroke="#1c1cd0" stroke-width="1.3"/>
<line x1="497.7" y1="638.19" x2="503.1" y2="632.79" stroke="#1c1cd0" stroke-width="1.3"/>
<line x1="510.62" y1="632.95" x2="516.02" y2="638.35" stroke="#1c1cd0" stroke-width="1.3"/>
<line x1="510.62" y1="638.35" x2="516.02" y2="632.95" stroke="#1c1cd0" stroke-width="1.3"/>
<line x1="517.08" y1="632.95" x2="522.48" y2="638.35" stroke="#1c1cd0" stroke-width="1.3"/>
<line x1="517.08" y1="638.35" x2="522.48" y2="632.95" stroke="#1c1cd0" stroke-width="1.3"/>
<line x1="523.54" y1="630.36" x2="528.94" y2="635.76" stroke="#1c1cd0" stroke-width="1.3"/>
<line x1="523.54" y1="635.76" x2="528.94" y2="630.36" stroke="#1c1cd0" stroke-width="1.3"/>
<line x1="526.77" y1="627" x2="532.17" y2="632.4" stroke="#1c1cd0" stroke-width="1.3"/>
<line x1="526.77" y1="632.4" x2="532.17" y2="627" stroke="#1c1cd0" stroke-width="1.3"/>
<line x1="530" y1="614.85" x2="535.4" y2="620.25" stroke="#1c1cd0" stroke-width="1.3"/>
<line x1="530" y1="620.25" x2="535.4" y2="614.85" stroke="#1c1cd0" stroke-width="1.3"/>
<line x1="533.23" y1="578.66" x2="538.63" y2="584.06" stroke="#1c1cd0" stroke-width="1.3"/>
<line x1="533.23" y1="584.06" x2="538.63" y2="578.66" stroke="#1c1cd0" stroke-width="1.3"/>
<line x1="536.46" y1="565.74" x2="541.86" y2="571.14" stroke="#1c1cd0" stroke-width="1.3"/>
<line x1="536.46" y1="571.14" x2="541.86" y2="565.74" stroke="#1c1cd0" stroke-width="1.3"/>
<line x1="539.69" y1="536.79" x2="545.09" y2="542.19" stroke="#1c1cd0" stroke-width="1.3"/>
<line x1="539.69" y1="542.19" x2="545.09" y2="536.79" stroke="#1c1cd0" stroke-width="1.3"/>
<line x1="542.92" y1="540.41" x2="548.32" y2="545.81" stroke="#1c1cd0" stroke-width="1.3"/>
<line x1="542.92" y1="545.81" x2="548.32" y2="540.41" stroke="#1c1cd0" stroke-width="1.3"/>
<line x1="546.15" y1="581.25" x2="551.55" y2="586.65" stroke="#1c1cd0" stroke-width="1.3"/>
<line x1="546.15" y1="586.65" x2="551.55" y2="581.25" stroke="#1c1cd0" stroke-width="1.3"/>
<line x1="549.38" y1="601.93" x2="554.78" y2="607.33" stroke="#1c1cd0" stroke-width="1.3"/>
<line x1="549.38" y1="607.33" x2="554.78" y2="601.93" stroke="#1c1cd0" stroke-width="1.3"/>
<line x1="555.84" y1="617.96" x2="561.24" y2="623.36" stroke="#1c1cd0" stroke-width="1.3"/>
<line x1="555.84" y1="623.36" x2="561.24" y2="617.96" stroke="#1c1cd0" stroke-width="1.3"/>
<line x1="562.3" y1="628.81" x2="567.7" y2="634.21" stroke="#1c1cd0" stroke-width="1.3"/>
<line x1="562.3" y1="634.21" x2="567.7" y2="628.81" stroke="#1c1cd0" stroke-width="1.3"/>
<line x1="594.6" y1="633.98" x2="600" y2="639.38" stroke="#1c1cd0" stroke-width="1.3"/>
<line x1="594.6" y1="639.38" x2="600" y2="633.98" stroke="#1c1cd0" stroke-width="1.3"/>
<line x1="626.9" y1="634.5" x2="632.3" y2="639.9" stroke="#1c1cd0" stroke-width="1.3"/>
<line x1="626.9" y1="639.9" x2="632.3" y2="634.5" stroke="#1c1cd0" stroke-width="1.3"/>
<line x1="659.2" y1="634.5" x2="664.6" y2="639.9" stroke="#1c1cd0" stroke-width="1.3"/>
<line x1="659.2" y1="639.9" x2="664.6" y2="634.5" stroke="#1c1cd0" stroke-width="1.3"/>
<text x="498.1" y="534.5" font-family="'Liberation Serif', serif" font-weight="bold" fill="#000"><tspan font-size="24">c</tspan><tspan font-size="16" font-weight="normal" dx="0.4">6</tspan></text>
<text x="577" y="609.8" font-family="'Liberation Sans', sans-serif" font-size="12.2" font-weight="bold" font-style="normal" fill="#2424d2" text-anchor="start" textLength="83" lengthAdjust="spacingAndGlyphs">9 wt. % La-Ce</text>
<text x="577" y="627.6" font-family="'Liberation Serif', serif" font-size="14.5" font-weight="bold" fill="#2424d2" textLength="44.5" lengthAdjust="spacingAndGlyphs">(<tspan font-style="italic">MMP</tspan>)</text>
<text x="540.9" y="671.5" font-family="'Liberation Sans', sans-serif" font-size="13.3" font-weight="bold" font-style="normal" fill="#000" text-anchor="start" textLength="97.8" lengthAdjust="spacingAndGlyphs">Reversal field (T)</text>
<g transform="translate(464,612.1) rotate(-90) scale(1.075,1)"><text x="0" y="0" font-family="'Liberation Sans', sans-serif" font-size="14" fill="#000"><tspan font-weight="normal" font-size="12.5">μ</tspan><tspan font-size="8" dy="3">0</tspan><tspan font-family="'Liberation Serif', serif" font-style="italic" font-size="17" dy="-3">χ</tspan><tspan font-weight="bold" font-size="8.5" dy="2.5">irr</tspan><tspan font-weight="bold" dy="-2.5">(T</tspan><tspan font-weight="bold" font-size="8.5" dy="-6">-1</tspan><tspan font-weight="bold" dy="6">)</tspan></text></g>
</svg></body></html>
